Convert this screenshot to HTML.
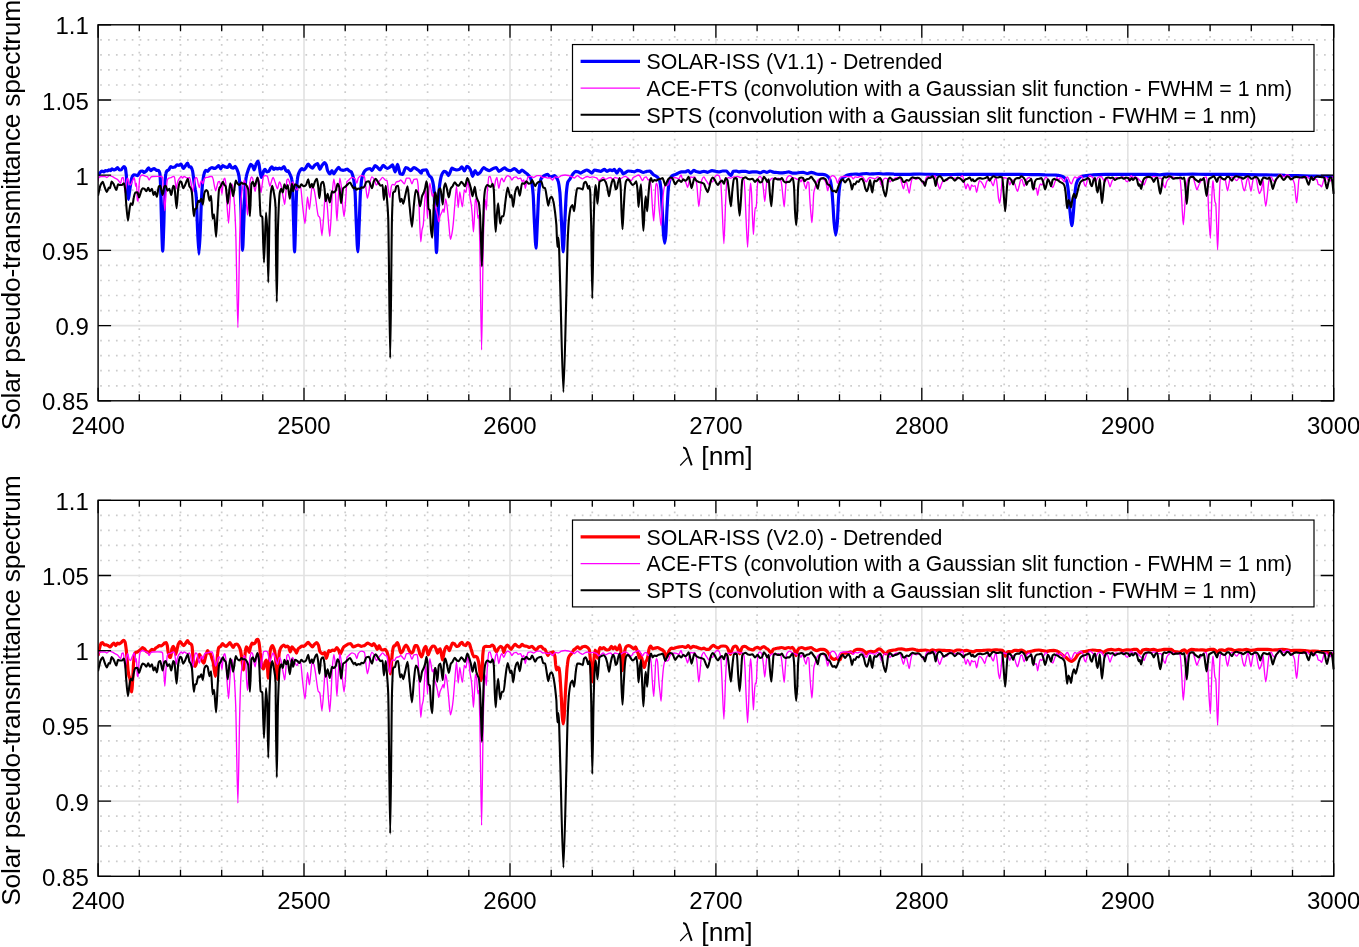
<!DOCTYPE html>
<html><head><meta charset="utf-8"><title>Solar pseudo-transmittance spectrum</title>
<style>
html,body{margin:0;padding:0;background:#fff;}
svg{display:block;will-change:transform}
text{font-family:"Liberation Sans",sans-serif;fill:#000}
.t{font-size:24px}
.a{font-size:26.4px}
.l{font-size:21.3px}
</style></head><body>
<svg width="1359" height="947" viewBox="0 0 1359 947">
<rect width="1359" height="947" fill="#fff"/>
<path d="M139.3 28.15V400.8M180.5 28.15V400.8M221.7 28.15V400.8M262.8 28.15V400.8M345.2 28.15V400.8M386.4 28.15V400.8M427.6 28.15V400.8M468.8 28.15V400.8M551.2 28.15V400.8M592.3 28.15V400.8M633.5 28.15V400.8M674.7 28.15V400.8M757.1 28.15V400.8M798.3 28.15V400.8M839.5 28.15V400.8M880.6 28.15V400.8M963.0 28.15V400.8M1004.2 28.15V400.8M1045.4 28.15V400.8M1086.6 28.15V400.8M1169.0 28.15V400.8M1210.1 28.15V400.8M1251.3 28.15V400.8M1292.5 28.15V400.8" stroke="#cccccc" stroke-width="1.7" stroke-dasharray="1.7 6.196" fill="none"/>
<path d="M100.15 39.8H1333.7M100.15 54.9H1333.7M100.15 69.9H1333.7M100.15 85.0H1333.7M100.15 115.0H1333.7M100.15 130.1H1333.7M100.15 145.1H1333.7M100.15 160.2H1333.7M100.15 190.2H1333.7M100.15 205.3H1333.7M100.15 220.3H1333.7M100.15 235.4H1333.7M100.15 265.4H1333.7M100.15 280.5H1333.7M100.15 295.5H1333.7M100.15 310.6H1333.7M100.15 340.6H1333.7M100.15 355.7H1333.7M100.15 370.7H1333.7M100.15 385.8H1333.7" stroke="#cccccc" stroke-width="1.7" stroke-dasharray="1.7 6.196" fill="none"/>
<path d="M304.0 24.8V400.8M510.0 24.8V400.8M715.9 24.8V400.8M921.8 24.8V400.8M1127.8 24.8V400.8M98.1 100.0H1333.7M98.1 175.2H1333.7M98.1 250.4H1333.7M98.1 325.6H1333.7" stroke="#e2e2e2" stroke-width="1.6" fill="none"/>
<clipPath id="c24"><rect x="98.1" y="24.8" width="1236.8000000000002" height="376.0"/></clipPath><g clip-path="url(#c24)">
<path d="M98.0 175.6C99.0 174.4 100.8 171.0 101.9 171.0C102.4 171.0 103.3 171.9 103.8 171.9C104.3 171.9 105.1 170.6 105.6 170.6C106.1 170.6 107.0 171.0 107.5 171.0C107.9 171.0 108.6 169.8 109.0 169.8C109.4 169.8 110.2 170.6 110.6 170.6C111.0 170.6 111.6 168.8 111.9 168.8C112.4 168.8 113.3 170.0 113.8 170.0C114.3 170.0 115.1 169.6 115.6 169.4C116.1 169.1 117.0 167.5 117.5 167.5C118.0 167.5 118.9 170.0 119.4 170.0C119.9 170.0 120.8 169.9 121.3 169.8C121.9 169.6 123.1 166.5 123.8 166.5C124.2 166.5 125.0 167.3 125.4 168.1C125.6 168.6 126.0 172.6 126.3 175.0C126.5 177.8 127.0 187.0 127.3 190.0C127.5 193.1 128.0 199.4 128.3 199.4C128.6 199.4 129.1 194.5 129.4 192.5C129.7 190.4 130.3 185.7 130.7 183.8C131.0 181.8 131.6 178.3 131.9 177.5C132.4 176.3 133.3 174.8 133.8 174.8C134.3 174.8 135.2 174.9 135.7 175.0C136.2 175.1 137.0 175.6 137.5 175.6C137.9 175.6 138.4 174.2 138.8 173.8C139.3 173.0 140.2 171.4 140.7 171.3C141.1 171.1 141.9 171.0 142.3 171.0C142.9 171.0 143.8 172.5 144.4 172.5C144.9 172.5 145.8 171.5 146.3 171.0C146.9 170.4 147.9 167.9 148.5 167.9C149.1 167.9 150.1 170.6 150.7 170.6C151.1 170.6 151.9 169.7 152.3 169.4C152.8 169.1 153.6 168.5 154.0 168.5C154.6 168.5 155.7 170.1 156.3 170.3C156.9 170.4 158.0 170.4 158.6 170.6C158.9 170.8 159.5 171.9 159.8 173.1C160.0 173.9 160.4 181.5 160.6 186.3C160.8 192.6 161.3 217.3 161.6 225.1C161.9 233.8 162.4 251.1 162.7 251.1C163.0 251.1 163.5 233.8 163.8 225.1C164.1 217.3 164.5 191.3 164.8 186.3C165.1 181.2 165.5 174.9 165.8 173.8C166.1 172.5 166.6 171.3 166.9 171.0C167.4 170.5 168.3 170.2 168.8 169.8C169.3 169.3 170.2 166.5 170.7 166.5C171.2 166.5 172.1 167.5 172.6 167.5C173.2 167.5 174.4 167.2 175.1 166.9C175.6 166.7 176.4 164.8 176.9 164.8C177.4 164.8 178.3 165.3 178.8 165.3C179.4 165.3 180.5 164.0 181.1 164.0C181.6 164.0 182.6 168.5 183.2 168.5C183.7 168.5 184.6 166.9 185.1 166.3C185.7 165.4 186.9 163.1 187.6 163.1C188.0 163.1 188.7 166.9 189.1 166.9C189.5 166.9 190.3 166.9 190.7 166.9C191.1 166.9 191.9 168.7 192.3 170.0C192.6 170.8 193.1 174.4 193.3 176.3C193.6 178.4 194.1 183.2 194.4 185.0C194.7 186.6 195.2 188.3 195.4 190.0C195.7 191.5 196.1 194.6 196.3 197.5C196.7 201.7 197.2 223.1 197.6 230.1C197.9 237.7 198.6 254.1 198.9 254.1C199.3 254.1 200.0 237.9 200.3 230.1C200.7 223.0 201.2 201.8 201.6 196.3C201.9 190.7 202.5 183.9 202.8 181.3C203.2 178.6 203.7 174.8 204.1 173.8C204.5 172.4 205.3 170.3 205.7 170.3C206.2 170.3 207.1 171.3 207.6 171.3C208.1 171.3 209.0 169.4 209.5 169.0C210.1 168.5 211.3 167.5 212.0 167.5C212.6 167.5 213.8 168.5 214.5 168.5C215.0 168.5 215.8 167.8 216.3 167.5C217.0 167.1 218.2 165.6 218.8 165.6C219.3 165.6 220.2 168.8 220.7 168.8C221.2 168.8 222.1 165.6 222.6 165.6C223.3 165.6 224.4 166.7 225.1 166.9C225.8 167.1 226.9 167.5 227.6 167.5C228.2 167.5 229.2 164.4 229.7 164.4C230.2 164.4 230.9 167.3 231.3 167.5C231.9 167.8 232.7 168.1 233.2 168.1C233.7 168.1 234.6 166.3 235.1 166.3C235.6 166.3 236.5 168.3 237.0 169.4C237.5 170.5 238.4 173.1 238.9 175.6C239.2 177.3 239.8 182.9 240.1 187.5C240.4 192.2 241.0 211.7 241.4 220.1C241.7 228.4 242.3 250.3 242.6 250.3C242.9 250.3 243.5 228.4 243.9 220.1C244.2 211.7 244.8 192.0 245.1 187.5C245.4 183.1 246.0 177.9 246.4 176.3C246.9 173.8 247.7 171.4 248.2 170.0C248.9 168.2 250.1 164.4 250.7 164.4C251.2 164.4 251.9 165.1 252.4 165.6C252.8 166.2 253.7 169.8 254.1 169.8C254.6 169.8 255.3 166.2 255.8 165.0C255.9 164.7 256.1 164.0 256.2 163.8C256.6 162.9 257.4 161.2 257.8 161.2C258.1 161.2 258.7 163.2 259.0 164.4C259.3 165.6 259.9 170.9 260.2 172.5C260.6 174.2 261.2 177.5 261.5 177.5C261.8 177.5 262.2 175.8 262.5 175.0C262.8 174.1 263.4 171.2 263.8 170.6C264.1 170.1 264.7 169.4 265.0 169.4C265.5 169.4 266.4 171.9 266.9 171.9C267.4 171.9 268.3 171.5 268.8 171.3C269.3 171.0 270.1 168.7 270.6 168.1C271.0 167.7 271.6 166.9 271.9 166.9C272.4 166.9 273.3 169.4 273.8 169.4C274.3 169.4 275.1 168.1 275.6 168.1C276.1 168.1 277.0 168.8 277.5 168.8C278.0 168.8 278.9 168.1 279.4 168.1C279.9 168.1 280.8 169.0 281.3 169.0C282.0 169.0 283.3 166.5 284.0 166.5C284.5 166.5 285.2 169.4 285.6 170.0C286.0 170.5 286.6 171.3 286.9 171.3C287.2 171.3 287.8 170.6 288.1 170.6C288.5 170.6 289.1 172.5 289.4 173.1C289.7 173.8 290.3 174.8 290.6 175.6C291.0 176.5 291.6 178.0 291.9 180.0C292.2 181.6 292.6 192.2 292.9 198.8C293.1 204.6 293.5 222.6 293.8 230.1C294.0 236.5 294.3 251.9 294.5 251.9C294.8 251.9 295.2 237.0 295.4 230.1C295.6 223.2 296.0 204.5 296.3 198.8C296.5 192.2 297.0 182.2 297.3 180.0C297.6 177.3 298.2 174.8 298.5 173.8C298.9 172.6 299.6 171.2 300.0 170.6C300.5 169.9 301.4 168.5 301.9 168.5C302.4 168.5 303.3 170.0 303.8 170.0C304.3 170.0 305.2 168.7 305.7 168.1C306.3 167.3 307.5 164.0 308.2 164.0C308.7 164.0 309.5 165.8 310.0 166.3C310.7 166.9 311.9 168.1 312.5 168.1C313.0 168.1 313.9 166.1 314.4 165.6C315.3 164.9 316.7 163.5 317.6 163.5C318.2 163.5 319.2 169.4 319.8 169.4C320.4 169.4 321.4 166.5 321.9 165.6C322.6 164.7 323.8 162.5 324.4 162.5C324.9 162.5 325.8 163.9 326.3 165.0C326.6 165.7 327.2 169.9 327.6 170.6C328.2 172.0 329.4 173.8 330.1 173.8C330.6 173.8 331.4 170.6 331.9 170.6C332.4 170.6 333.3 173.8 333.8 173.8C334.5 173.8 335.6 170.9 336.3 170.0C336.9 169.2 338.0 167.3 338.6 167.3C339.1 167.3 340.1 169.6 340.7 169.8C341.4 170.0 342.5 170.3 343.2 170.3C343.7 170.3 344.6 169.9 345.1 169.8C345.7 169.6 346.7 169.0 347.3 169.0C347.9 169.0 348.9 170.7 349.4 171.0C349.9 171.3 350.8 171.5 351.3 171.9C351.7 172.2 352.2 174.0 352.6 175.0C352.9 176.0 353.5 178.1 353.8 180.0C354.2 181.9 354.7 187.8 355.1 192.5C355.4 197.3 356.0 216.6 356.3 223.8C356.7 232.4 357.4 251.9 357.8 251.9C358.2 251.9 358.8 232.1 359.2 223.8C359.5 216.3 360.1 197.6 360.4 192.5C360.8 187.9 361.3 181.8 361.6 180.0C362.0 177.5 362.8 174.8 363.2 173.8C363.7 172.6 364.6 171.1 365.1 170.6C365.7 170.0 366.9 169.2 367.6 169.0C368.2 168.8 369.4 168.5 370.1 168.5C370.6 168.5 371.5 170.6 372.0 170.6C372.8 170.6 374.3 165.6 375.1 165.6C375.8 165.6 376.9 167.0 377.6 167.5C378.3 168.1 379.4 169.8 380.1 169.8C380.9 169.8 382.4 165.3 383.2 165.3C383.9 165.3 385.1 167.1 385.7 167.5C386.2 167.8 387.1 168.5 387.6 168.5C388.3 168.5 389.4 167.4 390.1 166.9C390.8 166.4 391.9 164.8 392.6 164.8C393.3 164.8 394.4 171.9 395.1 171.9C395.8 171.9 396.9 164.4 397.6 164.4C398.3 164.4 399.4 173.4 400.1 173.8C400.8 174.1 401.9 174.4 402.6 174.4C403.4 174.4 404.9 167.5 405.7 167.5C406.2 167.5 407.1 167.9 407.6 168.1C408.4 168.5 409.9 170.6 410.7 170.6C411.6 170.6 413.0 167.5 413.9 167.5C414.5 167.5 415.7 168.4 416.4 168.8C417.0 169.2 418.2 170.1 418.9 170.6C419.5 171.2 420.7 173.1 421.4 173.1C421.5 173.1 421.7 170.7 421.9 170.6C422.5 170.2 423.7 170.1 424.4 170.0C424.9 169.9 425.9 169.8 426.5 169.8C426.9 169.8 427.7 172.9 428.1 173.8C428.6 174.6 429.3 175.8 429.8 176.3C430.2 176.7 430.9 177.0 431.3 177.5C431.7 178.0 432.4 180.3 432.8 181.9C433.1 183.3 433.7 186.5 434.0 190.0C434.3 192.9 434.8 210.7 435.0 217.6C435.4 227.7 436.1 252.6 436.5 252.6C436.9 252.6 437.6 227.1 438.0 217.6C438.3 210.4 438.8 193.7 439.1 190.0C439.5 186.0 440.1 181.7 440.4 180.0C440.8 177.9 441.5 175.3 441.9 174.4C442.5 173.2 443.5 171.3 444.0 171.3C444.6 171.3 445.5 171.6 446.0 171.9C446.7 172.2 447.9 175.6 448.5 175.6C448.9 175.6 449.6 173.4 450.0 172.5C450.5 171.4 451.4 168.1 451.9 168.1C452.6 168.1 453.7 169.2 454.4 169.4C455.1 169.6 456.2 170.0 456.9 170.0C457.6 170.0 458.7 169.7 459.4 169.4C460.1 169.1 461.2 166.9 461.9 166.9C462.6 166.9 463.7 171.0 464.4 171.0C465.1 171.0 466.2 166.3 466.9 166.3C467.6 166.3 468.8 167.4 469.4 168.1C469.9 168.6 470.6 170.2 471.0 171.3C471.4 172.2 472.1 176.3 472.5 176.3C473.2 176.3 474.4 170.6 475.1 170.6C475.7 170.6 476.9 174.4 477.6 174.4C478.2 174.4 479.4 173.1 480.1 172.5C481.1 171.6 482.8 167.5 483.8 167.5C484.5 167.5 485.6 169.0 486.3 169.4C487.1 169.8 488.6 170.6 489.4 170.6C490.4 170.6 492.2 168.9 493.2 168.5C494.0 168.2 495.5 167.5 496.3 167.5C497.0 167.5 498.1 171.3 498.8 171.3C499.5 171.3 500.6 170.4 501.3 170.0C502.1 169.5 503.6 167.9 504.4 167.9C505.3 167.9 506.7 169.8 507.6 170.0C508.4 170.3 509.9 170.6 510.7 170.6C511.7 170.6 513.5 168.5 514.5 168.5C515.1 168.5 516.3 170.1 517.0 170.6C517.6 171.2 518.8 172.5 519.5 172.5C520.1 172.5 521.3 170.0 522.0 170.0C522.6 170.0 523.8 171.4 524.5 171.9C525.1 172.4 526.3 173.2 527.0 173.8C527.5 174.2 528.3 175.1 528.8 175.6C529.3 176.2 530.2 177.1 530.7 178.1C531.0 178.9 531.6 181.8 532.0 183.8C532.3 185.8 532.9 190.7 533.2 195.0C533.5 199.3 534.1 217.4 534.5 223.8C534.9 231.5 535.6 248.2 536.0 248.2C536.3 248.2 537.0 231.1 537.3 223.8C537.7 217.1 538.3 199.3 538.6 195.0C538.9 190.7 539.5 185.6 539.8 183.8C540.2 181.9 540.8 179.4 541.1 178.8C541.5 178.0 542.2 177.2 542.6 176.9C543.3 176.3 544.4 175.6 545.1 175.3C545.8 175.0 546.9 174.4 547.6 174.4C548.3 174.4 549.4 176.9 550.1 176.9C550.8 176.9 551.9 176.5 552.6 176.3C553.1 176.1 554.0 175.6 554.5 175.6C555.0 175.6 555.9 176.9 556.4 177.5C556.9 178.2 557.7 179.7 558.2 181.3C558.7 182.6 559.4 188.1 559.9 192.5C560.3 196.6 561.0 213.0 561.4 220.1C561.9 228.9 562.7 251.9 563.2 251.9C563.7 251.9 564.4 228.3 564.9 220.1C565.3 212.5 566.0 196.6 566.4 192.5C566.8 188.4 567.5 182.9 567.9 181.9C568.5 180.4 569.5 179.7 570.1 178.8C570.8 177.7 572.0 175.2 572.6 174.4C573.5 173.3 574.9 171.3 575.8 171.3C576.4 171.3 577.5 171.7 578.1 171.9C578.8 172.1 580.0 173.1 580.6 173.1C581.5 173.1 582.9 171.7 583.8 171.3C584.6 170.9 586.0 170.0 586.9 170.0C587.5 170.0 588.7 170.9 589.4 171.3C590.1 171.7 591.2 173.1 591.9 173.1C592.6 173.1 593.7 170.0 594.4 170.0C595.2 170.0 596.7 170.5 597.5 170.6C598.4 170.8 599.8 171.3 600.6 171.3C601.6 171.3 603.4 169.4 604.4 169.4C605.1 169.4 606.2 171.3 606.9 171.3C607.7 171.3 609.2 169.8 610.0 169.8C610.7 169.8 611.9 170.6 612.5 170.6C613.0 170.6 613.9 169.4 614.4 169.4C615.1 169.4 616.2 173.1 616.9 173.1C617.6 173.1 618.7 169.0 619.4 169.0C619.9 169.0 620.8 170.1 621.3 170.6C621.8 171.2 622.7 173.8 623.2 173.8C623.8 173.8 625.0 172.9 625.7 172.5C626.3 172.1 627.5 171.0 628.2 171.0C629.0 171.0 630.5 171.2 631.3 171.3C632.1 171.4 633.6 171.9 634.4 171.9C635.3 171.9 636.7 170.3 637.5 170.3C638.2 170.3 639.4 170.8 640.0 171.0C640.9 171.3 642.3 172.5 643.2 172.5C644.2 172.5 645.9 171.4 646.9 171.3C647.8 171.2 649.2 171.0 650.1 171.0C650.6 171.0 651.4 172.6 651.9 173.1C652.4 173.7 653.3 174.7 653.8 175.0C654.5 175.5 655.6 175.8 656.3 176.3C656.8 176.6 657.7 177.5 658.2 178.1C658.6 178.7 659.4 179.9 659.8 181.3C660.1 182.3 660.7 186.7 661.1 190.0C661.4 193.4 662.0 205.3 662.3 211.3C662.7 217.3 663.2 231.6 663.6 235.1C663.9 238.2 664.4 243.2 664.7 243.2C665.0 243.2 665.5 238.3 665.8 235.1C666.1 231.8 666.6 216.9 666.9 211.3C667.3 205.0 667.9 193.3 668.2 190.0C668.5 186.7 669.1 182.6 669.5 181.3C669.9 179.6 670.6 177.4 671.1 176.9C671.6 176.2 672.6 175.5 673.2 175.3C673.9 174.9 675.0 174.7 675.7 174.4C676.4 174.1 677.5 173.4 678.2 173.1C679.0 172.8 680.5 171.9 681.3 171.9C682.3 171.9 684.1 171.9 685.1 171.9C685.9 171.9 687.4 170.6 688.2 170.6C688.9 170.6 690.0 173.1 690.7 173.1C691.5 173.1 693.0 170.3 693.8 170.3C694.5 170.3 695.7 171.3 696.3 171.5C697.3 171.8 699.1 172.3 700.1 172.3C701.1 172.3 702.8 171.3 703.9 171.3C704.9 171.3 706.6 172.3 707.6 172.3C708.8 172.3 710.8 170.6 712.0 170.6C713.0 170.6 714.7 171.1 715.7 171.3C716.6 171.4 718.0 171.9 718.9 171.9C719.9 171.9 721.6 171.0 722.6 171.0C723.6 171.0 725.4 171.0 726.4 171.0C727.0 171.0 728.2 173.1 728.9 173.8C729.5 174.3 730.5 175.6 731.1 175.6C731.7 175.6 732.7 171.4 733.2 171.3C734.1 171.1 735.5 171.0 736.4 171.0C737.0 171.0 738.1 171.9 738.8 171.9C739.6 171.9 741.0 171.3 741.9 171.3C742.9 171.3 744.6 171.3 745.6 171.3C746.5 171.3 747.9 172.3 748.8 172.3C749.8 172.3 751.5 171.9 752.5 171.9C753.5 171.9 755.3 171.9 756.3 171.9C757.3 171.9 759.0 172.8 760.0 172.8C761.0 172.8 762.8 171.3 763.8 171.3C764.6 171.3 766.1 172.5 766.9 172.5C767.7 172.5 769.2 171.0 770.0 171.0C771.0 171.0 772.8 172.1 773.8 172.3C774.8 172.4 776.5 172.4 777.5 172.5C778.5 172.6 780.3 172.8 781.3 172.8C782.3 172.8 784.0 172.6 785.0 172.5C786.0 172.4 787.8 171.9 788.8 171.9C789.8 171.9 791.5 173.1 792.5 173.1C793.5 173.1 795.3 173.1 796.3 173.1C797.3 173.1 799.0 172.6 800.0 172.5C800.9 172.4 802.3 172.3 803.2 172.3C804.2 172.3 805.9 173.5 806.9 173.5C808.1 173.5 810.1 172.3 811.3 172.3C812.3 172.3 814.1 173.2 815.1 173.5C816.1 173.8 817.8 174.4 818.8 174.4C819.8 174.4 821.6 174.4 822.6 174.4C823.4 174.4 824.9 174.7 825.7 175.0C826.4 175.2 827.5 176.2 828.2 176.9C828.7 177.4 829.6 178.7 830.1 180.0C830.5 181.0 831.2 184.7 831.6 187.5C831.9 189.9 832.5 198.0 832.8 202.5C833.2 207.1 833.7 219.0 834.1 222.6C834.5 227.1 835.3 235.1 835.7 235.1C836.1 235.1 836.9 227.6 837.3 222.6C837.6 219.5 838.1 206.8 838.3 202.5C838.6 197.7 839.2 189.7 839.5 187.5C839.8 185.1 840.4 182.1 840.7 181.3C841.2 180.0 842.1 178.7 842.6 178.1C843.2 177.4 844.4 176.7 845.1 176.3C845.7 175.9 846.9 175.2 847.6 175.0C848.6 174.8 850.3 174.5 851.3 174.4C852.3 174.3 854.1 174.0 855.1 174.0C856.1 174.0 857.8 174.4 858.8 174.4C859.8 174.4 861.6 173.9 862.6 173.8C863.6 173.7 865.4 173.5 866.4 173.5C867.4 173.5 869.1 174.0 870.1 174.0C871.1 174.0 872.9 173.8 873.9 173.8C875.2 173.7 877.5 173.5 878.9 173.5C880.2 173.5 882.5 174.0 883.9 174.0C885.2 174.0 887.5 173.8 888.9 173.8C890.2 173.8 892.5 173.9 893.9 174.0C894.2 174.0 894.7 174.4 895.0 174.4C898.3 174.4 904.2 174.4 907.5 174.4C910.8 174.4 916.7 174.0 920.0 174.0C923.4 174.0 929.2 174.3 932.5 174.4C935.9 174.5 941.7 174.6 945.0 174.6C948.4 174.6 954.2 174.4 957.5 174.4C960.9 174.4 966.7 174.4 970.1 174.4C973.4 174.4 979.2 174.4 982.6 174.4C985.9 174.4 991.7 174.4 995.1 174.4C998.4 174.4 1004.2 174.4 1007.6 174.4C1010.9 174.4 1016.8 174.4 1020.1 174.4C1023.4 174.4 1029.3 174.6 1032.6 174.6C1035.9 174.7 1041.8 174.7 1045.1 174.8C1047.8 174.8 1052.5 174.9 1055.1 175.0C1056.1 175.1 1057.8 175.2 1058.8 175.4C1059.8 175.5 1061.5 176.1 1062.5 176.5C1063.2 176.8 1064.3 177.5 1065.0 178.1C1065.5 178.6 1066.4 180.3 1066.9 181.9C1067.3 183.3 1068.1 188.8 1068.5 192.5C1068.9 196.0 1069.6 207.5 1070.0 211.3C1070.5 216.1 1071.4 225.7 1071.9 225.7C1072.3 225.7 1073.1 215.8 1073.5 211.3C1073.9 207.1 1074.6 195.9 1075.0 192.5C1075.4 189.2 1076.1 184.4 1076.5 183.2C1077.1 181.3 1078.2 179.5 1078.8 178.8C1079.6 177.8 1081.1 176.5 1081.9 176.3C1083.1 176.0 1085.1 175.8 1086.3 175.6C1087.9 175.4 1090.9 174.8 1092.5 174.8C1095.9 174.6 1101.7 174.4 1105.0 174.4C1108.4 174.4 1114.2 174.4 1117.5 174.4C1120.9 174.4 1126.7 174.4 1130.1 174.4C1133.4 174.4 1139.2 174.4 1142.6 174.4C1145.9 174.4 1151.7 174.4 1155.1 174.4C1156.4 174.4 1158.7 174.8 1160.1 174.8C1162.1 174.8 1165.6 174.1 1167.6 174.1C1170.9 174.1 1176.8 174.4 1180.1 174.4C1183.4 174.4 1189.3 174.1 1192.6 174.1C1195.9 174.1 1201.8 174.4 1205.1 174.4C1208.4 174.4 1214.3 174.4 1217.6 174.4C1222.3 174.4 1230.4 174.4 1235.0 174.4C1241.7 174.4 1253.4 174.6 1260.1 174.8C1263.4 174.8 1269.2 175.0 1272.6 175.0C1275.9 175.1 1281.7 175.2 1285.1 175.3C1288.4 175.3 1294.2 175.5 1297.6 175.6C1300.9 175.7 1306.8 175.9 1310.1 176.0C1313.4 176.1 1319.3 176.2 1322.6 176.3C1325.5 176.3 1330.7 176.5 1333.6 176.5" stroke="#0000ff" stroke-width="3.2" fill="none" stroke-linejoin="round"/>
<path d="M98.0 181.3C98.2 180.3 98.5 177.7 98.8 177.5C99.4 176.9 100.6 176.5 101.2 176.5C102.3 176.5 104.0 176.5 105.0 176.5C105.5 176.5 106.4 177.5 106.9 177.5C107.5 177.5 108.7 175.6 109.4 175.6C110.1 175.6 111.2 176.0 111.9 176.3C112.7 176.6 114.2 177.7 115.0 178.1C115.7 178.5 116.9 178.9 117.5 179.4C118.0 179.8 118.9 181.3 119.4 181.9C119.7 182.3 120.3 183.2 120.6 183.2C121.0 183.2 121.6 178.4 121.9 178.1C122.2 177.8 122.8 177.5 123.2 177.5C123.4 177.5 123.8 180.3 124.0 181.9C124.3 183.7 124.8 192.5 125.0 192.5C125.3 192.5 125.8 189.2 126.0 187.5C126.3 186.0 126.7 180.8 126.9 180.0C127.1 179.2 127.5 178.1 127.8 178.1C128.1 178.1 128.7 183.3 129.0 183.8C129.5 184.4 130.2 185.0 130.7 185.0C131.0 185.0 131.6 182.6 131.9 181.9C132.2 181.2 132.8 180.1 133.2 179.4C133.4 178.9 133.8 177.5 134.0 177.5C134.2 177.5 134.6 179.1 134.8 180.0C135.0 181.1 135.4 186.3 135.7 186.3C135.9 186.3 136.3 183.2 136.5 183.2C136.7 183.2 137.1 199.5 137.3 200.0C137.5 200.7 137.9 201.3 138.2 201.3C138.4 201.3 138.8 189.3 139.0 186.3C139.2 183.6 139.6 178.9 139.8 178.1C140.0 177.2 140.4 176.2 140.7 176.0C141.2 175.5 142.0 175.0 142.5 175.0C143.2 175.0 144.4 175.8 145.0 176.0C145.7 176.3 146.9 176.5 147.5 176.9C148.0 177.2 148.7 180.0 149.2 180.0C149.6 180.0 150.3 177.5 150.7 177.3C151.2 176.9 152.0 176.6 152.5 176.5C153.9 176.4 156.2 176.3 157.6 176.3C158.6 176.3 160.3 176.4 161.3 176.5C161.6 176.6 162.2 177.0 162.6 177.5C162.8 177.9 163.3 188.6 163.6 192.5C163.9 197.5 164.5 210.7 164.8 210.7C165.1 210.7 165.7 196.5 166.1 192.5C166.4 188.6 167.0 180.8 167.3 180.0C167.7 179.1 168.4 178.3 168.8 178.1C169.5 177.8 170.6 177.8 171.3 177.5C171.8 177.3 172.7 176.3 173.2 176.3C173.5 176.3 174.1 176.6 174.4 176.9C174.7 177.1 175.1 181.0 175.3 182.5C175.6 184.2 176.0 188.8 176.3 188.8C176.6 188.8 177.2 182.9 177.6 181.9C177.9 180.9 178.5 180.0 178.8 179.4C179.1 178.8 179.7 177.9 180.1 177.5C180.4 177.2 181.0 176.5 181.3 176.5C181.6 176.5 182.2 178.1 182.6 178.1C183.0 178.1 183.7 176.3 184.1 176.3C184.5 176.3 185.3 177.0 185.7 177.3C186.2 177.5 187.1 178.1 187.6 178.1C188.1 178.1 188.9 177.5 189.4 177.5C189.8 177.5 190.4 179.9 190.7 181.3C190.9 182.2 191.3 184.9 191.6 186.3C191.8 187.9 192.3 192.5 192.6 192.5C192.9 192.5 193.5 188.2 193.8 186.3C194.1 184.7 194.6 180.2 194.8 179.4C195.1 178.6 195.5 177.5 195.7 177.5C196.0 177.5 196.6 177.8 196.9 178.1C197.3 178.4 197.9 182.6 198.2 183.8C198.5 185.0 199.1 187.5 199.4 187.5C199.8 187.5 200.4 182.6 200.7 181.9C200.9 181.4 201.3 180.6 201.6 180.6C201.9 180.6 202.5 183.8 202.8 183.8C203.2 183.8 203.7 180.0 204.1 179.4C204.5 178.6 205.3 177.6 205.7 177.5C206.2 177.4 207.1 177.4 207.6 177.3C208.2 177.1 209.4 176.5 210.1 176.5C210.6 176.5 211.5 176.5 212.0 176.5C212.3 176.5 212.9 178.3 213.2 179.4C213.5 180.5 214.1 184.8 214.5 186.3C214.8 187.7 215.4 190.7 215.7 190.7C216.1 190.7 216.6 187.4 217.0 186.3C217.3 185.1 217.9 182.2 218.2 181.9C218.6 181.6 219.1 181.3 219.5 181.3C219.8 181.3 220.4 184.7 220.7 186.3C221.1 187.9 221.6 193.8 222.0 193.8C222.2 193.8 222.6 188.1 222.8 186.3C223.1 184.2 223.6 180.0 223.8 179.4C224.1 178.8 224.5 178.1 224.7 178.1C225.0 178.1 225.5 180.7 225.7 182.5C226.1 184.8 226.6 200.4 227.0 205.0C227.4 211.1 228.2 223.2 228.6 223.2C228.9 223.2 229.5 210.0 229.8 205.0C230.2 200.1 230.8 187.8 231.1 186.3C231.3 185.2 231.7 183.8 232.0 183.8C232.3 183.8 232.9 187.7 233.2 190.0C233.6 192.4 234.1 200.0 234.5 205.0C234.8 210.0 235.4 221.1 235.7 230.1C236.3 245.4 237.3 327.6 237.9 327.6C238.4 327.6 239.3 247.3 239.9 230.1C240.2 219.3 240.8 202.6 241.1 198.8C241.7 192.2 242.7 186.1 243.2 183.8C243.6 182.4 244.2 180.0 244.5 180.0C244.8 180.0 245.4 183.5 245.7 186.3C246.0 188.2 246.4 201.8 246.6 205.0C246.9 208.7 247.3 215.1 247.6 215.1C247.9 215.1 248.4 202.7 248.6 198.8C249.0 194.0 249.5 184.5 249.9 182.5C250.3 180.2 251.0 176.9 251.4 176.9C251.7 176.9 252.3 177.6 252.6 178.1C253.0 178.7 253.5 184.6 253.9 186.3C254.2 187.9 254.8 191.3 255.1 191.3C255.4 191.3 255.9 186.6 256.2 185.0C256.6 182.9 257.4 177.5 257.8 177.5C258.2 177.5 258.9 180.7 259.4 182.5C259.8 184.3 260.6 192.5 261.0 192.5C261.3 192.5 261.9 185.9 262.3 183.8C262.6 181.6 263.2 176.5 263.5 176.3C264.1 175.9 265.1 175.6 265.6 175.6C266.1 175.6 267.0 175.9 267.5 176.3C267.8 176.5 268.4 180.6 268.8 181.9C269.1 183.2 269.7 186.3 270.0 186.3C270.3 186.3 270.9 182.8 271.3 181.9C271.8 180.5 272.6 177.5 273.1 177.5C273.6 177.5 274.5 180.6 275.0 181.9C275.7 183.6 276.9 188.8 277.5 188.8C278.0 188.8 278.9 181.9 279.4 181.9C279.7 181.9 280.3 183.0 280.6 183.8C281.0 184.5 281.6 188.3 281.9 190.0C282.3 192.3 283.1 196.7 283.5 198.8C283.9 200.4 284.4 204.4 284.8 204.4C285.1 204.4 285.7 195.1 286.0 191.3C286.3 188.6 286.7 180.5 286.9 180.0C287.2 179.4 287.8 178.8 288.1 178.8C288.5 178.8 289.1 180.9 289.4 181.9C289.7 182.9 290.3 186.3 290.6 186.3C291.2 186.3 292.0 181.9 292.5 181.9C293.2 181.9 294.4 186.4 295.0 187.5C295.5 188.3 296.4 190.0 296.9 190.0C297.4 190.0 298.3 186.3 298.8 186.3C299.3 186.3 300.2 186.9 300.7 187.5C301.2 188.1 302.0 200.9 302.5 205.0C303.2 210.6 304.4 223.6 305.0 223.6C305.4 223.6 306.1 211.8 306.5 207.5C306.8 204.7 307.3 196.9 307.5 196.9C308.0 196.9 308.9 209.4 309.4 209.4C309.8 209.4 310.3 201.7 310.7 198.8C311.0 195.9 311.6 187.5 311.9 187.5C312.4 187.5 313.3 188.2 313.8 188.8C314.3 189.4 315.2 195.8 315.7 198.8C316.3 202.7 317.5 214.4 318.2 215.7C318.6 216.5 319.4 216.7 319.8 217.6C320.4 218.7 321.4 235.1 321.9 235.1C322.4 235.1 323.1 222.9 323.6 217.6C323.9 213.5 324.5 201.5 324.8 200.0C325.2 198.3 325.9 196.3 326.3 196.3C326.6 196.3 327.2 206.2 327.6 210.0C328.1 216.6 329.1 236.3 329.7 236.3C330.0 236.3 330.7 223.5 331.1 217.6C331.4 212.1 332.0 196.8 332.3 192.5C332.7 187.4 333.4 178.8 333.8 178.8C334.1 178.8 334.7 183.4 335.1 186.3C335.6 190.7 336.4 220.7 336.9 220.7C337.4 220.7 338.1 198.5 338.6 192.5C338.9 188.0 339.5 178.1 339.8 178.1C340.2 178.1 340.9 183.0 341.3 186.3C341.6 189.0 342.2 201.6 342.6 205.0C343.0 209.1 343.7 216.6 344.1 216.6C344.4 216.6 345.0 208.7 345.3 205.0C345.8 200.2 346.5 182.7 346.9 181.9C347.4 180.9 348.3 180.5 348.8 180.0C349.7 179.2 351.1 177.3 351.9 177.3C352.8 177.3 354.2 178.1 355.1 178.8C355.6 179.2 356.5 183.2 356.9 183.2C357.3 183.2 357.9 178.6 358.2 178.1C359.0 176.9 360.5 175.6 361.3 175.6C362.2 175.6 363.6 176.2 364.5 176.9C364.8 177.2 365.4 183.8 365.7 186.3C366.1 189.5 366.9 198.2 367.3 198.2C367.7 198.2 368.4 194.6 368.8 192.5C369.2 190.8 369.8 183.3 370.1 181.9C370.6 179.8 371.5 176.9 372.0 176.9C372.6 176.9 373.8 178.9 374.5 180.0C375.0 180.9 375.8 185.0 376.3 185.0C377.0 185.0 378.2 182.8 378.8 181.9C379.3 181.3 380.2 180.0 380.7 179.4C381.2 178.8 382.1 177.3 382.6 177.3C383.3 177.3 384.4 179.7 385.1 180.0C385.6 180.3 386.5 180.3 387.0 180.6C387.3 180.9 387.9 186.8 388.2 188.8C388.7 191.3 389.4 197.5 389.9 197.5C390.2 197.5 391.0 187.2 391.4 186.3C391.7 185.5 392.3 184.4 392.6 184.4C393.1 184.4 394.0 185.0 394.5 185.0C395.0 185.0 395.9 182.1 396.4 181.9C397.0 181.6 398.2 181.5 398.9 181.3C399.4 181.1 400.2 180.0 400.7 180.0C401.2 180.0 402.1 181.4 402.6 181.9C403.1 182.4 404.0 183.8 404.5 183.8C405.0 183.8 405.9 178.1 406.4 178.1C407.2 178.1 408.7 178.1 409.5 178.1C410.2 178.1 411.3 183.8 412.0 183.8C412.5 183.8 413.4 179.6 413.9 179.4C414.7 179.1 416.2 178.8 417.0 178.8C417.3 178.8 417.9 183.0 418.2 186.3C418.6 189.5 419.2 210.2 419.5 217.6C419.8 224.9 420.4 241.9 420.8 241.9C421.1 241.9 421.7 231.9 422.0 230.1C422.3 228.2 422.9 227.2 423.2 225.1C423.6 222.9 424.2 209.9 424.5 205.0C424.8 200.7 425.3 190.0 425.6 190.0C425.9 190.0 426.3 195.7 426.5 198.8C426.8 202.3 427.2 218.2 427.5 218.2C427.8 218.2 428.2 202.9 428.5 198.8C428.8 193.7 429.4 183.2 429.8 183.2C430.1 183.2 430.7 187.1 431.0 188.8C431.3 190.5 431.9 196.3 432.3 196.3C432.6 196.3 433.2 193.8 433.5 193.8C433.8 193.8 434.4 203.5 434.8 205.0C435.1 206.5 435.7 207.6 436.0 208.8C436.4 210.2 437.1 213.1 437.5 215.1C437.9 216.6 438.4 221.9 438.8 221.9C439.1 221.9 439.7 217.3 440.0 216.3C440.5 214.7 441.4 213.1 441.9 211.9C442.2 211.1 442.8 208.8 443.1 208.8C443.4 208.8 443.8 212.5 444.0 212.5C444.5 212.5 445.2 198.8 445.6 198.8C446.0 198.8 446.6 202.9 446.9 205.0C447.3 207.8 448.1 215.8 448.5 220.1C449.0 224.9 449.9 239.4 450.4 239.4C450.8 239.4 451.5 235.8 451.9 233.8C452.2 232.2 452.8 228.0 453.1 225.1C453.6 221.2 454.3 210.0 454.8 205.0C455.2 199.7 456.1 186.3 456.5 186.3C457.0 186.3 457.7 207.5 458.2 207.5C458.6 207.5 459.3 191.9 459.8 191.9C460.4 191.9 461.6 206.9 462.3 206.9C462.9 206.9 463.8 190.0 464.4 190.0C464.8 190.0 465.6 192.5 466.0 192.5C466.4 192.5 467.1 181.9 467.5 181.9C467.9 181.9 468.6 185.3 469.0 187.5C469.3 189.0 469.8 195.5 470.0 197.5C470.4 200.1 471.0 202.5 471.3 205.0C471.6 207.1 472.0 211.9 472.3 215.1C472.6 218.6 473.1 231.9 473.4 231.9C473.7 231.9 474.2 222.1 474.4 217.6C474.7 213.5 475.1 198.8 475.3 198.8C475.6 198.8 476.2 201.0 476.6 202.5C476.9 204.3 477.6 218.2 477.9 218.2C478.2 218.2 478.6 215.1 478.8 215.1C479.1 215.1 479.5 232.8 479.8 242.6C480.3 259.7 481.1 349.8 481.6 349.8C482.0 349.8 482.8 262.0 483.3 242.6C483.5 234.3 483.9 223.3 484.1 217.6C484.2 211.8 484.6 198.8 484.8 198.8C485.0 198.8 485.4 201.0 485.7 202.5C485.8 203.6 486.1 210.0 486.3 210.0C486.6 210.0 487.0 196.1 487.3 192.5C487.7 187.2 488.4 177.3 488.8 176.9C489.1 176.6 489.7 176.3 490.1 176.3C490.5 176.3 491.2 180.7 491.6 181.9C491.9 182.9 492.5 184.3 492.8 185.0C493.1 185.8 493.7 187.5 494.1 187.5C494.5 187.5 495.3 181.2 495.7 180.0C496.0 179.1 496.6 177.5 496.9 177.5C497.4 177.5 498.3 188.2 498.8 188.2C499.3 188.2 500.2 181.1 500.7 180.0C501.0 179.3 501.6 178.1 501.9 178.1C502.4 178.1 503.3 181.9 503.8 181.9C504.3 181.9 505.2 178.2 505.7 177.5C506.2 176.8 507.1 175.6 507.6 175.6C508.2 175.6 509.4 176.4 510.1 176.9C510.6 177.3 511.4 180.0 511.9 180.0C512.4 180.0 513.3 177.7 513.8 177.5C514.5 177.2 515.7 176.9 516.3 176.9C516.8 176.9 517.7 178.8 518.2 178.8C518.9 178.8 520.0 178.1 520.7 178.1C521.0 178.1 521.6 181.3 522.0 181.3C522.5 181.3 523.3 180.0 523.8 180.0C524.2 180.0 524.9 188.2 525.3 188.2C525.8 188.2 526.5 181.4 527.0 180.0C527.3 178.9 527.9 177.1 528.2 176.9C528.9 176.6 530.0 176.3 530.7 176.3C531.5 176.3 533.0 177.5 533.8 177.5C534.7 177.5 536.1 175.6 537.0 175.6C537.8 175.6 539.3 175.6 540.1 175.6C540.8 175.6 541.9 177.5 542.6 177.5C543.3 177.5 544.4 177.3 545.1 177.3C545.8 177.3 546.9 178.1 547.6 178.1C548.3 178.1 549.4 177.5 550.1 177.5C550.8 177.5 551.9 180.0 552.6 180.0C553.3 180.0 554.4 176.9 555.1 176.9C555.9 176.9 557.4 177.5 558.2 177.5C559.1 177.5 560.5 175.9 561.4 175.6C562.4 175.4 564.1 175.0 565.1 175.0C566.1 175.0 567.9 175.4 568.9 175.6C569.7 175.8 571.2 176.5 572.0 176.9C572.7 177.2 573.8 178.1 574.5 178.1C574.6 178.1 574.9 177.7 575.0 177.5C575.7 176.9 576.8 175.6 577.5 175.6C578.2 175.6 579.3 177.1 580.0 177.5C580.7 177.9 581.8 178.8 582.5 178.8C583.2 178.8 584.3 177.5 585.0 177.3C585.7 177.0 586.8 176.5 587.5 176.5C588.2 176.5 589.3 177.5 590.0 177.5C590.7 177.5 591.8 176.9 592.5 176.9C593.2 176.9 594.4 177.1 595.0 177.3C595.5 177.4 596.4 177.8 596.9 178.1C597.4 178.5 598.3 180.6 598.8 180.6C599.3 180.6 600.1 179.7 600.6 179.4C601.3 178.9 602.5 177.5 603.1 177.5C603.8 177.5 605.0 179.4 605.6 179.4C606.3 179.4 607.5 178.4 608.1 178.1C608.8 177.9 610.0 177.5 610.6 177.5C611.2 177.5 612.0 179.4 612.5 179.4C613.2 179.4 614.4 177.5 615.0 177.5C615.7 177.5 616.9 178.0 617.5 178.1C618.2 178.3 619.4 178.8 620.0 178.8C620.7 178.8 621.9 177.9 622.5 177.5C623.2 177.2 624.4 176.3 625.0 176.3C625.7 176.3 626.9 177.1 627.5 177.5C628.0 177.9 628.9 179.0 629.4 179.4C629.9 179.8 630.8 180.6 631.3 180.6C631.8 180.6 632.7 177.9 633.2 177.5C633.8 177.0 635.0 176.6 635.7 176.3C636.5 175.9 638.0 175.0 638.8 175.0C639.3 175.0 640.2 176.8 640.7 177.5C641.2 178.3 642.0 180.6 642.5 180.6C643.1 180.6 643.9 177.8 644.4 177.5C644.9 177.2 645.8 176.9 646.3 176.9C646.8 176.9 647.7 180.0 648.2 180.0C648.6 180.0 649.4 179.4 649.8 179.4C650.1 179.4 650.7 183.6 651.1 186.3C651.4 189.0 652.0 200.7 652.3 205.0C652.7 209.8 653.3 220.7 653.7 220.7C654.0 220.7 654.5 210.1 654.8 205.0C655.0 201.1 655.5 187.7 655.7 186.3C655.9 184.8 656.3 183.2 656.6 183.2C656.8 183.2 657.3 184.9 657.6 186.3C657.9 188.0 658.5 201.0 658.8 205.0C659.1 209.0 659.7 214.6 660.1 217.6C660.3 219.9 660.8 225.7 661.1 225.7C661.4 225.7 662.0 209.2 662.3 205.0C662.7 200.0 663.4 192.2 663.8 190.0C664.2 187.8 664.9 184.4 665.3 184.4C665.8 184.4 666.5 185.7 666.9 185.7C667.4 185.7 668.1 184.9 668.6 184.4C669.0 183.9 669.7 180.6 670.1 180.0C670.6 179.3 671.4 178.3 672.0 178.1C672.6 177.9 673.8 177.5 674.5 177.5C675.1 177.5 676.3 177.9 677.0 178.1C677.5 178.3 678.3 178.8 678.8 178.8C679.4 178.8 680.5 175.0 681.1 175.0C681.5 175.0 682.4 180.0 682.8 180.0C683.3 180.0 684.0 179.4 684.5 179.4C684.9 179.4 685.6 182.0 686.1 183.2C686.5 184.2 687.2 187.5 687.6 187.5C688.0 187.5 688.7 183.3 689.1 181.9C689.5 180.4 690.3 176.9 690.7 176.9C691.2 176.9 692.1 177.5 692.6 177.5C693.1 177.5 694.0 176.9 694.5 176.9C694.8 176.9 695.4 178.0 695.7 178.8C696.1 179.6 696.6 183.5 697.0 186.3C697.2 188.5 697.7 196.0 698.0 198.8C698.2 201.2 698.6 206.5 698.8 206.5C699.1 206.5 699.6 201.3 699.8 198.8C700.1 196.2 700.6 188.5 700.8 186.3C701.1 183.8 701.7 180.1 702.0 179.4C702.5 178.2 703.3 176.9 703.9 176.9C704.3 176.9 705.2 179.2 705.7 180.0C706.1 180.5 706.6 181.4 707.0 181.9C707.5 182.6 708.3 184.4 708.9 184.4C709.4 184.4 710.2 181.3 710.7 181.3C711.2 181.3 712.1 181.9 712.6 181.9C713.1 181.9 714.0 178.2 714.5 177.5C715.1 176.6 716.3 175.0 717.0 175.0C717.5 175.0 718.4 175.3 718.9 175.6C719.4 175.9 720.2 178.9 720.7 181.9C721.1 183.9 721.7 198.5 722.0 205.0C722.5 214.7 723.4 243.6 723.9 243.6C724.3 243.6 725.1 213.9 725.5 205.0C725.8 198.3 726.4 184.4 726.7 182.5C727.1 180.2 727.8 177.5 728.2 177.5C728.9 177.5 730.1 178.1 730.7 178.1C731.6 178.1 733.0 176.9 733.9 176.9C734.2 176.9 734.7 176.9 735.0 176.9C735.7 176.9 736.8 176.3 737.5 176.3C738.2 176.3 739.3 177.5 740.0 177.5C740.7 177.5 741.8 177.5 742.5 177.5C742.9 177.5 743.6 178.8 744.0 180.0C744.3 180.8 744.7 188.1 745.0 192.5C745.3 198.0 745.9 217.0 746.3 223.8C746.6 231.3 747.3 247.3 747.6 247.3C747.9 247.3 748.5 231.4 748.8 223.8C749.0 217.1 749.5 196.7 749.8 192.5C750.0 188.8 750.4 183.2 750.6 183.2C750.9 183.2 751.3 189.1 751.5 192.5C751.8 196.5 752.2 211.8 752.5 217.6C752.7 222.6 753.2 234.4 753.4 234.4C753.7 234.4 754.1 221.2 754.4 217.6C754.6 214.4 755.0 207.5 755.3 207.5C755.5 207.5 756.0 208.2 756.3 208.2C756.5 208.2 757.0 189.2 757.3 186.3C757.6 182.7 758.2 178.0 758.5 177.5C758.9 176.9 759.6 176.3 760.0 176.3C760.5 176.3 761.4 177.6 761.9 178.8C762.2 179.5 762.8 183.8 763.1 186.3C763.6 189.4 764.3 201.5 764.8 201.5C765.2 201.5 765.9 189.3 766.3 186.3C766.5 184.2 767.0 180.0 767.3 180.0C767.7 180.0 768.4 181.9 768.8 181.9C769.3 181.9 770.2 179.8 770.6 179.4C771.2 178.9 772.0 178.1 772.5 178.1C773.2 178.1 774.4 179.4 775.0 179.4C775.9 179.4 777.3 178.1 778.2 178.1C778.8 178.1 780.0 179.1 780.7 180.0C781.0 180.5 781.6 184.0 781.9 186.3C782.2 188.5 782.8 195.8 783.2 198.8C783.4 201.2 783.9 206.9 784.2 206.9C784.5 206.9 785.0 196.3 785.3 192.5C785.6 189.2 786.0 181.2 786.3 180.0C786.6 178.6 787.2 177.2 787.5 176.9C788.2 176.3 789.4 175.6 790.0 175.6C790.7 175.6 791.9 177.3 792.5 177.5C793.2 177.8 794.4 177.9 795.0 178.1C795.7 178.4 796.9 179.4 797.5 179.4C798.0 179.4 798.9 178.8 799.4 178.8C799.9 178.8 800.6 181.9 801.0 181.9C801.4 181.9 802.1 178.8 802.5 178.8C803.1 178.8 803.9 183.0 804.4 184.4C804.9 185.6 805.6 188.8 806.0 188.8C806.4 188.8 807.1 181.9 807.5 181.9C807.9 181.9 808.5 182.2 808.8 182.5C809.1 182.8 809.5 194.9 809.8 198.8C810.1 203.6 810.7 211.6 811.1 215.1C811.3 217.4 811.7 222.6 811.9 222.6C812.2 222.6 812.6 214.8 812.8 211.3C813.1 207.2 813.5 194.3 813.8 192.5C814.1 190.3 814.7 188.7 815.1 187.5C815.6 185.8 816.4 182.8 816.9 181.9C817.4 181.0 818.3 179.8 818.8 179.4C819.5 178.9 820.6 178.1 821.3 178.1C822.0 178.1 823.2 178.9 823.8 179.4C824.3 179.8 825.2 180.8 825.7 181.9C826.0 182.6 826.6 186.2 826.9 187.5C827.2 188.4 827.6 190.7 827.8 190.7C828.2 190.7 828.7 184.0 829.1 182.5C829.5 180.5 830.3 177.4 830.7 176.9C831.2 176.3 832.1 175.6 832.6 175.6C833.1 175.6 833.9 176.0 834.5 176.3C834.9 176.5 835.6 177.9 836.1 178.8C836.5 179.6 837.2 183.2 837.6 183.2C838.0 183.2 838.7 180.2 839.1 179.4C839.5 178.6 840.3 177.0 840.7 176.9C841.4 176.7 842.5 176.6 843.2 176.5C844.0 176.4 845.5 176.3 846.3 176.3C847.0 176.3 848.2 176.9 848.8 176.9C849.5 176.9 850.7 176.3 851.3 176.3C851.8 176.3 852.7 178.8 853.2 178.8C853.7 178.8 854.6 176.9 855.1 176.9C855.8 176.9 856.9 177.3 857.6 177.3C858.3 177.3 859.4 176.3 860.1 176.3C860.8 176.3 861.9 176.6 862.6 176.9C863.3 177.2 864.4 179.9 865.1 180.6C865.4 181.0 866.0 181.9 866.4 181.9C866.8 181.9 867.7 179.2 868.2 178.8C868.7 178.3 869.6 177.5 870.1 177.5C870.8 177.5 871.9 178.0 872.6 178.1C873.3 178.3 874.4 178.8 875.1 178.8C875.8 178.8 876.9 176.9 877.6 176.9C878.1 176.9 879.0 177.5 879.5 178.1C879.8 178.5 880.4 183.0 880.7 183.8C881.1 184.5 881.7 185.7 882.0 185.7C882.3 185.7 882.9 180.6 883.2 180.0C883.7 179.2 884.6 178.1 885.1 178.1C885.8 178.1 886.9 178.5 887.6 178.8C888.3 179.1 889.5 181.9 890.1 181.9C890.6 181.9 891.5 179.6 892.0 179.4C892.7 179.1 893.8 179.1 894.5 178.8C894.6 178.7 894.9 178.2 895.0 178.1C895.7 177.8 896.8 177.5 897.5 177.5C898.2 177.5 899.3 177.8 900.0 178.1C900.5 178.4 901.4 182.2 901.9 183.8C902.3 185.1 903.1 188.8 903.5 188.8C903.9 188.8 904.6 183.7 905.0 183.2C905.4 182.6 906.1 181.9 906.5 181.9C906.8 181.9 907.4 186.2 907.8 187.5C908.2 189.2 908.9 193.2 909.3 193.2C909.6 193.2 910.3 186.9 910.6 185.0C911.0 183.3 911.6 179.8 911.9 179.4C912.4 178.8 913.3 178.1 913.8 178.1C914.4 178.1 915.6 179.4 916.3 179.4C916.9 179.4 918.1 178.1 918.8 178.1C919.4 178.1 920.6 179.3 921.3 180.0C921.8 180.6 922.6 183.8 923.1 183.8C923.6 183.8 924.5 182.7 925.0 181.9C925.4 181.4 925.9 177.9 926.3 177.5C926.8 176.9 927.6 176.3 928.1 176.3C928.8 176.3 930.0 178.1 930.6 178.1C931.3 178.1 932.5 177.3 933.1 176.9C933.7 176.6 934.5 175.6 935.0 175.6C935.5 175.6 936.4 179.1 936.9 180.6C937.2 181.7 937.8 184.0 938.2 185.0C938.6 186.3 939.3 189.0 939.8 189.0C940.2 189.0 940.9 185.4 941.3 184.4C941.8 183.2 942.7 180.9 943.2 180.6C943.7 180.4 944.5 180.0 945.0 180.0C945.5 180.0 946.4 180.6 946.9 180.6C947.4 180.6 948.3 178.6 948.8 178.1C949.5 177.5 950.6 176.3 951.3 176.3C951.8 176.3 952.7 178.8 953.2 178.8C953.7 178.8 954.5 178.1 955.0 178.1C955.7 178.1 956.9 178.8 957.5 178.8C958.2 178.8 959.4 177.9 960.0 177.5C960.7 177.1 961.9 175.6 962.5 175.6C962.9 175.6 963.5 178.6 963.8 180.0C964.1 181.1 964.5 184.0 964.8 185.0C965.1 186.3 965.7 188.8 966.0 188.8C966.4 188.8 967.1 183.8 967.5 183.8C967.9 183.8 968.5 185.5 968.8 186.3C969.1 187.1 969.7 190.0 970.1 190.0C970.5 190.0 971.2 185.0 971.6 185.0C972.0 185.0 972.7 186.3 973.2 186.3C973.7 186.3 974.6 185.7 975.1 185.7C975.5 185.7 976.2 192.3 976.6 192.3C977.0 192.3 977.8 186.7 978.2 185.0C978.5 183.7 979.1 180.6 979.4 180.6C979.9 180.6 980.8 181.4 981.3 181.9C981.8 182.4 982.7 184.1 983.2 185.0C983.6 185.8 984.3 188.2 984.7 188.2C985.1 188.2 985.9 183.5 986.3 182.5C986.7 181.6 987.4 180.6 987.8 180.0C988.3 179.4 989.0 178.1 989.5 178.1C989.9 178.1 990.8 180.9 991.3 181.9C991.8 182.9 992.7 185.7 993.2 185.7C993.6 185.7 994.4 181.1 994.8 180.0C995.2 179.2 995.7 177.5 996.1 177.5C996.4 177.5 997.0 183.5 997.3 186.3C997.7 189.0 998.2 196.9 998.6 198.8C998.9 200.4 999.4 203.2 999.7 203.2C1000.1 203.2 1000.7 195.7 1001.1 192.5C1001.4 189.6 1002.0 181.0 1002.3 180.0C1002.7 178.9 1003.4 177.5 1003.8 177.5C1004.5 177.5 1005.7 177.9 1006.3 178.1C1006.8 178.3 1007.7 179.3 1008.2 180.0C1008.6 180.7 1009.4 185.0 1009.8 185.0C1010.2 185.0 1010.9 181.7 1011.3 181.3C1011.8 180.7 1012.7 180.0 1013.2 180.0C1013.6 180.0 1014.4 182.6 1014.8 183.8C1015.2 184.9 1015.9 187.8 1016.3 188.8C1016.7 189.6 1017.3 191.3 1017.6 191.3C1018.0 191.3 1018.7 187.7 1019.1 186.3C1019.5 184.7 1020.3 180.4 1020.7 180.0C1021.1 179.7 1021.6 179.4 1022.0 179.4C1022.3 179.4 1022.9 182.8 1023.2 183.8C1023.5 184.5 1024.0 186.3 1024.2 186.3C1024.6 186.3 1025.3 182.9 1025.7 181.9C1026.2 180.7 1027.1 178.4 1027.6 178.1C1028.1 177.9 1029.0 177.5 1029.5 177.5C1030.0 177.5 1030.9 179.2 1031.3 180.0C1031.9 180.8 1032.7 182.6 1033.2 183.8C1033.7 184.9 1034.6 188.8 1035.1 188.8C1035.4 188.8 1036.0 188.2 1036.4 188.2C1036.7 188.2 1037.3 195.3 1037.6 195.3C1038.0 195.3 1038.7 189.0 1039.1 187.5C1039.4 186.3 1040.0 183.8 1040.4 183.8C1040.8 183.8 1041.6 185.0 1042.0 185.0C1042.5 185.0 1043.4 181.0 1043.9 180.0C1044.4 179.0 1045.2 176.9 1045.7 176.9C1046.2 176.9 1047.1 178.1 1047.6 178.8C1048.1 179.4 1049.0 180.9 1049.5 181.9C1050.0 182.9 1050.9 185.7 1051.4 186.3C1051.8 186.8 1052.5 187.5 1052.9 187.5C1053.3 187.5 1054.1 184.3 1054.5 183.2C1054.6 182.8 1054.9 182.2 1055.0 181.9C1055.5 180.7 1056.4 177.5 1056.9 177.5C1057.4 177.5 1058.3 180.0 1058.8 180.0C1059.3 180.0 1060.1 177.3 1060.6 177.3C1061.1 177.3 1062.0 178.8 1062.5 179.4C1063.0 180.0 1063.9 181.9 1064.4 181.9C1064.7 181.9 1065.3 179.3 1065.6 178.8C1066.1 178.0 1067.0 176.9 1067.5 176.9C1068.1 176.9 1069.2 181.0 1069.8 181.9C1070.2 182.6 1071.0 183.8 1071.5 183.8C1072.0 183.8 1073.0 179.6 1073.5 178.8C1073.9 178.1 1074.6 176.9 1075.0 176.9C1075.5 176.9 1076.4 178.1 1076.9 178.1C1077.4 178.1 1078.3 177.1 1078.8 176.9C1079.4 176.6 1080.6 176.0 1081.3 176.0C1081.8 176.0 1082.6 178.1 1083.2 179.4C1083.5 180.2 1084.1 183.7 1084.4 184.4C1084.7 185.1 1085.3 186.3 1085.7 186.3C1086.0 186.3 1086.6 183.1 1086.9 181.9C1087.2 180.7 1087.8 178.1 1088.2 177.5C1088.7 176.7 1089.5 175.6 1090.0 175.6C1090.5 175.6 1091.4 176.5 1091.9 176.9C1092.4 177.3 1093.3 178.1 1093.8 178.8C1094.3 179.4 1095.2 181.9 1095.7 181.9C1096.2 181.9 1097.0 178.6 1097.5 178.1C1098.0 177.6 1098.9 177.0 1099.4 176.9C1099.9 176.7 1100.8 176.5 1101.3 176.5C1101.8 176.5 1102.7 178.7 1103.2 179.4C1103.7 180.1 1104.5 181.9 1105.0 181.9C1105.5 181.9 1106.4 178.1 1106.9 178.1C1107.3 178.1 1108.1 180.7 1108.5 181.9C1108.9 183.0 1109.6 186.9 1110.0 186.9C1110.4 186.9 1111.1 183.6 1111.5 182.5C1111.9 181.6 1112.5 179.7 1112.8 179.4C1113.3 178.8 1114.3 178.4 1114.8 178.1C1115.4 177.9 1116.4 177.5 1116.9 177.5C1117.6 177.5 1118.8 178.1 1119.4 178.1C1120.1 178.1 1121.3 176.9 1121.9 176.9C1122.6 176.9 1123.8 177.2 1124.4 177.5C1124.9 177.8 1125.8 180.9 1126.3 181.3C1126.6 181.5 1127.2 181.9 1127.5 181.9C1128.1 181.9 1128.9 178.9 1129.4 178.1C1129.9 177.3 1130.8 175.6 1131.3 175.6C1131.8 175.6 1132.7 177.5 1133.2 177.5C1133.7 177.5 1134.6 176.9 1135.1 176.9C1135.7 176.9 1136.9 177.7 1137.6 178.1C1138.1 178.5 1138.9 179.5 1139.4 180.0C1139.9 180.5 1140.8 181.6 1141.3 181.9C1141.6 182.1 1142.2 182.3 1142.6 182.5C1143.0 182.8 1143.7 185.0 1144.1 185.0C1144.4 185.0 1145.0 182.7 1145.3 181.9C1145.8 180.9 1146.5 178.6 1146.9 178.1C1147.4 177.6 1148.3 176.9 1148.8 176.9C1149.5 176.9 1150.7 177.5 1151.3 177.5C1152.0 177.5 1153.2 176.3 1153.8 176.3C1154.5 176.3 1155.7 176.7 1156.3 176.9C1157.0 177.1 1158.2 178.1 1158.8 178.1C1159.4 178.1 1160.5 178.1 1161.1 178.1C1161.5 178.1 1162.2 180.8 1162.6 181.9C1162.9 182.8 1163.5 184.9 1163.8 185.7C1164.2 186.4 1164.7 187.8 1165.1 187.8C1165.5 187.8 1166.2 182.8 1166.6 181.9C1167.0 180.9 1167.8 179.9 1168.2 179.4C1168.7 178.8 1169.6 177.7 1170.1 177.5C1170.8 177.2 1171.9 176.9 1172.6 176.9C1173.3 176.9 1174.4 178.1 1175.1 178.1C1175.8 178.1 1176.9 177.5 1177.6 177.5C1178.3 177.5 1179.4 178.4 1180.1 179.4C1180.4 179.9 1181.0 188.0 1181.3 192.5C1181.6 196.2 1182.1 207.1 1182.3 211.3C1182.6 215.4 1183.1 224.7 1183.3 224.7C1183.6 224.7 1184.2 215.3 1184.5 211.3C1184.8 206.9 1185.4 196.1 1185.7 192.5C1186.1 188.9 1186.6 183.2 1187.0 181.9C1187.5 180.0 1188.3 177.8 1188.8 177.5C1189.5 177.2 1190.7 176.9 1191.3 176.9C1191.9 176.9 1192.7 177.6 1193.2 178.1C1193.6 178.5 1194.1 180.8 1194.5 181.9C1194.8 183.0 1195.4 185.2 1195.7 186.3C1196.1 187.3 1196.6 189.8 1197.0 189.8C1197.4 189.8 1198.2 186.6 1198.6 185.7C1199.0 184.7 1199.7 183.3 1200.1 182.5C1200.6 181.6 1201.5 179.9 1202.0 179.4C1202.7 178.7 1203.8 177.8 1204.5 177.5C1205.0 177.3 1205.9 176.9 1206.4 176.9C1206.7 176.9 1207.3 182.4 1207.6 186.3C1207.9 190.1 1208.5 211.6 1208.9 217.6C1209.3 224.7 1210.0 238.2 1210.4 238.2C1210.6 238.2 1211.1 218.2 1211.4 211.3C1211.6 204.4 1212.1 189.7 1212.4 186.3C1212.5 184.1 1212.8 180.6 1213.0 180.6C1213.2 180.6 1213.6 187.5 1213.9 190.0C1214.1 192.9 1214.6 200.1 1214.9 201.3C1215.1 202.3 1215.5 202.6 1215.8 203.8C1216.0 205.0 1216.4 218.2 1216.6 223.8C1216.9 230.3 1217.4 249.7 1217.6 249.7C1217.9 249.7 1218.4 231.8 1218.6 223.8C1218.9 216.7 1219.3 197.5 1219.5 192.5C1219.7 187.6 1220.1 179.8 1220.4 179.4C1220.8 178.7 1221.6 178.1 1222.0 178.1C1222.5 178.1 1223.4 180.0 1223.9 180.0C1224.2 180.0 1224.7 178.8 1225.0 178.8C1225.4 178.8 1225.9 183.4 1226.3 185.0C1226.6 186.6 1227.2 190.7 1227.5 190.7C1227.9 190.7 1228.4 186.6 1228.8 185.0C1229.1 183.4 1229.7 179.4 1230.0 178.8C1230.5 177.9 1231.4 176.9 1231.9 176.9C1232.4 176.9 1233.3 177.3 1233.8 177.5C1234.3 177.8 1235.2 179.7 1235.7 180.0C1236.0 180.3 1236.6 180.6 1236.9 180.6C1237.4 180.6 1238.3 178.4 1238.8 178.1C1239.3 177.9 1240.2 177.5 1240.7 177.5C1241.0 177.5 1241.6 180.5 1241.9 181.9C1242.3 183.3 1242.8 187.1 1243.2 188.2C1243.5 189.2 1244.1 190.9 1244.4 190.9C1244.8 190.9 1245.3 187.7 1245.7 186.3C1246.0 184.9 1246.6 181.0 1246.9 180.0C1247.3 179.1 1247.8 177.5 1248.2 177.5C1248.5 177.5 1249.1 182.2 1249.4 183.8C1249.9 185.9 1250.6 191.3 1251.0 191.3C1251.4 191.3 1252.0 185.5 1252.3 183.8C1252.6 182.1 1253.2 178.8 1253.5 178.1C1254.0 177.3 1254.6 176.3 1255.0 176.3C1255.5 176.3 1256.1 178.6 1256.5 180.0C1256.9 181.2 1257.5 186.0 1257.8 187.5C1258.2 189.5 1259.0 193.5 1259.4 193.5C1259.8 193.5 1260.3 192.0 1260.7 191.3C1261.0 190.5 1261.6 188.9 1261.9 187.5C1262.3 186.2 1262.8 180.0 1263.2 180.0C1263.4 180.0 1263.8 190.0 1264.1 192.5C1264.5 197.3 1265.3 206.3 1265.7 206.3C1266.0 206.3 1266.6 201.3 1266.9 198.8C1267.3 196.3 1267.9 188.9 1268.2 186.3C1268.5 183.6 1269.1 178.6 1269.4 178.1C1269.9 177.5 1270.8 176.9 1271.3 176.9C1271.8 176.9 1272.7 180.1 1273.2 180.6C1273.7 181.1 1274.6 181.9 1275.1 181.9C1275.6 181.9 1276.4 179.7 1276.9 178.8C1277.4 177.9 1278.3 175.3 1278.8 175.0C1279.3 174.7 1280.2 174.4 1280.7 174.4C1281.2 174.4 1282.1 176.0 1282.6 176.3C1283.1 176.5 1283.9 176.9 1284.5 176.9C1285.0 176.9 1285.8 175.0 1286.3 175.0C1286.8 175.0 1287.7 175.0 1288.2 175.0C1288.9 175.0 1290.0 177.6 1290.7 178.1C1291.2 178.6 1292.1 178.9 1292.6 179.4C1293.1 179.9 1294.0 181.8 1294.5 183.8C1294.8 185.1 1295.4 193.7 1295.7 196.3C1296.0 198.4 1296.4 202.8 1296.7 202.8C1297.0 202.8 1297.5 195.7 1297.8 192.5C1298.1 189.7 1298.6 181.2 1298.8 180.0C1299.2 178.6 1299.8 176.9 1300.1 176.9C1300.8 176.9 1301.9 178.1 1302.6 178.1C1303.3 178.1 1304.4 177.8 1305.1 177.5C1305.6 177.3 1306.5 176.3 1307.0 176.3C1307.5 176.3 1308.3 177.7 1308.8 178.1C1309.3 178.5 1310.2 179.4 1310.7 179.4C1311.2 179.4 1312.1 177.5 1312.6 177.5C1313.3 177.5 1314.4 178.4 1315.1 178.8C1315.6 179.1 1316.5 179.4 1317.0 180.0C1317.3 180.4 1317.9 184.2 1318.2 184.4C1318.7 184.7 1319.6 184.8 1320.1 185.0C1320.5 185.2 1321.2 186.9 1321.6 186.9C1322.0 186.9 1322.8 183.3 1323.2 181.9C1323.6 180.8 1324.1 177.5 1324.5 177.5C1325.0 177.5 1325.9 177.5 1326.4 177.5C1326.9 177.5 1327.7 179.6 1328.2 180.0C1328.7 180.5 1329.6 181.3 1330.1 181.3C1330.6 181.3 1331.5 176.9 1332.0 176.9C1332.4 176.9 1333.2 177.4 1333.6 177.5" stroke="#ff00ff" stroke-width="1.35" fill="none" stroke-linejoin="round"/>
<path d="M98.0 195.7C98.7 192.8 99.9 186.5 100.6 185.0C101.2 183.8 102.2 181.9 102.8 181.9C103.2 181.9 103.9 185.2 104.4 186.3C105.0 187.9 106.2 191.9 106.9 191.9C107.4 191.9 108.3 187.5 108.8 187.5C109.1 187.5 109.7 188.2 110.0 188.2C110.4 188.2 111.2 181.5 111.6 181.5C112.2 181.5 113.2 183.4 113.8 184.4C114.4 185.5 115.6 190.0 116.3 190.0C116.8 190.0 117.6 184.4 118.1 184.4C118.6 184.4 119.5 185.0 120.0 185.0C120.5 185.0 121.4 185.0 121.9 185.0C122.5 185.0 123.5 183.2 124.0 183.2C124.4 183.2 124.9 187.3 125.3 190.0C125.5 192.2 126.0 201.9 126.3 205.0C126.7 210.2 127.5 220.7 127.9 220.7C128.3 220.7 129.0 212.5 129.4 210.0C129.7 208.0 130.3 203.2 130.7 203.2C131.2 203.2 132.0 205.0 132.5 205.0C132.9 205.0 133.4 199.0 133.8 197.5C134.2 195.8 134.9 192.6 135.3 192.5C135.9 192.4 136.9 192.3 137.5 192.3C137.9 192.3 138.6 197.5 139.0 197.5C139.5 197.5 140.2 193.7 140.7 192.5C141.2 191.2 142.0 188.2 142.5 188.2C143.0 188.2 143.9 188.5 144.4 188.8C144.9 189.0 145.8 191.3 146.3 191.3C146.8 191.3 147.7 187.8 148.2 187.8C148.7 187.8 149.5 191.3 150.0 191.3C150.5 191.3 151.4 188.8 151.9 188.8C152.4 188.8 153.1 195.0 153.5 195.0C153.9 195.0 154.6 191.9 155.1 191.9C155.5 191.9 156.4 196.9 156.9 196.9C157.4 196.9 158.3 186.6 158.8 186.3C159.2 186.0 159.9 185.7 160.3 185.7C160.9 185.7 162.0 195.0 162.6 195.0C163.1 195.0 163.9 186.7 164.4 186.3C164.8 186.0 165.3 185.7 165.7 185.7C166.2 185.7 167.1 190.7 167.6 190.7C168.1 190.7 168.9 188.8 169.4 188.8C169.9 188.8 170.8 195.0 171.3 195.0C171.8 195.0 172.7 185.7 173.2 185.7C173.5 185.7 174.1 186.3 174.4 186.9C175.0 187.9 176.0 208.2 176.6 208.2C177.0 208.2 177.8 191.4 178.2 188.8C178.7 185.8 179.6 181.3 180.1 181.3C180.4 181.3 181.0 181.6 181.3 181.9C181.8 182.3 182.7 188.2 183.2 188.2C183.7 188.2 184.6 186.0 185.1 185.0C185.8 183.6 187.1 178.8 187.8 178.8C188.3 178.8 189.0 185.3 189.4 186.3C189.8 187.0 190.4 187.4 190.7 188.2C191.0 188.9 191.6 190.8 191.9 192.5C192.4 195.2 193.3 216.3 193.8 216.3C194.2 216.3 194.7 208.8 195.1 208.8C195.4 208.8 196.0 208.8 196.3 208.8C196.8 208.8 197.7 200.7 198.2 200.7C198.5 200.7 199.1 201.9 199.4 201.9C200.0 201.9 200.8 198.8 201.3 198.8C201.7 198.8 202.4 204.4 202.8 204.4C203.3 204.4 204.0 193.5 204.5 192.5C205.0 191.4 205.8 190.0 206.3 190.0C206.7 190.0 207.2 190.7 207.6 191.3C208.1 192.1 209.0 200.7 209.5 200.7C209.9 200.7 210.7 195.7 211.1 195.7C211.5 195.7 212.2 218.8 212.6 218.8C213.0 218.8 213.7 214.4 214.1 214.4C214.6 214.4 215.6 236.9 216.1 236.9C216.5 236.9 217.2 217.7 217.6 211.3C218.0 204.9 218.7 189.9 219.1 188.8C219.5 187.6 220.3 187.0 220.7 186.3C221.3 185.3 222.3 181.9 222.8 181.9C223.3 181.9 224.0 184.5 224.5 185.0C224.8 185.5 225.4 185.7 225.7 186.3C226.3 187.2 227.3 203.8 227.8 203.8C228.4 203.8 229.5 183.2 230.1 183.2C230.4 183.2 231.0 185.2 231.3 186.3C231.9 187.9 232.7 196.3 233.2 196.3C233.9 196.3 235.1 180.6 235.7 180.6C236.2 180.6 237.1 183.3 237.6 183.8C238.1 184.2 239.0 185.0 239.5 185.0C240.0 185.0 240.9 182.5 241.4 182.5C241.9 182.5 242.7 183.8 243.2 183.8C243.7 183.8 244.6 183.8 245.1 183.8C245.6 183.8 246.5 185.4 247.0 186.3C247.3 186.9 247.9 188.0 248.2 189.4C248.7 191.2 249.4 216.3 249.9 216.3C250.3 216.3 251.0 184.7 251.4 183.8C251.8 182.8 252.5 181.9 252.9 181.9C253.3 181.9 254.1 186.3 254.5 186.3C255.3 186.3 256.7 177.5 257.5 177.5C257.9 177.5 258.6 181.9 259.0 185.0C259.4 188.4 260.2 215.0 260.6 215.7C261.1 216.3 261.8 216.3 262.3 216.9C262.7 217.6 263.5 262.6 264.0 262.6C264.5 262.6 265.5 212.5 266.0 212.5C266.3 212.5 266.9 222.5 267.3 230.1C267.5 236.1 268.0 282.4 268.3 282.4C268.6 282.4 269.2 226.4 269.5 217.6C269.9 206.9 270.6 194.1 271.0 191.3C271.3 188.9 271.9 185.7 272.3 185.7C272.7 185.7 273.4 190.2 273.8 192.5C274.3 195.4 275.1 197.1 275.6 207.5C275.7 208.3 275.7 226.1 275.8 230.1C276.0 260.4 276.5 301.9 276.8 301.9C277.1 301.9 277.6 239.6 277.9 230.1C278.4 214.1 279.3 194.7 279.8 192.5C280.2 190.8 280.9 188.8 281.3 188.8C281.7 188.8 282.4 192.5 282.8 192.5C283.2 192.5 284.0 184.4 284.4 184.4C284.9 184.4 285.8 188.8 286.3 188.8C286.7 188.8 287.4 185.0 287.8 185.0C288.3 185.0 289.2 198.8 289.8 198.8C290.3 198.8 291.3 183.8 291.9 183.8C292.2 183.8 292.8 191.3 293.1 191.3C293.7 191.3 294.5 184.4 295.0 184.4C295.7 184.4 296.9 185.2 297.5 185.7C298.0 186.0 298.9 187.5 299.4 187.5C299.9 187.5 300.8 184.4 301.3 184.4C301.9 184.4 303.1 186.3 303.8 186.3C304.4 186.3 305.4 185.6 306.0 185.0C306.6 184.5 307.6 179.4 308.2 179.4C308.7 179.4 309.5 187.5 310.0 187.5C310.5 187.5 311.4 183.8 311.9 183.8C312.2 183.8 312.6 187.5 312.8 187.5C313.4 187.5 314.4 182.3 315.1 181.3C315.5 180.4 316.4 178.8 316.9 178.8C317.3 178.8 317.8 183.8 318.2 186.3C318.5 188.7 319.1 198.2 319.4 198.2C319.9 198.2 320.6 184.5 321.1 183.8C321.6 182.8 322.6 181.9 323.2 181.9C323.5 181.9 324.1 185.4 324.4 187.5C324.8 189.6 325.3 201.3 325.7 201.3C326.2 201.3 327.1 193.8 327.6 193.8C328.2 193.8 329.2 202.5 329.8 202.5C330.4 202.5 331.4 191.3 331.9 191.3C332.4 191.3 333.3 192.5 333.8 192.5C334.3 192.5 335.2 191.4 335.7 190.7C336.2 189.9 337.1 183.8 337.6 183.8C338.1 183.8 338.9 185.8 339.4 187.5C339.9 189.0 340.6 203.2 341.1 203.2C341.6 203.2 342.6 188.8 343.2 188.2C343.7 187.6 344.6 187.3 345.1 186.9C345.7 186.4 346.9 185.0 347.6 184.4C348.2 183.8 349.4 182.5 350.1 182.5C350.6 182.5 351.4 184.8 351.9 185.7C352.4 186.4 353.3 188.5 353.8 188.5C354.2 188.5 354.7 187.3 355.1 187.3C355.5 187.3 356.2 189.8 356.6 189.8C357.0 189.8 357.8 188.5 358.2 188.5C358.7 188.5 359.6 189.0 360.1 189.0C360.5 189.0 361.2 187.3 361.6 187.3C362.0 187.3 362.8 187.8 363.2 187.8C363.6 187.8 364.4 186.4 364.8 185.7C365.2 185.0 365.9 182.1 366.3 181.9C367.0 181.6 368.2 181.3 368.8 181.3C369.7 181.3 371.1 188.2 372.0 188.2C372.5 188.2 373.3 182.2 373.8 181.3C374.3 180.3 375.2 178.8 375.7 178.8C376.4 178.8 377.6 181.6 378.2 182.5C378.9 183.4 380.1 185.7 380.7 185.7C381.2 185.7 382.1 185.0 382.6 185.0C382.9 185.0 383.5 200.0 383.9 200.0C384.3 200.0 385.2 185.7 385.7 185.7C386.1 185.7 386.6 194.7 387.0 198.8C387.3 202.9 387.9 209.7 388.2 217.6C388.8 230.2 389.7 358.1 390.2 358.1C390.7 358.1 391.5 232.0 392.0 217.6C392.3 207.2 392.9 193.0 393.2 192.5C393.7 191.8 394.6 191.9 395.1 191.3C395.4 190.9 396.0 186.5 396.4 186.3C396.9 185.9 397.7 185.7 398.2 185.7C398.7 185.7 399.6 201.9 400.1 201.9C400.5 201.9 401.2 198.8 401.6 198.8C402.0 198.8 402.8 203.8 403.2 203.8C403.7 203.8 404.6 198.3 405.1 196.3C405.8 193.6 406.9 186.3 407.6 186.3C408.1 186.3 409.0 200.3 409.5 205.0C410.2 211.3 411.3 226.9 412.0 226.9C412.5 226.9 413.4 209.8 413.9 205.0C414.4 200.3 415.2 190.0 415.8 190.0C416.2 190.0 417.1 191.5 417.6 192.5C418.3 193.9 419.5 206.3 420.1 206.3C420.6 206.3 421.5 197.8 422.0 196.3C422.5 194.9 423.3 193.7 423.8 192.5C424.1 191.7 424.7 190.0 425.0 188.8C425.4 187.3 426.1 181.3 426.5 181.3C426.8 181.3 427.2 184.9 427.5 187.5C427.8 190.1 428.2 208.3 428.5 208.8C428.8 209.4 429.4 209.4 429.8 210.0C430.1 210.7 430.7 227.2 431.0 230.1C431.3 233.0 431.9 237.6 432.3 237.6C432.6 237.6 433.2 217.1 433.5 211.3C433.8 205.5 434.4 192.5 434.8 192.5C435.0 192.5 435.4 192.5 435.6 192.5C436.1 192.5 436.8 206.3 437.3 206.3C437.7 206.3 438.4 190.9 438.8 190.0C439.2 189.1 440.0 188.2 440.4 188.2C440.7 188.2 441.3 194.0 441.6 196.3C441.9 198.3 442.5 204.4 442.8 204.4C443.1 204.4 443.7 189.4 444.0 187.5C444.4 185.7 444.9 183.2 445.3 183.2C445.7 183.2 446.5 187.1 446.9 188.8C447.4 190.8 448.3 197.5 448.8 197.5C449.3 197.5 450.2 189.8 450.6 188.8C451.2 187.7 452.0 187.0 452.5 186.3C453.1 185.4 454.2 182.3 454.8 182.3C455.3 182.3 456.3 184.7 456.9 185.0C457.4 185.3 458.3 185.7 458.8 185.7C459.4 185.7 460.6 181.9 461.3 181.9C461.8 181.9 462.7 183.2 463.2 183.8C463.7 184.3 464.5 186.3 465.0 186.3C465.6 186.3 466.7 178.1 467.3 178.1C467.8 178.1 468.6 180.7 469.0 181.9C469.5 183.1 470.2 185.8 470.7 187.5C471.2 189.5 472.0 196.3 472.5 196.3C473.1 196.3 474.2 186.9 474.8 186.9C475.2 186.9 475.9 194.7 476.3 196.3C476.6 197.6 477.2 199.2 477.6 200.0C477.9 200.8 478.5 201.4 478.8 202.5C479.1 203.7 479.7 210.1 480.1 215.1C480.3 219.0 480.8 235.3 481.1 242.6C481.3 249.0 481.7 266.3 481.9 266.3C482.2 266.3 482.7 238.5 482.9 230.1C483.2 220.6 483.8 202.5 484.1 198.8C484.4 194.6 485.0 189.8 485.3 188.8C485.8 187.1 486.8 185.0 487.3 185.0C487.9 185.0 488.9 186.0 489.4 186.3C489.8 186.4 490.3 186.9 490.7 186.9C491.2 186.9 492.1 183.8 492.6 183.8C492.9 183.8 493.5 187.1 493.8 190.0C494.1 192.3 494.5 212.1 494.8 217.6C495.0 222.3 495.5 231.9 495.7 231.9C496.0 231.9 496.6 217.4 496.9 213.8C497.3 210.2 497.9 203.2 498.2 203.2C498.7 203.2 499.6 223.8 500.1 223.8C500.6 223.8 501.4 216.3 501.9 216.3C502.4 216.3 503.1 216.3 503.6 216.3C504.0 216.3 504.9 205.9 505.3 202.5C505.9 198.2 507.0 187.5 507.6 187.5C508.0 187.5 508.7 191.1 509.1 192.5C509.4 193.7 510.0 197.5 510.3 197.5C510.7 197.5 511.2 195.0 511.6 195.0C512.0 195.0 512.8 206.9 513.2 206.9C513.7 206.9 514.6 194.3 515.1 192.5C515.7 190.1 516.9 186.9 517.6 186.9C518.2 186.9 519.2 195.7 519.8 195.7C520.4 195.7 521.4 183.2 522.0 183.2C522.6 183.2 523.8 183.8 524.5 183.8C525.0 183.8 525.8 181.3 526.3 181.3C527.0 181.3 528.2 183.8 528.8 183.8C529.3 183.8 530.2 183.5 530.7 183.2C531.0 182.9 531.6 180.0 532.0 180.0C532.3 180.0 532.9 181.3 533.2 181.9C533.7 182.8 534.6 186.3 535.1 186.3C535.6 186.3 536.5 183.6 537.0 183.2C537.5 182.7 538.3 182.1 538.8 181.9C539.5 181.7 540.7 181.3 541.3 181.3C541.8 181.3 542.7 187.2 543.2 187.5C543.7 187.8 544.6 187.8 545.1 188.2C545.6 188.5 546.5 196.0 547.0 198.8C547.3 200.6 547.9 205.7 548.2 205.7C548.7 205.7 549.6 198.8 550.1 198.2C550.5 197.6 551.2 196.9 551.6 196.9C552.0 196.9 552.8 199.2 553.2 200.7C553.7 202.3 554.6 208.6 555.1 212.5C555.4 215.2 556.0 220.4 556.4 225.1C556.6 228.8 557.1 246.9 557.4 246.9C557.6 246.9 558.1 237.6 558.4 237.6C558.6 237.6 558.9 243.8 559.1 247.6C559.4 253.8 560.0 281.0 560.4 292.6C561.2 320.4 562.6 392.1 563.4 392.1C564.2 392.1 565.6 322.0 566.4 292.6C566.7 280.4 567.3 250.5 567.6 242.6C568.0 233.0 568.7 221.2 569.1 217.6C569.6 213.6 570.3 208.6 570.7 207.5C571.2 206.5 571.9 205.0 572.4 205.0C572.8 205.0 573.7 211.3 574.1 211.3C574.6 211.3 575.3 199.2 575.8 196.3C576.1 193.6 576.9 188.2 577.2 188.2C577.8 188.2 578.8 188.2 579.4 188.2C579.9 188.2 580.8 188.6 581.2 188.8C581.7 188.9 582.4 189.4 582.8 189.4C583.1 189.4 583.7 183.6 584.0 183.2C584.4 182.6 585.2 181.9 585.6 181.9C586.0 181.9 586.5 183.6 586.9 184.4C587.2 185.2 587.8 188.8 588.1 188.8C588.5 188.8 589.1 185.7 589.4 185.7C589.6 185.7 590.0 189.5 590.3 192.5C590.5 196.0 591.0 217.1 591.3 230.1C591.5 243.0 592.0 298.5 592.3 298.5C592.6 298.5 593.2 243.0 593.5 230.1C593.8 217.1 594.4 196.8 594.8 192.5C595.0 189.5 595.4 185.0 595.6 185.0C595.9 185.0 596.3 190.3 596.5 192.5C596.8 195.1 597.3 203.8 597.5 203.8C597.8 203.8 598.3 195.7 598.5 192.5C598.8 189.8 599.2 182.2 599.4 181.9C599.9 181.2 600.8 180.9 601.3 180.6C601.9 180.3 603.1 179.8 603.8 179.8C604.3 179.8 605.1 181.0 605.6 181.9C606.1 182.6 606.8 185.8 607.3 187.5C607.7 189.4 608.6 196.3 609.0 196.3C609.5 196.3 610.2 189.6 610.6 187.5C611.0 185.9 611.6 182.8 611.9 181.9C612.2 181.0 612.8 179.4 613.1 179.4C613.5 179.4 614.1 180.9 614.4 181.9C614.7 182.9 615.3 189.4 615.7 189.4C616.0 189.4 616.6 188.7 616.9 188.2C617.2 187.6 617.8 183.0 618.2 181.9C618.6 180.5 619.3 178.1 619.8 178.1C620.0 178.1 620.4 183.9 620.7 187.5C620.9 191.1 621.3 206.3 621.5 211.3C621.8 217.1 622.3 229.2 622.5 229.2C622.8 229.2 623.3 215.9 623.5 211.3C623.9 205.5 624.5 193.3 624.8 190.0C625.1 186.7 625.7 182.0 626.0 181.3C626.4 180.4 627.1 179.4 627.5 179.4C628.0 179.4 628.9 180.2 629.4 180.6C629.9 181.0 630.6 182.6 631.0 183.2C631.4 183.7 632.1 185.0 632.5 185.0C633.0 185.0 633.9 184.2 634.4 183.8C634.9 183.3 635.8 181.3 636.3 181.3C636.6 181.3 637.2 186.7 637.5 190.0C637.8 192.7 638.3 206.9 638.5 206.9C638.9 206.9 639.5 195.3 639.8 192.5C640.1 189.8 640.7 184.4 641.0 184.4C641.4 184.4 642.0 204.9 642.3 211.3C642.6 217.1 643.1 230.9 643.4 230.9C643.8 230.9 644.3 212.2 644.7 207.5C644.9 203.8 645.4 196.3 645.7 196.3C646.1 196.3 646.8 211.3 647.2 211.3C647.5 211.3 648.2 196.5 648.6 192.5C648.9 188.9 649.5 182.6 649.8 181.3C650.1 180.0 650.7 178.1 651.1 178.1C651.5 178.1 652.2 181.9 652.6 181.9C653.1 181.9 653.9 180.0 654.4 180.0C654.9 180.0 655.8 180.6 656.3 180.6C656.8 180.6 657.7 179.6 658.2 179.4C658.9 179.1 660.0 179.0 660.7 178.8C661.2 178.6 662.1 178.1 662.6 178.1C663.0 178.1 663.7 180.8 664.1 181.9C664.4 182.8 665.0 185.4 665.3 185.4C665.8 185.4 666.5 182.8 666.9 181.9C667.4 181.0 668.1 179.2 668.6 178.8C669.0 178.3 669.9 177.5 670.3 177.5C670.9 177.5 671.8 177.8 672.3 178.1C672.7 178.4 673.4 180.4 673.8 181.3C674.2 182.0 674.7 184.4 675.1 184.4C675.6 184.4 676.5 182.5 677.0 181.9C677.5 181.3 678.3 180.0 678.8 180.0C679.5 180.0 680.7 181.9 681.3 181.9C681.8 181.9 682.7 179.4 683.2 179.4C683.7 179.4 684.6 180.6 685.1 180.6C685.6 180.6 686.5 179.9 687.0 179.4C687.4 179.0 688.2 176.9 688.6 176.9C689.0 176.9 689.7 180.4 690.1 181.9C690.5 183.4 691.2 188.2 691.6 188.2C692.0 188.2 692.8 183.4 693.2 181.9C693.5 180.8 694.1 178.1 694.5 178.1C695.0 178.1 695.8 180.3 696.3 180.6C697.0 181.1 698.2 181.7 698.8 181.9C699.5 182.1 700.7 182.3 701.3 182.5C702.0 182.7 703.2 183.2 703.9 183.8C704.3 184.2 705.2 187.0 705.7 188.2C706.2 189.3 707.1 192.2 707.6 192.2C708.1 192.2 709.0 188.0 709.5 186.3C709.9 184.8 710.7 181.0 711.1 180.0C711.5 179.1 712.2 177.5 712.6 177.5C713.1 177.5 714.0 178.7 714.5 179.4C715.0 180.1 715.9 182.4 716.4 183.2C716.8 183.8 717.5 185.0 717.9 185.0C718.5 185.0 719.5 182.4 720.1 181.9C720.6 181.5 721.5 180.6 722.0 180.6C722.5 180.6 723.4 183.8 723.9 183.8C724.4 183.8 725.2 178.1 725.7 178.1C726.2 178.1 726.9 179.2 727.4 180.0C727.8 180.8 728.5 187.1 728.9 190.0C729.4 193.9 730.3 206.3 730.9 206.3C731.3 206.3 732.0 193.6 732.4 190.0C732.8 186.5 733.5 179.0 733.9 178.8C734.4 178.4 735.2 178.1 735.8 178.1C736.1 178.1 736.6 178.5 736.9 178.8C737.2 179.1 737.8 194.3 738.1 198.8C738.5 204.1 739.2 215.7 739.6 215.7C740.0 215.7 740.6 203.7 741.0 198.8C741.3 194.2 741.9 180.9 742.3 180.0C742.6 179.1 743.2 178.4 743.5 178.1C744.1 177.8 745.1 177.3 745.6 177.3C746.1 177.3 747.0 178.6 747.5 178.8C748.2 179.0 749.3 179.4 750.0 179.4C750.7 179.4 751.8 178.8 752.5 178.8C753.2 178.8 754.4 181.9 755.0 181.9C755.7 181.9 756.9 179.4 757.5 179.4C758.2 179.4 759.4 182.5 760.0 182.5C760.5 182.5 761.4 182.2 761.9 181.9C762.4 181.6 763.3 176.9 763.8 176.9C764.3 176.9 765.1 178.1 765.6 178.8C766.1 179.3 766.8 181.9 767.3 181.9C767.7 181.9 768.4 179.4 768.8 179.4C769.0 179.4 769.5 189.6 769.8 192.5C770.2 196.9 770.9 206.3 771.3 206.3C771.6 206.3 772.2 196.4 772.5 192.5C772.8 189.4 773.3 180.7 773.5 180.0C773.9 179.1 774.6 178.1 775.0 178.1C775.7 178.1 776.9 179.4 777.5 179.4C778.2 179.4 779.4 179.4 780.0 179.4C780.5 179.4 781.4 178.1 781.9 178.1C782.4 178.1 783.3 180.8 783.8 181.3C784.3 181.7 785.2 182.5 785.7 182.5C786.2 182.5 787.0 181.9 787.5 181.9C788.0 181.9 788.9 181.9 789.4 181.9C789.9 181.9 790.8 179.9 791.3 179.4C791.7 179.0 792.4 178.1 792.8 178.1C793.1 178.1 793.7 182.8 794.0 186.3C794.3 189.1 794.8 206.8 795.0 211.3C795.3 216.3 795.9 225.4 796.2 225.4C796.5 225.4 797.0 216.6 797.3 211.3C797.5 207.2 797.9 188.8 798.2 186.3C798.5 182.6 799.1 178.4 799.4 178.1C799.9 177.8 800.8 177.5 801.3 177.5C801.8 177.5 802.7 177.8 803.2 178.1C803.5 178.3 804.1 181.3 804.4 181.3C804.9 181.3 805.8 179.6 806.3 179.4C807.0 179.1 808.1 179.0 808.8 178.8C809.5 178.5 810.6 176.9 811.3 176.9C811.8 176.9 812.7 178.7 813.2 179.4C813.7 180.1 814.6 181.0 815.1 181.9C815.5 182.6 816.2 184.6 816.6 185.7C816.9 186.5 817.5 188.8 817.8 188.8C818.1 188.8 818.7 182.9 819.1 181.9C819.5 180.6 820.3 179.0 820.7 178.8C821.4 178.5 822.5 178.1 823.2 178.1C823.9 178.1 825.0 178.8 825.7 179.4C826.2 179.8 827.1 184.1 827.6 184.4C828.1 184.7 828.9 184.7 829.5 185.0C829.9 185.3 830.8 187.8 831.3 188.8C831.7 189.4 832.2 191.3 832.6 191.3C833.1 191.3 833.9 190.7 834.5 190.7C834.9 190.7 835.6 192.2 836.1 192.2C836.5 192.2 837.2 189.8 837.6 188.8C838.0 187.8 838.7 185.3 839.1 184.4C839.6 183.2 840.5 181.2 841.1 180.6C841.5 180.2 842.4 179.4 842.8 179.4C843.4 179.4 844.5 182.5 845.1 182.5C845.6 182.5 846.5 180.5 847.0 180.0C847.5 179.6 848.3 178.8 848.8 178.8C849.2 178.8 849.9 180.8 850.3 181.9C850.8 183.1 851.5 189.4 852.0 189.4C852.4 189.4 853.2 183.8 853.6 183.8C854.0 183.8 854.7 184.4 855.1 184.4C855.6 184.4 856.5 181.3 857.0 181.3C857.4 181.3 858.2 181.9 858.6 181.9C859.0 181.9 859.7 179.6 860.1 179.4C860.6 179.1 861.5 178.8 862.0 178.8C862.5 178.8 863.3 181.1 863.9 182.5C864.2 183.6 865.0 187.9 865.4 188.8C865.8 189.8 866.5 191.3 867.0 191.3C867.4 191.3 868.2 187.8 868.6 186.3C869.0 184.9 869.7 180.0 870.1 180.0C870.5 180.0 871.2 188.3 871.6 190.0C871.8 190.9 872.1 192.5 872.4 192.5C872.6 192.5 873.0 187.6 873.2 186.3C873.6 184.4 874.1 180.6 874.5 180.6C875.0 180.6 875.9 181.3 876.4 181.3C876.9 181.3 877.7 179.8 878.2 179.4C878.7 179.0 879.6 178.1 880.1 178.1C880.6 178.1 881.5 180.4 882.0 181.9C882.3 182.9 882.9 187.3 883.2 188.8C883.8 191.4 884.9 196.5 885.5 196.5C885.9 196.5 886.6 191.2 887.0 188.8C887.3 186.8 887.9 180.9 888.2 180.0C888.7 178.9 889.4 177.5 889.9 177.5C890.3 177.5 891.0 178.3 891.4 178.8C891.7 179.1 892.3 180.6 892.6 180.6C893.3 180.6 894.5 179.6 895.1 179.4C895.8 179.2 896.9 179.0 897.5 178.8C898.2 178.5 899.3 177.3 900.0 177.3C900.5 177.3 901.4 178.1 901.9 178.8C902.2 179.2 902.8 181.9 903.1 181.9C903.6 181.9 904.3 181.9 904.8 181.9C905.2 181.9 906.0 180.0 906.5 180.0C907.1 180.0 908.2 180.6 908.8 180.6C909.3 180.6 910.1 179.2 910.6 178.8C911.1 178.3 912.0 177.3 912.5 177.3C913.2 177.3 914.4 178.1 915.0 178.1C915.7 178.1 916.9 177.8 917.5 177.8C918.2 177.8 919.4 178.3 920.0 178.8C920.5 179.1 921.4 181.0 921.9 181.3C922.3 181.5 923.1 181.6 923.5 181.9C923.9 182.2 924.6 186.0 925.0 186.0C925.4 186.0 926.1 180.7 926.5 180.0C927.0 179.2 927.7 178.3 928.1 178.1C928.8 177.9 930.0 177.8 930.6 177.5C931.2 177.3 932.0 176.3 932.5 176.3C933.0 176.3 933.9 178.1 934.4 179.4C934.7 180.3 935.3 186.0 935.7 186.0C936.0 186.0 936.6 181.1 936.9 180.0C937.2 178.9 937.8 177.1 938.2 176.9C938.7 176.6 939.5 176.3 940.0 176.3C940.5 176.3 941.4 177.5 941.9 178.1C942.4 178.8 943.3 181.3 943.8 181.3C944.3 181.3 945.2 180.4 945.7 180.0C946.2 179.7 947.0 179.1 947.5 178.8C948.2 178.4 949.4 177.5 950.0 177.5C950.7 177.5 951.9 177.9 952.5 178.1C953.1 178.4 954.2 180.6 954.8 180.6C955.2 180.6 955.9 179.8 956.3 179.4C956.6 179.0 957.2 177.5 957.5 177.5C958.0 177.5 958.9 177.9 959.4 178.1C959.9 178.4 960.8 179.0 961.3 179.4C961.9 179.9 962.9 181.9 963.5 181.9C964.0 181.9 964.8 179.6 965.3 179.4C965.9 179.1 966.9 179.0 967.5 178.8C968.2 178.5 969.2 177.5 969.8 177.5C970.3 177.5 971.1 180.6 971.6 180.6C971.9 180.6 972.5 179.4 972.8 179.4C973.1 179.4 973.7 181.3 974.1 181.3C974.5 181.3 975.3 180.9 975.7 180.6C976.2 180.4 977.1 179.0 977.6 178.8C978.2 178.5 979.4 178.1 980.1 178.1C980.7 178.1 981.9 178.8 982.6 178.8C983.2 178.8 984.4 178.4 985.1 178.1C985.7 177.9 986.9 176.9 987.6 176.9C988.1 176.9 988.9 180.6 989.5 180.6C989.9 180.6 990.8 178.7 991.3 178.1C991.8 177.6 992.7 176.3 993.2 176.3C993.7 176.3 994.6 176.7 995.1 176.9C995.7 177.1 996.9 177.5 997.6 177.5C998.2 177.5 999.4 176.9 1000.1 176.9C1000.7 176.9 1001.7 177.2 1002.3 177.5C1002.7 177.7 1003.2 188.6 1003.6 192.5C1004.0 197.6 1004.8 211.3 1005.2 211.3C1005.6 211.3 1006.2 197.0 1006.6 192.5C1006.9 188.5 1007.5 179.0 1007.8 178.8C1008.3 178.4 1009.0 178.1 1009.5 178.1C1010.0 178.1 1010.8 179.3 1011.3 180.0C1011.8 180.7 1012.7 184.4 1013.2 184.4C1013.6 184.4 1014.4 179.8 1014.8 179.4C1015.4 178.8 1016.4 178.1 1017.0 178.1C1017.6 178.1 1018.8 178.1 1019.5 178.1C1020.0 178.1 1020.8 176.3 1021.3 176.3C1022.0 176.3 1023.2 177.4 1023.9 178.1C1024.2 178.6 1025.0 179.7 1025.3 180.6C1025.7 181.4 1026.3 185.0 1026.6 185.0C1026.9 185.0 1027.5 182.3 1027.8 181.9C1028.4 181.3 1029.3 181.1 1029.8 180.6C1030.2 180.3 1030.9 178.8 1031.3 178.8C1031.7 178.8 1032.3 186.6 1032.6 187.5C1032.9 188.3 1033.3 189.4 1033.6 189.4C1033.9 189.4 1034.5 182.8 1034.8 181.9C1035.3 180.8 1036.0 179.6 1036.4 179.4C1037.0 179.1 1038.2 178.9 1038.9 178.8C1039.5 178.6 1040.7 178.1 1041.4 178.1C1041.9 178.1 1042.7 180.6 1043.2 181.9C1043.7 183.2 1044.6 189.4 1045.1 189.4C1045.5 189.4 1046.2 185.9 1046.6 184.4C1046.9 183.2 1047.5 179.4 1047.9 179.4C1048.3 179.4 1049.1 181.0 1049.5 181.9C1049.9 182.8 1050.7 186.3 1051.1 186.3C1051.5 186.3 1052.2 180.5 1052.6 180.0C1053.1 179.4 1054.0 178.8 1054.5 178.8C1054.6 178.8 1054.9 179.3 1055.0 179.4C1055.7 179.7 1056.8 179.8 1057.5 180.0C1058.2 180.3 1059.3 181.5 1060.0 181.9C1060.7 182.3 1061.8 182.7 1062.5 183.2C1063.0 183.5 1063.9 184.5 1064.4 185.7C1064.7 186.4 1065.3 190.2 1065.6 192.5C1066.0 195.4 1066.7 208.2 1067.1 208.2C1067.5 208.2 1068.1 200.0 1068.5 200.0C1068.8 200.0 1069.4 201.6 1069.8 202.5C1070.1 203.4 1070.7 207.5 1071.0 207.5C1071.4 207.5 1072.1 199.8 1072.5 198.2C1072.9 196.6 1073.6 193.8 1074.0 193.8C1074.4 193.8 1075.2 198.2 1075.6 198.2C1076.1 198.2 1076.8 194.2 1077.3 192.5C1077.7 191.0 1078.4 187.5 1078.8 186.3C1079.3 184.8 1080.1 182.5 1080.6 181.9C1081.3 181.1 1082.5 180.3 1083.2 180.0C1083.8 179.8 1085.0 179.6 1085.7 179.4C1086.2 179.2 1087.2 178.1 1087.8 178.1C1088.2 178.1 1089.0 178.8 1089.4 179.4C1089.7 179.8 1090.3 183.7 1090.7 184.4C1091.0 185.1 1091.6 186.3 1091.9 186.3C1092.3 186.3 1093.1 180.8 1093.5 180.0C1093.9 179.3 1094.6 178.1 1095.0 178.1C1095.4 178.1 1095.9 184.4 1096.3 186.3C1096.6 188.2 1097.2 192.5 1097.5 192.5C1097.9 192.5 1098.4 188.3 1098.8 186.3C1099.0 184.7 1099.5 178.8 1099.8 178.8C1100.1 178.8 1100.6 189.3 1100.9 192.5C1101.2 195.7 1101.7 203.2 1102.0 203.2C1102.3 203.2 1102.9 195.2 1103.2 192.5C1103.5 189.5 1104.1 183.1 1104.4 181.9C1104.8 180.3 1105.6 178.4 1106.0 178.1C1106.6 177.8 1107.6 177.5 1108.2 177.5C1108.8 177.5 1110.0 178.1 1110.7 178.1C1111.2 178.1 1112.2 177.5 1112.8 177.5C1113.3 177.5 1114.3 180.0 1114.8 180.0C1115.4 180.0 1116.4 179.0 1116.9 178.8C1117.6 178.5 1118.8 178.3 1119.4 178.1C1120.1 178.0 1121.3 177.5 1121.9 177.5C1122.4 177.5 1123.3 178.8 1123.8 178.8C1124.4 178.8 1125.5 177.5 1126.0 177.5C1126.6 177.5 1127.6 177.9 1128.2 178.1C1128.6 178.4 1129.4 180.6 1129.8 180.6C1130.3 180.6 1131.1 178.1 1131.6 178.1C1132.0 178.1 1132.7 180.0 1133.2 180.0C1133.7 180.0 1134.6 177.5 1135.1 177.5C1135.6 177.5 1136.4 178.6 1136.9 179.4C1137.4 180.1 1138.1 185.7 1138.6 185.7C1138.9 185.7 1139.5 184.4 1139.8 184.4C1140.1 184.4 1140.7 189.0 1141.1 189.0C1141.4 189.0 1142.0 185.1 1142.3 183.8C1142.7 182.5 1143.2 179.9 1143.6 179.4C1144.1 178.6 1145.1 177.7 1145.7 177.5C1146.4 177.3 1147.5 176.9 1148.2 176.9C1148.9 176.9 1150.0 177.1 1150.7 177.3C1151.2 177.4 1152.1 178.7 1152.6 179.4C1152.9 179.9 1153.5 181.9 1153.8 181.9C1154.3 181.9 1155.2 178.5 1155.7 178.1C1156.1 177.9 1156.9 177.5 1157.3 177.5C1157.7 177.5 1158.4 184.1 1158.8 186.3C1159.2 188.4 1159.9 193.8 1160.3 193.8C1160.7 193.8 1161.3 188.5 1161.7 186.3C1162.0 184.5 1162.5 179.4 1162.8 178.8C1163.3 177.9 1164.0 176.9 1164.5 176.9C1165.0 176.9 1165.8 177.5 1166.3 177.5C1167.0 177.5 1168.2 176.3 1168.8 176.3C1169.5 176.3 1170.7 176.6 1171.3 176.9C1171.8 177.1 1172.7 178.8 1173.2 178.8C1173.9 178.8 1175.1 178.1 1175.7 178.1C1176.4 178.1 1177.6 178.1 1178.2 178.1C1178.9 178.1 1180.1 177.5 1180.7 177.5C1181.2 177.5 1182.1 178.8 1182.6 178.8C1183.0 178.8 1183.8 177.5 1184.2 177.5C1184.5 177.5 1185.0 183.5 1185.3 186.3C1185.8 190.0 1186.4 204.0 1186.8 204.0C1187.2 204.0 1187.9 189.4 1188.2 186.3C1188.6 183.4 1189.1 178.6 1189.5 178.1C1190.0 177.5 1190.9 176.9 1191.3 176.9C1191.9 176.9 1192.7 176.9 1193.2 176.9C1193.7 176.9 1194.6 178.9 1195.1 179.4C1195.6 179.8 1196.5 180.3 1197.0 180.6C1197.5 181.0 1198.4 181.9 1198.9 181.9C1199.3 181.9 1200.0 179.4 1200.4 179.4C1200.8 179.4 1201.6 180.0 1202.0 180.0C1202.5 180.0 1203.4 178.1 1203.9 178.1C1204.2 178.1 1204.8 184.1 1205.1 186.3C1205.5 188.9 1206.2 196.0 1206.6 196.0C1206.9 196.0 1207.5 188.5 1207.9 186.3C1208.2 184.0 1208.8 179.1 1209.1 178.8C1209.7 178.1 1210.8 177.8 1211.4 177.5C1212.0 177.2 1213.2 176.3 1213.9 176.3C1214.4 176.3 1215.2 178.5 1215.8 179.4C1216.1 180.0 1216.7 181.9 1217.0 181.9C1217.3 181.9 1217.9 178.5 1218.2 178.1C1218.7 177.6 1219.6 176.9 1220.1 176.9C1220.8 176.9 1222.0 178.5 1222.6 178.8C1223.3 179.0 1224.4 179.4 1225.0 179.4C1225.5 179.4 1226.4 176.9 1226.9 176.9C1227.4 176.9 1228.3 176.9 1228.8 176.9C1229.3 176.9 1230.2 178.8 1230.7 179.4C1231.0 179.8 1231.6 180.6 1231.9 180.6C1232.4 180.6 1233.3 177.9 1233.8 177.5C1234.5 177.0 1235.6 176.3 1236.3 176.3C1237.0 176.3 1238.1 176.7 1238.8 176.9C1239.5 177.1 1240.6 177.3 1241.3 177.5C1241.8 177.7 1242.7 178.8 1243.2 178.8C1243.7 178.8 1244.5 177.8 1245.0 177.5C1245.7 177.1 1246.9 176.3 1247.5 176.3C1248.0 176.3 1248.9 176.6 1249.4 176.9C1249.9 177.1 1250.8 178.8 1251.3 178.8C1251.8 178.8 1252.7 178.4 1253.2 178.1C1253.7 177.9 1254.6 176.9 1255.0 176.9C1255.6 176.9 1256.4 177.1 1256.9 177.3C1257.4 177.4 1258.3 179.0 1258.8 180.0C1259.2 180.8 1259.9 185.0 1260.3 185.0C1260.7 185.0 1261.5 180.9 1261.9 180.0C1262.4 179.1 1263.1 177.5 1263.6 177.5C1264.1 177.5 1265.1 178.0 1265.7 178.1C1266.2 178.3 1267.1 178.8 1267.6 178.8C1268.1 178.8 1268.9 177.5 1269.4 177.5C1269.9 177.5 1270.6 180.5 1271.1 181.9C1271.5 183.4 1272.4 189.0 1272.8 189.0C1273.3 189.0 1274.0 185.0 1274.4 183.8C1274.9 182.5 1275.6 180.1 1276.1 179.4C1276.6 178.4 1277.6 177.5 1278.2 176.9C1278.7 176.3 1279.6 175.0 1280.1 175.0C1280.6 175.0 1281.4 177.5 1282.0 178.1C1282.4 178.7 1283.1 180.0 1283.6 180.0C1284.0 180.0 1284.7 179.2 1285.1 178.8C1285.6 178.3 1286.5 176.3 1287.0 176.3C1287.5 176.3 1288.3 176.6 1288.8 176.9C1289.3 177.2 1290.2 179.4 1290.7 179.4C1291.1 179.4 1291.9 179.0 1292.3 178.8C1292.7 178.6 1293.4 177.7 1293.8 177.5C1294.5 177.2 1295.7 176.9 1296.3 176.9C1297.0 176.9 1298.2 177.2 1298.8 177.3C1299.5 177.4 1300.7 177.5 1301.3 177.5C1302.0 177.5 1303.2 176.9 1303.8 176.9C1304.3 176.9 1305.2 177.2 1305.7 177.5C1306.2 177.8 1306.9 180.8 1307.3 181.9C1307.7 182.7 1308.3 184.8 1308.6 184.8C1309.0 184.8 1309.7 181.1 1310.1 180.0C1310.4 179.1 1311.0 176.9 1311.3 176.9C1311.8 176.9 1312.7 180.0 1313.2 180.0C1313.7 180.0 1314.6 177.9 1315.1 177.5C1315.8 177.0 1316.9 176.3 1317.6 176.3C1318.3 176.3 1319.4 176.8 1320.1 176.9C1320.8 177.0 1321.9 177.1 1322.6 177.3C1323.1 177.4 1324.0 177.7 1324.5 178.1C1324.8 178.4 1325.4 182.4 1325.7 183.8C1326.1 185.1 1326.6 188.5 1327.0 188.5C1327.4 188.5 1328.1 183.4 1328.5 181.9C1328.8 180.5 1329.5 177.5 1329.9 177.5C1330.3 177.5 1331.0 177.5 1331.4 177.5C1331.7 177.5 1332.3 181.5 1332.6 183.8C1332.9 185.6 1333.3 191.1 1333.6 193.8" stroke="#000" stroke-width="2.1" fill="none" stroke-linejoin="round"/>
</g>
<path d="M98.1 24.8v13M98.1 400.8v-13M139.3 24.8v6.5M139.3 400.8v-6.5M180.5 24.8v6.5M180.5 400.8v-6.5M221.7 24.8v6.5M221.7 400.8v-6.5M262.8 24.8v6.5M262.8 400.8v-6.5M304.0 24.8v13M304.0 400.8v-13M345.2 24.8v6.5M345.2 400.8v-6.5M386.4 24.8v6.5M386.4 400.8v-6.5M427.6 24.8v6.5M427.6 400.8v-6.5M468.8 24.8v6.5M468.8 400.8v-6.5M510.0 24.8v13M510.0 400.8v-13M551.2 24.8v6.5M551.2 400.8v-6.5M592.3 24.8v6.5M592.3 400.8v-6.5M633.5 24.8v6.5M633.5 400.8v-6.5M674.7 24.8v6.5M674.7 400.8v-6.5M715.9 24.8v13M715.9 400.8v-13M757.1 24.8v6.5M757.1 400.8v-6.5M798.3 24.8v6.5M798.3 400.8v-6.5M839.5 24.8v6.5M839.5 400.8v-6.5M880.6 24.8v6.5M880.6 400.8v-6.5M921.8 24.8v13M921.8 400.8v-13M963.0 24.8v6.5M963.0 400.8v-6.5M1004.2 24.8v6.5M1004.2 400.8v-6.5M1045.4 24.8v6.5M1045.4 400.8v-6.5M1086.6 24.8v6.5M1086.6 400.8v-6.5M1127.8 24.8v13M1127.8 400.8v-13M1169.0 24.8v6.5M1169.0 400.8v-6.5M1210.1 24.8v6.5M1210.1 400.8v-6.5M1251.3 24.8v6.5M1251.3 400.8v-6.5M1292.5 24.8v6.5M1292.5 400.8v-6.5M1333.7 24.8v13M1333.7 400.8v-13M98.1 24.8h13M1333.7 24.8h-13M98.1 100.0h13M1333.7 100.0h-13M98.1 175.2h13M1333.7 175.2h-13M98.1 250.4h13M1333.7 250.4h-13M98.1 325.6h13M1333.7 325.6h-13M98.1 400.8h13M1333.7 400.8h-13" stroke="#000" stroke-width="1.3" fill="none"/>
<rect x="98.1" y="24.8" width="1235.6000000000001" height="376.0" fill="none" stroke="#000" stroke-width="1.4"/>
<text x="88.8" y="34.3" text-anchor="end" class="t">1.1</text>
<text x="88.8" y="109.5" text-anchor="end" class="t">1.05</text>
<text x="88.8" y="184.7" text-anchor="end" class="t">1</text>
<text x="88.8" y="259.9" text-anchor="end" class="t">0.95</text>
<text x="88.8" y="335.1" text-anchor="end" class="t">0.9</text>
<text x="88.8" y="410.3" text-anchor="end" class="t">0.85</text>
<text x="98.1" y="433.8" text-anchor="middle" class="t">2400</text>
<text x="304.0" y="433.8" text-anchor="middle" class="t">2500</text>
<text x="510.0" y="433.8" text-anchor="middle" class="t">2600</text>
<text x="715.9" y="433.8" text-anchor="middle" class="t">2700</text>
<text x="921.8" y="433.8" text-anchor="middle" class="t">2800</text>
<text x="1127.8" y="433.8" text-anchor="middle" class="t">2900</text>
<text x="1333.7" y="433.8" text-anchor="middle" class="t">3000</text>
<text x="701.3" y="465.3" class="a">[nm]</text>
<path d="M683.1 447.75Q685.6 447.40 686.5 450.10L691.7 465.40" stroke="#000" stroke-width="1.9" fill="none"/><path d="M687.7 457.70L680.2 465.50" stroke="#000" stroke-width="1.15" fill="none"/>
<text transform="translate(20.3,215.0) rotate(-90)" text-anchor="middle" textLength="430.5" lengthAdjust="spacing" class="a">Solar pseudo-transmittance spectrum</text>
<rect x="572.5" y="44.55" width="741.5" height="86.85" fill="#fff" stroke="#000" stroke-width="1.2"/>
<path d="M580.6 61.40h59.4" stroke="#0000ff" stroke-width="3.1"/>
<text x="646.5" y="69.2" class="l">SOLAR-ISS (V1.1) - Detrended</text>
<path d="M580.6 88.10h59.4" stroke="#ff00ff" stroke-width="1.4"/>
<text x="646.5" y="95.8" class="l">ACE-FTS (convolution with a Gaussian slit function - FWHM = 1 nm)</text>
<path d="M580.6 114.80h59.4" stroke="#000" stroke-width="2"/>
<text x="646.5" y="122.5" class="l">SPTS (convolution with a Gaussian slit function - FWHM = 1 nm)</text>
<path d="M139.3 503.65V876.3M180.5 503.65V876.3M221.7 503.65V876.3M262.8 503.65V876.3M345.2 503.65V876.3M386.4 503.65V876.3M427.6 503.65V876.3M468.8 503.65V876.3M551.2 503.65V876.3M592.3 503.65V876.3M633.5 503.65V876.3M674.7 503.65V876.3M757.1 503.65V876.3M798.3 503.65V876.3M839.5 503.65V876.3M880.6 503.65V876.3M963.0 503.65V876.3M1004.2 503.65V876.3M1045.4 503.65V876.3M1086.6 503.65V876.3M1169.0 503.65V876.3M1210.1 503.65V876.3M1251.3 503.65V876.3M1292.5 503.65V876.3" stroke="#cccccc" stroke-width="1.7" stroke-dasharray="1.7 6.196" fill="none"/>
<path d="M100.15 515.3H1333.7M100.15 530.4H1333.7M100.15 545.4H1333.7M100.15 560.5H1333.7M100.15 590.5H1333.7M100.15 605.6H1333.7M100.15 620.6H1333.7M100.15 635.7H1333.7M100.15 665.7H1333.7M100.15 680.8H1333.7M100.15 695.8H1333.7M100.15 710.9H1333.7M100.15 740.9H1333.7M100.15 756.0H1333.7M100.15 771.0H1333.7M100.15 786.1H1333.7M100.15 816.1H1333.7M100.15 831.2H1333.7M100.15 846.2H1333.7M100.15 861.3H1333.7" stroke="#cccccc" stroke-width="1.7" stroke-dasharray="1.7 6.196" fill="none"/>
<path d="M304.0 500.3V876.3M510.0 500.3V876.3M715.9 500.3V876.3M921.8 500.3V876.3M1127.8 500.3V876.3M98.1 575.5H1333.7M98.1 650.7H1333.7M98.1 725.9H1333.7M98.1 801.1H1333.7" stroke="#e2e2e2" stroke-width="1.6" fill="none"/>
<clipPath id="c500"><rect x="98.1" y="500.3" width="1236.8000000000002" height="375.99999999999994"/></clipPath><g clip-path="url(#c500)">
<path d="M98.0 655.6C98.4 653.8 99.0 650.2 99.4 648.8C99.9 646.9 100.8 643.5 101.2 643.1C101.6 642.9 102.2 642.5 102.5 642.5C103.0 642.5 103.9 645.0 104.4 645.0C104.9 645.0 105.8 644.8 106.3 644.8C106.8 644.8 107.6 645.4 108.1 645.6C108.6 645.9 109.5 646.9 110.0 646.9C110.5 646.9 111.4 645.5 111.9 645.0C112.4 644.5 113.3 643.1 113.8 643.1C114.3 643.1 115.1 645.6 115.6 645.6C116.1 645.6 117.0 643.1 117.5 643.1C118.0 643.1 118.9 643.8 119.4 643.8C119.9 643.8 120.8 642.9 121.3 642.5C121.9 642.0 122.9 640.3 123.5 640.3C123.9 640.3 124.6 641.1 125.0 641.9C125.4 642.5 125.9 647.2 126.3 650.0C126.5 652.2 127.0 658.3 127.3 661.3C127.5 663.9 127.9 669.5 128.2 671.3C128.4 673.1 128.8 675.5 129.0 676.3C129.3 677.2 129.8 677.7 130.0 678.8C130.3 679.9 130.8 689.0 131.0 690.0C131.2 690.8 131.6 691.9 131.8 691.9C132.0 691.9 132.3 685.5 132.5 682.5C132.8 678.6 133.3 667.4 133.5 663.8C133.8 660.6 134.2 655.0 134.4 654.4C134.7 653.5 135.3 652.7 135.7 652.5C136.2 652.2 137.0 652.1 137.5 651.9C138.0 651.7 138.9 651.0 139.4 650.6C139.9 650.2 140.8 649.3 141.3 648.8C141.6 648.4 142.2 647.5 142.5 647.5C143.0 647.5 143.9 648.3 144.4 648.8C144.9 649.2 145.8 650.8 146.3 651.3C146.8 651.7 147.7 652.5 148.2 652.5C148.7 652.5 149.5 651.7 150.0 651.3C150.5 650.9 151.4 649.4 151.9 649.4C152.4 649.4 153.3 650.0 153.8 650.0C154.3 650.0 155.2 648.5 155.7 648.1C156.2 647.7 157.0 647.2 157.6 646.9C158.0 646.6 158.9 645.6 159.4 645.6C159.9 645.6 160.8 646.0 161.3 646.0C161.8 646.0 162.7 644.9 163.2 644.4C163.5 644.1 164.1 643.3 164.4 643.1C164.9 642.9 165.6 642.5 166.1 642.5C166.4 642.5 167.0 644.3 167.3 645.6C167.5 646.6 167.9 651.4 168.2 652.5C168.5 654.2 169.1 656.6 169.4 656.9C169.8 657.2 170.3 657.5 170.7 657.5C171.0 657.5 171.6 649.8 171.9 648.8C172.3 647.7 172.8 646.3 173.2 646.3C173.5 646.3 174.1 647.8 174.4 648.8C174.8 649.7 175.4 654.4 175.7 654.4C176.0 654.4 176.6 651.3 176.9 650.0C177.3 648.7 177.9 645.2 178.2 644.4C178.7 643.2 179.6 641.5 180.1 641.5C180.6 641.5 181.4 643.2 181.9 643.8C182.4 644.3 183.3 645.6 183.8 645.6C184.3 645.6 185.2 643.8 185.7 643.1C186.2 642.5 187.1 640.6 187.6 640.6C188.0 640.6 188.7 642.9 189.1 643.1C189.5 643.4 190.3 643.5 190.7 643.8C191.0 644.0 191.6 644.7 191.9 645.6C192.2 646.3 192.6 652.6 192.8 655.0C193.1 657.8 193.6 664.5 193.8 665.0C194.2 665.7 194.7 666.3 195.1 666.3C195.5 666.3 196.2 663.6 196.6 662.5C196.9 661.6 197.5 659.7 197.8 658.8C198.3 657.5 199.0 654.4 199.4 654.4C199.8 654.4 200.4 655.6 200.7 656.3C201.1 657.1 201.9 660.5 202.3 661.3C202.7 662.0 203.4 663.1 203.8 663.1C204.2 663.1 204.7 660.0 205.1 658.8C205.4 657.5 206.0 654.8 206.3 653.8C206.7 652.7 207.2 650.6 207.6 650.6C208.0 650.6 208.7 652.7 209.1 653.1C209.5 653.6 210.3 653.8 210.7 654.4C211.0 654.8 211.6 657.7 212.0 658.8C212.3 659.8 212.9 661.1 213.2 662.5C213.5 663.9 214.1 669.4 214.5 671.3C214.7 672.8 215.2 676.3 215.5 676.3C215.8 676.3 216.3 670.5 216.6 667.5C216.9 664.9 217.3 655.8 217.6 653.8C217.9 651.3 218.5 647.9 218.8 647.5C219.3 646.9 220.2 646.7 220.7 646.3C221.2 645.8 222.1 643.5 222.6 643.5C223.1 643.5 224.0 645.4 224.5 645.6C225.0 645.9 225.8 646.3 226.3 646.3C226.8 646.3 227.7 644.9 228.2 644.4C228.7 643.9 229.4 642.5 229.8 642.5C230.2 642.5 230.9 644.2 231.3 644.8C231.9 645.5 232.7 647.5 233.2 647.5C233.7 647.5 234.6 644.6 235.1 644.4C235.6 644.2 236.5 644.0 237.0 644.0C237.5 644.0 238.4 645.4 238.9 646.3C239.3 646.9 240.0 648.6 240.4 650.0C240.7 651.2 241.3 654.7 241.6 656.9C241.9 658.7 242.3 663.3 242.6 665.0C242.8 666.6 243.3 670.0 243.5 670.0C243.8 670.0 244.2 663.9 244.5 661.3C244.7 659.0 245.1 652.8 245.4 651.3C245.6 649.6 246.1 646.9 246.4 646.9C246.8 646.9 247.5 648.0 247.9 648.8C248.2 649.4 248.8 652.5 249.1 652.5C249.5 652.5 250.0 648.6 250.4 647.5C250.8 646.1 251.6 643.1 252.0 643.1C252.5 643.1 253.4 643.8 253.9 643.8C254.3 643.8 255.0 643.0 255.4 642.5C255.7 642.1 256.2 640.3 256.5 640.0C256.8 639.7 257.4 639.4 257.8 639.4C258.1 639.4 258.7 641.2 259.0 642.5C259.3 643.8 259.9 649.5 260.2 652.5C260.5 654.9 261.0 660.8 261.2 662.5C261.6 664.6 262.2 667.8 262.5 668.1C262.8 668.5 263.4 668.8 263.8 668.8C264.1 668.8 264.7 663.5 265.0 662.5C265.3 661.6 265.9 660.0 266.3 660.0C266.6 660.0 267.2 664.4 267.5 667.5C267.7 669.1 268.0 678.2 268.1 678.2C268.4 678.2 268.8 670.7 269.0 667.5C269.3 664.0 269.7 654.4 270.0 652.5C270.3 650.2 270.9 647.4 271.3 646.9C271.6 646.3 272.2 645.6 272.5 645.6C272.9 645.6 273.6 647.6 274.0 648.8C274.3 649.8 274.9 652.6 275.3 655.0C275.5 656.9 276.0 664.3 276.3 667.5C276.5 670.8 277.0 679.4 277.3 679.4C277.5 679.4 278.0 671.2 278.3 667.5C278.5 664.4 278.9 655.4 279.1 653.8C279.4 651.6 280.0 649.5 280.3 648.8C280.7 647.7 281.5 646.7 281.9 646.3C282.4 645.8 283.3 645.0 283.8 645.0C284.3 645.0 285.1 646.9 285.6 646.9C286.1 646.9 286.8 646.0 287.3 646.0C287.7 646.0 288.4 646.9 288.8 647.5C289.2 648.1 289.9 651.9 290.3 651.9C290.7 651.9 291.5 646.9 291.9 646.9C292.4 646.9 293.3 648.2 293.8 648.8C294.2 649.2 294.9 650.0 295.3 650.6C295.6 651.2 296.2 653.1 296.5 653.1C297.0 653.1 297.7 649.2 298.2 648.8C298.7 648.2 299.5 647.9 300.0 647.5C300.5 647.1 301.4 646.0 301.9 646.0C302.4 646.0 303.3 646.3 303.8 646.3C304.3 646.3 305.2 645.2 305.7 644.8C306.3 644.2 307.5 642.3 308.2 642.3C308.7 642.3 309.5 643.9 310.0 644.4C310.7 645.1 311.9 646.9 312.5 646.9C313.0 646.9 313.9 644.9 314.4 644.4C315.1 643.7 316.3 642.5 316.9 642.5C317.4 642.5 318.1 644.4 318.6 645.6C318.9 646.6 319.5 650.6 319.8 651.3C320.2 652.1 320.9 652.9 321.3 653.1C321.8 653.4 322.7 653.8 323.2 653.8C323.6 653.8 324.4 652.5 324.8 652.5C325.2 652.5 325.9 658.5 326.3 658.5C326.6 658.5 327.2 655.4 327.6 654.4C327.9 653.3 328.5 650.6 328.8 650.6C329.3 650.6 330.2 651.3 330.7 651.3C331.2 651.3 332.1 650.0 332.6 650.0C333.1 650.0 333.9 650.6 334.4 650.6C335.1 650.6 336.3 647.5 336.9 647.5C337.4 647.5 338.1 649.1 338.6 650.0C339.0 650.8 339.7 654.4 340.1 654.4C340.6 654.4 341.4 651.6 341.9 650.6C342.4 649.6 343.3 647.4 343.8 646.9C344.3 646.4 345.2 646.0 345.7 645.6C346.4 645.2 347.5 644.2 348.2 644.0C348.9 643.8 350.0 643.5 350.7 643.5C351.4 643.5 352.5 646.9 353.2 646.9C353.9 646.9 355.0 646.3 355.7 646.0C356.4 645.8 357.5 645.0 358.2 645.0C359.0 645.0 360.5 646.3 361.3 646.3C362.2 646.3 363.6 645.9 364.5 645.6C365.3 645.4 366.7 643.1 367.6 643.1C368.2 643.1 369.4 644.0 370.1 644.4C370.6 644.7 371.5 645.6 372.0 645.6C372.5 645.6 373.3 643.5 373.8 643.5C374.3 643.5 375.2 645.4 375.7 646.3C376.2 647.0 376.9 649.4 377.3 649.4C377.8 649.4 378.6 645.6 379.1 645.6C379.5 645.6 380.3 648.3 380.7 648.8C381.2 649.3 382.1 650.0 382.6 650.0C383.3 650.0 384.4 649.4 385.1 649.4C385.6 649.4 386.5 650.9 387.0 651.9C387.4 652.8 388.2 656.1 388.6 658.8C388.8 660.2 389.2 665.6 389.5 667.5C389.7 669.5 390.1 673.8 390.4 673.8C390.6 673.8 391.1 667.8 391.4 665.0C391.6 662.3 392.1 654.5 392.4 652.5C392.7 650.1 393.3 646.5 393.6 646.3C394.0 645.9 394.7 645.9 395.1 645.6C395.7 645.3 396.8 642.5 397.4 642.5C397.8 642.5 398.5 645.1 398.9 646.3C399.4 647.7 400.2 653.1 400.7 653.1C401.2 653.1 402.1 652.0 402.6 651.3C403.1 650.6 404.0 647.7 404.5 646.9C404.9 646.2 405.7 645.0 406.1 645.0C406.6 645.0 407.4 646.7 407.9 647.5C408.3 648.3 409.1 650.7 409.5 651.3C410.0 652.0 410.9 653.1 411.4 653.1C411.8 653.1 412.5 652.4 412.9 651.9C413.3 651.3 414.1 648.0 414.5 646.9C414.6 646.5 414.9 645.6 415.0 645.6C415.5 645.6 416.4 645.6 416.9 645.6C417.3 645.6 418.1 647.7 418.5 648.8C418.9 649.8 419.6 653.5 420.0 654.4C420.4 655.3 421.1 656.9 421.5 656.9C421.8 656.9 422.4 654.8 422.8 653.8C423.1 652.7 423.7 649.5 424.0 648.8C424.4 647.8 425.2 646.3 425.6 646.3C426.0 646.3 426.5 648.9 426.9 650.0C427.2 651.2 427.8 655.0 428.1 655.0C428.5 655.0 429.1 652.7 429.4 651.9C429.8 650.9 430.6 648.8 431.0 648.1C431.5 647.4 432.3 646.0 432.8 646.0C433.2 646.0 434.0 646.1 434.4 646.3C434.8 646.4 435.6 647.9 436.0 648.8C436.4 649.6 437.1 653.1 437.5 653.1C437.9 653.1 438.6 650.6 439.0 650.0C439.4 649.6 439.9 648.8 440.3 648.8C440.6 648.8 441.2 653.4 441.5 655.0C441.8 656.4 442.3 660.0 442.5 660.0C442.9 660.0 443.4 655.3 443.8 653.8C444.1 652.3 444.7 649.6 445.0 648.8C445.4 647.8 446.1 646.3 446.5 646.3C447.0 646.3 447.7 647.5 448.1 648.1C448.5 648.6 449.1 650.6 449.4 650.6C449.8 650.6 450.6 647.3 451.0 646.3C451.4 645.3 452.1 643.1 452.5 643.1C453.0 643.1 453.9 643.5 454.4 643.8C454.9 644.0 455.8 646.3 456.3 646.3C456.9 646.3 457.9 646.1 458.5 646.0C459.0 645.9 459.8 644.0 460.3 643.5C460.7 643.1 461.5 642.3 461.9 642.3C462.4 642.3 463.3 644.7 463.8 645.0C464.3 645.3 465.2 645.6 465.7 645.6C466.2 645.6 467.0 642.5 467.5 642.5C468.0 642.5 468.9 643.2 469.4 643.8C469.9 644.2 470.6 647.4 471.0 648.8C471.4 650.0 472.1 652.7 472.5 653.8C472.9 654.8 473.6 656.9 474.0 656.9C474.5 656.9 475.2 656.3 475.7 656.3C476.1 656.3 476.9 657.0 477.3 657.5C477.6 658.0 478.2 660.3 478.6 661.9C478.9 663.5 479.5 668.8 479.8 671.3C480.1 673.8 480.7 680.7 481.1 680.7C481.3 680.7 481.7 676.5 481.9 673.8C482.2 671.1 482.6 657.6 482.8 655.0C483.1 652.0 483.5 647.9 483.8 647.5C484.3 646.8 485.2 646.3 485.7 646.3C486.2 646.3 487.1 646.5 487.6 646.5C488.2 646.5 489.4 646.4 490.1 646.3C490.7 646.2 491.7 645.0 492.3 645.0C492.7 645.0 493.4 645.7 493.8 646.3C494.1 646.7 494.7 649.4 495.1 650.0C495.5 650.7 496.2 651.9 496.6 651.9C497.0 651.9 497.8 649.3 498.2 648.8C498.9 647.9 500.0 646.3 500.7 646.3C501.2 646.3 502.1 647.3 502.6 648.1C502.9 648.7 503.5 652.5 503.8 652.5C504.2 652.5 504.9 648.3 505.3 647.5C505.9 646.5 506.8 645.0 507.3 645.0C507.8 645.0 508.6 646.4 509.1 646.9C509.6 647.5 510.5 649.4 511.1 649.4C511.6 649.4 512.6 646.9 513.2 646.3C513.7 645.7 514.6 644.4 515.1 644.4C515.7 644.4 516.9 646.0 517.6 646.3C518.2 646.5 519.2 646.9 519.8 646.9C520.4 646.9 521.4 644.4 522.0 644.4C522.6 644.4 523.8 645.9 524.5 646.0C525.1 646.1 526.3 646.1 527.0 646.3C527.6 646.4 528.8 647.5 529.5 647.5C530.1 647.5 531.3 646.3 532.0 646.3C532.6 646.3 533.8 648.3 534.5 648.8C535.0 649.1 535.8 649.8 536.3 649.8C537.0 649.8 538.2 647.2 538.8 646.9C539.4 646.6 540.5 646.3 541.1 646.3C541.7 646.3 542.7 648.5 543.2 648.8C543.7 649.0 544.6 649.1 545.1 649.4C545.5 649.6 546.2 652.3 546.6 653.1C546.9 653.9 547.5 655.6 547.9 655.6C548.3 655.6 549.0 653.4 549.5 653.1C550.0 652.9 550.9 652.7 551.4 652.5C551.9 652.4 552.7 651.9 553.2 651.9C553.7 651.9 554.4 654.3 554.9 656.3C555.1 657.3 555.5 663.3 555.7 665.0C556.0 666.7 556.4 670.0 556.6 670.0C556.9 670.0 557.5 667.5 557.9 667.5C558.2 667.5 558.8 667.8 559.1 668.1C559.4 668.4 559.8 674.3 560.1 677.5C560.4 681.5 561.0 692.8 561.4 698.8C561.6 703.6 562.1 714.8 562.4 717.6C562.6 720.0 563.0 723.8 563.2 723.8C563.5 723.8 563.9 720.0 564.1 717.6C564.4 714.8 564.8 703.6 565.1 698.8C565.4 692.8 566.0 682.3 566.4 677.5C566.6 673.7 567.1 667.2 567.4 665.0C567.7 662.3 568.3 658.4 568.6 657.5C569.0 656.5 569.7 655.5 570.1 655.0C570.6 654.4 571.5 653.8 572.0 653.1C572.4 652.6 573.2 650.5 573.6 650.0C574.1 649.5 574.9 649.1 575.4 648.8C575.9 648.3 576.9 646.9 577.5 646.9C578.2 646.9 579.3 648.8 580.0 648.8C580.7 648.8 581.8 647.1 582.5 646.9C583.2 646.6 584.3 646.3 585.0 646.3C585.7 646.3 586.8 647.0 587.5 647.5C588.0 647.9 588.9 648.7 589.4 650.0C589.6 650.6 590.0 656.1 590.3 658.8C590.5 661.9 591.0 669.6 591.3 672.5C591.5 675.5 592.0 681.9 592.3 681.9C592.5 681.9 593.0 674.8 593.3 671.3C593.5 668.7 593.8 661.1 594.0 658.8C594.3 655.6 594.8 650.0 595.0 650.0C595.4 650.0 595.9 651.1 596.3 651.9C596.6 652.7 597.2 658.1 597.5 658.1C597.9 658.1 598.4 652.6 598.8 651.3C599.1 650.0 599.7 647.5 600.0 647.5C600.5 647.5 601.4 648.8 601.9 648.8C602.4 648.8 603.3 647.5 603.8 647.5C604.3 647.5 605.1 649.1 605.6 649.4C606.1 649.6 607.0 650.0 607.5 650.0C608.0 650.0 608.9 649.7 609.4 649.4C609.9 649.1 610.8 646.3 611.3 646.3C611.8 646.3 612.7 648.8 613.1 648.8C613.7 648.8 614.5 646.9 615.0 646.9C615.5 646.9 616.4 650.0 616.9 650.0C617.4 650.0 618.3 648.4 618.8 647.5C619.0 647.0 619.5 644.8 619.8 644.8C620.0 644.8 620.5 648.0 620.8 650.0C621.0 651.8 621.4 658.5 621.7 661.3C621.9 664.0 622.3 670.7 622.5 670.7C622.8 670.7 623.3 663.7 623.5 661.3C623.8 658.5 624.4 652.7 624.7 651.3C625.0 649.5 625.7 647.3 626.0 646.9C626.6 646.3 627.6 645.6 628.2 645.6C628.7 645.6 629.5 645.9 630.0 646.0C630.5 646.2 631.4 647.1 631.9 647.5C632.4 647.9 633.3 648.8 633.8 648.8C634.3 648.8 635.2 646.9 635.7 646.9C636.0 646.9 636.6 649.1 636.9 650.0C637.3 650.9 637.8 652.7 638.2 653.8C638.5 654.8 639.1 658.1 639.4 658.1C639.8 658.1 640.3 654.4 640.7 654.4C641.0 654.4 641.6 657.4 641.9 658.8C642.3 660.1 642.8 664.1 643.2 665.0C643.5 666.0 644.1 667.5 644.4 667.5C644.8 667.5 645.3 662.7 645.7 661.9C646.0 661.1 646.6 660.7 646.9 660.0C647.3 659.3 647.8 656.8 648.2 655.0C648.4 653.8 648.8 649.4 649.1 648.8C649.5 647.5 650.2 646.0 650.7 646.0C651.2 646.0 652.1 648.8 652.6 648.8C653.2 648.8 654.4 648.3 655.1 648.1C655.7 648.0 656.9 647.5 657.6 647.5C658.2 647.5 659.4 648.4 660.1 648.8C660.7 649.1 661.9 649.6 662.6 650.0C663.1 650.4 663.9 651.1 664.4 651.9C664.8 652.4 665.4 655.1 665.7 655.6C666.0 656.1 666.6 656.9 666.9 656.9C667.3 656.9 667.9 654.0 668.2 653.1C668.5 652.2 669.1 650.5 669.5 650.0C669.9 649.3 670.8 648.1 671.3 648.1C672.0 648.1 673.2 648.5 673.8 648.5C674.5 648.5 675.7 647.7 676.3 647.5C677.2 647.3 678.6 647.0 679.5 646.9C680.3 646.8 681.7 646.5 682.6 646.5C683.4 646.5 684.9 647.5 685.7 647.5C686.4 647.5 687.5 645.6 688.2 645.6C688.9 645.6 690.0 648.1 690.7 648.1C691.4 648.1 692.5 646.3 693.2 646.3C693.9 646.3 695.1 646.7 695.7 646.9C696.6 647.1 698.0 647.9 698.8 648.1C699.5 648.3 700.7 648.8 701.3 648.8C702.0 648.8 703.2 648.1 703.9 648.1C704.5 648.1 705.7 649.4 706.4 649.4C707.0 649.4 708.2 649.4 708.9 649.4C709.4 649.4 710.2 648.0 710.7 647.5C711.4 646.9 712.6 645.3 713.2 645.3C713.9 645.3 715.1 646.5 715.7 646.9C716.4 647.3 717.6 648.1 718.2 648.1C718.9 648.1 720.1 646.4 720.7 646.3C721.4 646.1 722.6 646.0 723.2 646.0C723.9 646.0 725.1 646.1 725.7 646.3C726.2 646.4 727.1 647.4 727.6 648.1C728.0 648.7 728.7 651.0 729.1 651.9C729.5 652.6 730.0 654.4 730.4 654.4C730.8 654.4 731.6 651.0 732.0 650.0C732.4 649.0 733.2 647.2 733.6 646.9C734.2 646.5 735.2 646.0 735.8 646.0C736.1 646.0 736.6 646.5 736.9 646.9C737.3 647.4 738.1 649.6 738.5 650.6C738.8 651.4 739.4 653.8 739.8 653.8C740.1 653.8 740.7 650.8 741.0 650.0C741.4 649.0 742.1 647.1 742.5 646.9C743.0 646.6 743.9 646.3 744.4 646.3C744.9 646.3 745.8 646.6 746.3 646.9C746.8 647.1 747.6 648.3 748.1 648.5C748.8 648.9 750.0 649.2 750.6 649.4C751.3 649.6 752.5 650.0 753.1 650.0C753.6 650.0 754.5 648.4 755.0 648.1C755.7 647.8 756.9 647.3 757.5 647.3C758.2 647.3 759.4 648.8 760.0 648.8C760.5 648.8 761.4 647.8 761.9 647.5C762.5 647.2 763.5 646.5 764.0 646.5C764.6 646.5 765.7 648.1 766.3 648.5C766.8 648.8 767.6 649.0 768.1 649.4C768.7 649.7 769.5 651.4 770.0 651.9C770.4 652.3 771.1 653.1 771.5 653.1C772.0 653.1 772.7 649.6 773.1 649.4C773.7 649.1 774.5 648.9 775.0 648.8C775.9 648.5 777.3 648.3 778.2 648.1C779.2 648.0 780.9 647.5 781.9 647.5C782.7 647.5 784.2 648.5 785.0 648.5C785.9 648.5 787.3 647.5 788.2 647.5C788.8 647.5 790.0 648.1 790.7 648.1C791.2 648.1 792.0 647.3 792.5 647.3C793.0 647.3 793.9 649.0 794.4 650.0C794.9 650.9 795.6 655.6 796.0 655.6C796.4 655.6 797.1 651.4 797.5 650.6C798.0 649.7 798.9 648.4 799.4 648.1C800.1 647.8 801.3 647.5 801.9 647.5C802.8 647.5 804.2 648.8 805.0 648.8C805.9 648.8 807.3 648.3 808.2 648.1C809.0 648.0 810.5 647.5 811.3 647.5C812.0 647.5 813.1 649.0 813.8 649.4C814.6 649.8 816.1 650.6 816.9 650.6C817.8 650.6 819.2 649.4 820.1 649.4C820.9 649.4 822.4 649.4 823.2 649.4C824.0 649.4 825.5 650.1 826.3 650.6C827.0 651.1 828.2 652.8 828.8 653.8C829.3 654.5 830.2 656.3 830.7 656.9C831.2 657.5 832.1 658.5 832.6 658.8C833.1 659.0 833.9 659.4 834.5 659.4C835.1 659.4 836.3 658.1 837.0 658.1C837.5 658.1 838.3 660.0 838.8 660.0C839.2 660.0 839.9 659.7 840.3 659.4C840.7 659.1 841.2 655.6 841.6 655.0C842.0 654.2 842.8 653.1 843.2 653.1C843.9 653.1 845.0 653.1 845.7 653.1C846.4 653.1 847.5 652.7 848.2 652.5C848.9 652.4 850.0 651.9 850.7 651.9C851.2 651.9 852.1 653.1 852.6 653.1C853.1 653.1 854.0 651.0 854.5 650.6C855.1 650.1 856.3 649.4 857.0 649.4C857.8 649.4 859.3 649.4 860.1 649.4C860.8 649.4 861.9 649.8 862.6 650.0C863.3 650.3 864.4 651.3 865.1 651.9C865.5 652.3 866.2 653.8 866.6 653.8C867.0 653.8 867.8 652.1 868.2 651.9C868.9 651.6 870.1 651.3 870.7 651.3C871.6 651.3 873.0 651.9 873.9 651.9C874.5 651.9 875.7 651.0 876.4 650.6C877.0 650.2 878.2 648.8 878.9 648.8C879.4 648.8 880.2 649.1 880.7 649.4C881.2 649.6 882.1 650.8 882.6 651.3C883.1 651.8 884.0 652.9 884.5 653.1C885.0 653.4 885.9 653.8 886.4 653.8C886.9 653.8 887.7 651.5 888.2 651.3C888.9 651.0 890.1 650.8 890.7 650.6C891.6 650.5 893.0 650.0 893.9 650.0C894.2 650.0 894.7 650.0 895.0 650.0C895.8 650.0 897.3 649.1 898.1 649.0C899.1 648.9 900.9 648.8 901.9 648.8C902.9 648.8 904.6 649.8 905.6 649.8C906.6 649.8 908.4 649.5 909.4 649.4C910.2 649.3 911.7 649.0 912.5 649.0C913.3 649.0 914.8 649.5 915.6 649.8C916.5 650.0 917.9 650.6 918.8 650.6C919.6 650.6 921.1 650.3 921.9 650.3C922.9 650.2 924.6 650.0 925.6 650.0C926.6 650.0 928.4 651.0 929.4 651.0C930.2 651.0 931.7 649.8 932.5 649.8C933.4 649.8 934.8 650.6 935.7 650.6C936.5 650.6 937.9 650.0 938.8 650.0C939.8 650.0 941.5 650.2 942.5 650.3C943.5 650.3 945.3 650.6 946.3 650.6C947.3 650.6 949.0 650.6 950.0 650.6C951.0 650.6 952.8 651.3 953.8 651.3C954.6 651.3 956.1 650.0 956.9 650.0C957.8 650.0 959.2 650.0 960.0 650.0C960.9 650.0 962.3 651.0 963.2 651.0C964.2 651.0 965.9 650.3 966.9 650.3C967.8 650.3 969.2 651.1 970.1 651.3C970.9 651.5 972.3 651.9 973.2 651.9C974.0 651.9 975.5 650.6 976.3 650.6C977.3 650.6 979.1 650.6 980.1 650.6C981.1 650.6 982.8 650.5 983.8 650.4C984.8 650.3 986.6 650.0 987.6 650.0C988.6 650.0 990.3 650.3 991.3 650.3C992.3 650.3 994.1 649.8 995.1 649.8C996.1 649.8 997.8 650.0 998.8 650.0C999.8 650.1 1001.6 650.1 1002.6 650.3C1003.0 650.3 1003.7 651.7 1004.1 652.5C1004.4 653.2 1005.0 656.3 1005.3 656.3C1005.7 656.3 1006.2 653.6 1006.6 653.1C1007.0 652.5 1007.8 651.5 1008.2 651.5C1009.0 651.5 1010.5 651.9 1011.3 651.9C1012.2 651.9 1013.6 650.3 1014.5 650.3C1015.5 650.3 1017.2 650.6 1018.2 650.6C1019.1 650.6 1020.5 650.0 1021.3 650.0C1022.2 650.0 1023.6 651.0 1024.5 651.5C1025.0 651.8 1025.8 653.1 1026.3 653.1C1026.8 653.1 1027.7 652.0 1028.2 651.9C1029.1 651.6 1030.5 651.5 1031.3 651.3C1032.4 651.0 1034.1 650.4 1035.1 650.3C1036.1 650.2 1037.9 650.0 1038.9 650.0C1039.9 650.0 1041.6 650.5 1042.6 650.6C1043.6 650.8 1045.4 651.3 1046.4 651.3C1047.4 651.3 1049.1 650.8 1050.1 650.6C1051.1 650.5 1052.9 650.3 1053.9 650.3C1054.2 650.3 1054.7 650.6 1055.0 650.6C1055.7 650.8 1056.8 651.0 1057.5 651.3C1058.2 651.5 1059.3 652.6 1060.0 653.1C1060.7 653.6 1061.8 654.5 1062.5 655.0C1063.2 655.5 1064.3 656.4 1065.0 656.9C1065.7 657.4 1066.8 658.2 1067.5 658.8C1068.1 659.2 1069.2 660.4 1069.8 660.6C1070.3 660.9 1071.3 661.3 1071.9 661.3C1072.4 661.3 1073.3 660.4 1073.8 660.0C1074.3 659.6 1075.1 658.8 1075.6 658.1C1076.1 657.5 1077.0 655.6 1077.5 655.0C1078.0 654.4 1078.9 653.5 1079.4 653.1C1080.1 652.7 1081.2 652.0 1081.9 651.9C1082.7 651.7 1084.2 651.6 1085.0 651.5C1086.0 651.4 1087.8 650.8 1088.8 650.6C1089.8 650.4 1091.5 650.0 1092.5 650.0C1093.5 650.0 1095.3 650.2 1096.3 650.3C1097.3 650.3 1099.0 650.5 1100.0 650.6C1100.9 650.8 1102.3 652.5 1103.2 652.5C1103.7 652.5 1104.5 651.6 1105.0 651.3C1105.7 650.9 1106.9 650.2 1107.5 650.0C1108.5 649.8 1110.3 649.4 1111.3 649.4C1112.3 649.4 1114.0 650.0 1115.0 650.0C1116.0 650.0 1117.8 649.4 1118.8 649.4C1119.8 649.4 1121.5 650.6 1122.5 650.6C1123.5 650.6 1125.3 649.8 1126.3 649.8C1127.3 649.8 1129.1 650.0 1130.1 650.0C1131.1 650.0 1132.8 649.4 1133.8 649.4C1134.6 649.4 1136.1 649.4 1136.9 649.4C1137.4 649.4 1138.3 650.8 1138.8 651.3C1139.3 651.8 1140.2 653.1 1140.7 653.1C1141.2 653.1 1142.1 650.2 1142.6 650.0C1143.6 649.7 1145.3 649.4 1146.3 649.4C1147.3 649.4 1149.1 649.8 1150.1 649.8C1151.1 649.8 1152.8 649.4 1153.8 649.4C1154.8 649.4 1156.6 650.6 1157.6 650.6C1158.4 650.6 1159.9 650.2 1160.7 650.0C1161.5 649.9 1163.0 649.4 1163.8 649.4C1164.8 649.4 1166.6 649.4 1167.6 649.4C1168.6 649.4 1170.3 649.4 1171.3 649.4C1172.0 649.4 1173.2 651.1 1173.8 651.3C1174.7 651.5 1176.1 651.8 1177.0 651.9C1177.8 652.0 1179.3 652.3 1180.1 652.3C1180.6 652.3 1181.5 650.9 1182.0 650.6C1182.6 650.3 1183.8 649.8 1184.5 649.8C1184.9 649.8 1185.7 650.8 1186.1 651.3C1186.4 651.7 1187.0 653.1 1187.3 653.1C1187.8 653.1 1188.4 651.0 1188.8 650.6C1189.5 650.1 1190.7 649.4 1191.3 649.4C1192.4 649.4 1194.1 649.7 1195.1 649.8C1196.1 649.8 1197.9 650.0 1198.9 650.0C1199.9 650.0 1201.6 649.8 1202.6 649.8C1203.6 649.8 1205.4 650.3 1206.4 650.3C1207.4 650.3 1209.1 649.4 1210.1 649.4C1211.1 649.4 1212.9 649.4 1213.9 649.4C1214.5 649.4 1215.7 650.7 1216.4 651.3C1216.7 651.6 1217.3 652.5 1217.6 652.5C1218.1 652.5 1219.0 650.1 1219.5 650.0C1220.2 649.9 1221.3 649.8 1222.0 649.8C1222.8 649.8 1224.2 650.6 1225.0 650.6C1225.9 650.6 1227.3 649.0 1228.2 649.0C1229.0 649.0 1230.4 649.2 1231.3 649.4C1232.3 649.6 1234.0 650.6 1235.0 650.6C1235.9 650.6 1237.3 649.8 1238.2 649.8C1239.2 649.8 1240.9 650.0 1241.9 650.0C1243.1 650.0 1245.1 649.4 1246.3 649.4C1247.3 649.4 1249.0 650.3 1250.0 650.3C1251.0 650.3 1252.8 650.1 1253.8 650.0C1254.8 649.9 1256.5 649.4 1257.5 649.4C1258.9 649.4 1261.2 649.4 1262.6 649.4C1263.9 649.4 1266.2 649.4 1267.6 649.4C1268.9 649.4 1271.2 650.0 1272.6 650.0C1273.9 650.0 1276.2 649.8 1277.6 649.8C1278.9 649.7 1281.2 649.4 1282.6 649.4C1283.9 649.4 1286.2 649.6 1287.6 649.8C1288.6 649.9 1290.3 650.6 1291.3 650.6C1292.3 650.6 1294.1 650.3 1295.1 650.3C1296.4 650.3 1298.8 650.3 1300.1 650.3C1301.4 650.3 1303.8 650.5 1305.1 650.6C1306.4 650.8 1308.8 651.3 1310.1 651.3C1311.4 651.3 1313.8 651.0 1315.1 651.0C1316.4 651.0 1318.8 651.4 1320.1 651.5C1321.4 651.7 1323.8 652.1 1325.1 652.3C1326.1 652.4 1327.9 652.6 1328.9 652.8C1329.7 652.9 1331.2 653.4 1332.0 653.8C1332.4 654.0 1333.2 654.7 1333.6 655.0" stroke="#ff0000" stroke-width="3.2" fill="none" stroke-linejoin="round"/>
<path d="M98.0 656.8C98.2 655.8 98.5 653.2 98.8 653.0C99.4 652.4 100.6 652.0 101.2 652.0C102.3 652.0 104.0 652.0 105.0 652.0C105.5 652.0 106.4 653.0 106.9 653.0C107.5 653.0 108.7 651.1 109.4 651.1C110.1 651.1 111.2 651.5 111.9 651.8C112.7 652.1 114.2 653.2 115.0 653.6C115.7 654.0 116.9 654.4 117.5 654.9C118.0 655.3 118.9 656.8 119.4 657.4C119.7 657.8 120.3 658.6 120.6 658.6C121.0 658.6 121.6 653.9 121.9 653.6C122.2 653.3 122.8 653.0 123.2 653.0C123.4 653.0 123.8 655.8 124.0 657.4C124.3 659.2 124.8 668.0 125.0 668.0C125.3 668.0 125.8 664.7 126.0 663.0C126.3 661.5 126.7 656.3 126.9 655.5C127.1 654.7 127.5 653.6 127.8 653.6C128.1 653.6 128.7 658.8 129.0 659.3C129.5 659.9 130.2 660.5 130.7 660.5C131.0 660.5 131.6 658.1 131.9 657.4C132.2 656.7 132.8 655.6 133.2 654.9C133.4 654.4 133.8 653.0 134.0 653.0C134.2 653.0 134.6 654.6 134.8 655.5C135.0 656.6 135.4 661.8 135.7 661.8C135.9 661.8 136.3 658.6 136.5 658.6C136.7 658.6 137.1 675.0 137.3 675.5C137.5 676.2 137.9 676.8 138.2 676.8C138.4 676.8 138.8 664.8 139.0 661.8C139.2 659.1 139.6 654.4 139.8 653.6C140.0 652.7 140.4 651.7 140.7 651.5C141.2 651.0 142.0 650.5 142.5 650.5C143.2 650.5 144.4 651.3 145.0 651.5C145.7 651.8 146.9 652.0 147.5 652.4C148.0 652.7 148.7 655.5 149.2 655.5C149.6 655.5 150.3 653.0 150.7 652.8C151.2 652.4 152.0 652.1 152.5 652.0C153.9 651.9 156.2 651.8 157.6 651.8C158.6 651.8 160.3 651.9 161.3 652.0C161.6 652.1 162.2 652.5 162.6 653.0C162.8 653.4 163.3 664.1 163.6 668.0C163.9 673.0 164.5 686.2 164.8 686.2C165.1 686.2 165.7 672.0 166.1 668.0C166.4 664.1 167.0 656.3 167.3 655.5C167.7 654.6 168.4 653.8 168.8 653.6C169.5 653.3 170.6 653.3 171.3 653.0C171.8 652.8 172.7 651.8 173.2 651.8C173.5 651.8 174.1 652.1 174.4 652.4C174.7 652.6 175.1 656.5 175.3 658.0C175.6 659.7 176.0 664.3 176.3 664.3C176.6 664.3 177.2 658.4 177.6 657.4C177.9 656.4 178.5 655.5 178.8 654.9C179.1 654.3 179.7 653.4 180.1 653.0C180.4 652.7 181.0 652.0 181.3 652.0C181.6 652.0 182.2 653.6 182.6 653.6C183.0 653.6 183.7 651.8 184.1 651.8C184.5 651.8 185.3 652.5 185.7 652.8C186.2 653.0 187.1 653.6 187.6 653.6C188.1 653.6 188.9 653.0 189.4 653.0C189.8 653.0 190.4 655.4 190.7 656.8C190.9 657.7 191.3 660.4 191.6 661.8C191.8 663.4 192.3 668.0 192.6 668.0C192.9 668.0 193.5 663.7 193.8 661.8C194.1 660.2 194.6 655.7 194.8 654.9C195.1 654.1 195.5 653.0 195.7 653.0C196.0 653.0 196.6 653.3 196.9 653.6C197.3 653.9 197.9 658.1 198.2 659.3C198.5 660.5 199.1 663.0 199.4 663.0C199.8 663.0 200.4 658.1 200.7 657.4C200.9 656.9 201.3 656.1 201.6 656.1C201.9 656.1 202.5 659.3 202.8 659.3C203.2 659.3 203.7 655.5 204.1 654.9C204.5 654.1 205.3 653.1 205.7 653.0C206.2 652.9 207.1 652.9 207.6 652.8C208.2 652.6 209.4 652.0 210.1 652.0C210.6 652.0 211.5 652.0 212.0 652.0C212.3 652.0 212.9 653.8 213.2 654.9C213.5 656.0 214.1 660.3 214.5 661.8C214.8 663.2 215.4 666.1 215.7 666.1C216.1 666.1 216.6 662.9 217.0 661.8C217.3 660.6 217.9 657.7 218.2 657.4C218.6 657.1 219.1 656.8 219.5 656.8C219.8 656.8 220.4 660.2 220.7 661.8C221.1 663.4 221.6 669.3 222.0 669.3C222.2 669.3 222.6 663.6 222.8 661.8C223.1 659.7 223.6 655.5 223.8 654.9C224.1 654.3 224.5 653.6 224.7 653.6C225.0 653.6 225.5 656.2 225.7 658.0C226.1 660.3 226.6 675.9 227.0 680.5C227.4 686.6 228.2 698.7 228.6 698.7C228.9 698.7 229.5 685.5 229.8 680.5C230.2 675.6 230.8 663.3 231.1 661.8C231.3 660.7 231.7 659.3 232.0 659.3C232.3 659.3 232.9 663.2 233.2 665.5C233.6 667.9 234.1 675.5 234.5 680.5C234.8 685.5 235.4 696.6 235.7 705.6C236.3 720.9 237.3 803.1 237.9 803.1C238.4 803.1 239.3 722.8 239.9 705.6C240.2 694.8 240.8 678.1 241.1 674.3C241.7 667.7 242.7 661.6 243.2 659.3C243.6 657.9 244.2 655.5 244.5 655.5C244.8 655.5 245.4 659.0 245.7 661.8C246.0 663.7 246.4 677.3 246.6 680.5C246.9 684.2 247.3 690.5 247.6 690.5C247.9 690.5 248.4 678.2 248.6 674.3C249.0 669.5 249.5 660.0 249.9 658.0C250.3 655.7 251.0 652.4 251.4 652.4C251.7 652.4 252.3 653.1 252.6 653.6C253.0 654.2 253.5 660.1 253.9 661.8C254.2 663.4 254.8 666.8 255.1 666.8C255.4 666.8 255.9 662.1 256.2 660.5C256.6 658.4 257.4 653.0 257.8 653.0C258.2 653.0 258.9 656.2 259.4 658.0C259.8 659.8 260.6 668.0 261.0 668.0C261.3 668.0 261.9 661.4 262.3 659.3C262.6 657.1 263.2 652.0 263.5 651.8C264.1 651.4 265.1 651.1 265.6 651.1C266.1 651.1 267.0 651.4 267.5 651.8C267.8 652.0 268.4 656.1 268.8 657.4C269.1 658.7 269.7 661.8 270.0 661.8C270.3 661.8 270.9 658.3 271.3 657.4C271.8 656.0 272.6 653.0 273.1 653.0C273.6 653.0 274.5 656.1 275.0 657.4C275.7 659.1 276.9 664.3 277.5 664.3C278.0 664.3 278.9 657.4 279.4 657.4C279.7 657.4 280.3 658.5 280.6 659.3C281.0 660.0 281.6 663.8 281.9 665.5C282.3 667.8 283.1 672.2 283.5 674.3C283.9 675.9 284.4 679.9 284.8 679.9C285.1 679.9 285.7 670.6 286.0 666.8C286.3 664.1 286.7 656.0 286.9 655.5C287.2 654.9 287.8 654.3 288.1 654.3C288.5 654.3 289.1 656.4 289.4 657.4C289.7 658.4 290.3 661.8 290.6 661.8C291.2 661.8 292.0 657.4 292.5 657.4C293.2 657.4 294.4 661.9 295.0 663.0C295.5 663.8 296.4 665.5 296.9 665.5C297.4 665.5 298.3 661.8 298.8 661.8C299.3 661.8 300.2 662.4 300.7 663.0C301.2 663.6 302.0 676.4 302.5 680.5C303.2 686.1 304.4 699.0 305.0 699.0C305.4 699.0 306.1 687.3 306.5 683.0C306.8 680.2 307.3 672.4 307.5 672.4C308.0 672.4 308.9 684.9 309.4 684.9C309.8 684.9 310.3 677.2 310.7 674.3C311.0 671.4 311.6 663.0 311.9 663.0C312.4 663.0 313.3 663.7 313.8 664.3C314.3 664.9 315.2 671.3 315.7 674.3C316.3 678.2 317.5 689.9 318.2 691.2C318.6 692.0 319.4 692.2 319.8 693.0C320.4 694.2 321.4 710.6 321.9 710.6C322.4 710.6 323.1 698.4 323.6 693.0C323.9 689.0 324.5 677.0 324.8 675.5C325.2 673.8 325.9 671.8 326.3 671.8C326.6 671.8 327.2 681.7 327.6 685.5C328.1 692.1 329.1 711.8 329.7 711.8C330.0 711.8 330.7 699.0 331.1 693.0C331.4 687.6 332.0 672.3 332.3 668.0C332.7 662.9 333.4 654.3 333.8 654.3C334.1 654.3 334.7 658.9 335.1 661.8C335.6 666.2 336.4 696.2 336.9 696.2C337.4 696.2 338.1 674.0 338.6 668.0C338.9 663.5 339.5 653.6 339.8 653.6C340.2 653.6 340.9 658.5 341.3 661.8C341.6 664.5 342.2 677.1 342.6 680.5C343.0 684.6 343.7 692.0 344.1 692.0C344.4 692.0 345.0 684.2 345.3 680.5C345.8 675.7 346.5 658.2 346.9 657.4C347.4 656.4 348.3 656.0 348.8 655.5C349.7 654.7 351.1 652.8 351.9 652.8C352.8 652.8 354.2 653.6 355.1 654.3C355.6 654.7 356.5 658.6 356.9 658.6C357.3 658.6 357.9 654.1 358.2 653.6C359.0 652.4 360.5 651.1 361.3 651.1C362.2 651.1 363.6 651.7 364.5 652.4C364.8 652.7 365.4 659.3 365.7 661.8C366.1 665.0 366.9 673.7 367.3 673.7C367.7 673.7 368.4 670.1 368.8 668.0C369.2 666.3 369.8 658.8 370.1 657.4C370.6 655.3 371.5 652.4 372.0 652.4C372.6 652.4 373.8 654.4 374.5 655.5C375.0 656.4 375.8 660.5 376.3 660.5C377.0 660.5 378.2 658.3 378.8 657.4C379.3 656.8 380.2 655.5 380.7 654.9C381.2 654.3 382.1 652.8 382.6 652.8C383.3 652.8 384.4 655.2 385.1 655.5C385.6 655.8 386.5 655.8 387.0 656.1C387.3 656.4 387.9 662.3 388.2 664.3C388.7 666.8 389.4 673.0 389.9 673.0C390.2 673.0 391.0 662.7 391.4 661.8C391.7 661.0 392.3 659.9 392.6 659.9C393.1 659.9 394.0 660.5 394.5 660.5C395.0 660.5 395.9 657.6 396.4 657.4C397.0 657.1 398.2 657.0 398.9 656.8C399.4 656.6 400.2 655.5 400.7 655.5C401.2 655.5 402.1 656.9 402.6 657.4C403.1 657.9 404.0 659.3 404.5 659.3C405.0 659.3 405.9 653.6 406.4 653.6C407.2 653.6 408.7 653.6 409.5 653.6C410.2 653.6 411.3 659.3 412.0 659.3C412.5 659.3 413.4 655.1 413.9 654.9C414.7 654.6 416.2 654.3 417.0 654.3C417.3 654.3 417.9 658.5 418.2 661.8C418.6 665.0 419.2 685.7 419.5 693.0C419.8 700.4 420.4 717.4 420.8 717.4C421.1 717.4 421.7 707.4 422.0 705.6C422.3 703.7 422.9 702.7 423.2 700.5C423.6 698.4 424.2 685.4 424.5 680.5C424.8 676.2 425.3 665.5 425.6 665.5C425.9 665.5 426.3 671.2 426.5 674.3C426.8 677.8 427.2 693.7 427.5 693.7C427.8 693.7 428.2 678.4 428.5 674.3C428.8 669.2 429.4 658.6 429.8 658.6C430.1 658.6 430.7 662.6 431.0 664.3C431.3 666.0 431.9 671.8 432.3 671.8C432.6 671.8 433.2 669.3 433.5 669.3C433.8 669.3 434.4 679.0 434.8 680.5C435.1 682.0 435.7 683.1 436.0 684.3C436.4 685.7 437.1 688.6 437.5 690.5C437.9 692.1 438.4 697.4 438.8 697.4C439.1 697.4 439.7 692.8 440.0 691.8C440.5 690.2 441.4 688.6 441.9 687.4C442.2 686.6 442.8 684.3 443.1 684.3C443.4 684.3 443.8 688.0 444.0 688.0C444.5 688.0 445.2 674.3 445.6 674.3C446.0 674.3 446.6 678.4 446.9 680.5C447.3 683.3 448.1 691.3 448.5 695.5C449.0 700.4 449.9 714.9 450.4 714.9C450.8 714.9 451.5 711.3 451.9 709.3C452.2 707.7 452.8 703.5 453.1 700.5C453.6 696.7 454.3 685.5 454.8 680.5C455.2 675.2 456.1 661.8 456.5 661.8C457.0 661.8 457.7 683.0 458.2 683.0C458.6 683.0 459.3 667.4 459.8 667.4C460.4 667.4 461.6 682.4 462.3 682.4C462.9 682.4 463.8 665.5 464.4 665.5C464.8 665.5 465.6 668.0 466.0 668.0C466.4 668.0 467.1 657.4 467.5 657.4C467.9 657.4 468.6 660.8 469.0 663.0C469.3 664.5 469.8 671.0 470.0 673.0C470.4 675.6 471.0 678.0 471.3 680.5C471.6 682.6 472.0 687.4 472.3 690.5C472.6 694.1 473.1 707.4 473.4 707.4C473.7 707.4 474.2 697.6 474.4 693.0C474.7 689.0 475.1 674.3 475.3 674.3C475.6 674.3 476.2 676.5 476.6 678.0C476.9 679.8 477.6 693.7 477.9 693.7C478.2 693.7 478.6 690.5 478.8 690.5C479.1 690.5 479.5 708.3 479.8 718.1C480.3 735.2 481.1 825.3 481.6 825.3C482.0 825.3 482.8 737.5 483.3 718.1C483.5 709.8 483.9 698.8 484.1 693.0C484.2 687.3 484.6 674.3 484.8 674.3C485.0 674.3 485.4 676.5 485.7 678.0C485.8 679.1 486.1 685.5 486.3 685.5C486.6 685.5 487.0 671.6 487.3 668.0C487.7 662.7 488.4 652.8 488.8 652.4C489.1 652.1 489.7 651.8 490.1 651.8C490.5 651.8 491.2 656.2 491.6 657.4C491.9 658.4 492.5 659.8 492.8 660.5C493.1 661.3 493.7 663.0 494.1 663.0C494.5 663.0 495.3 656.7 495.7 655.5C496.0 654.6 496.6 653.0 496.9 653.0C497.4 653.0 498.3 663.6 498.8 663.6C499.3 663.6 500.2 656.6 500.7 655.5C501.0 654.8 501.6 653.6 501.9 653.6C502.4 653.6 503.3 657.4 503.8 657.4C504.3 657.4 505.2 653.7 505.7 653.0C506.2 652.3 507.1 651.1 507.6 651.1C508.2 651.1 509.4 651.9 510.1 652.4C510.6 652.8 511.4 655.5 511.9 655.5C512.4 655.5 513.3 653.2 513.8 653.0C514.5 652.7 515.7 652.4 516.3 652.4C516.8 652.4 517.7 654.3 518.2 654.3C518.9 654.3 520.0 653.6 520.7 653.6C521.0 653.6 521.6 656.8 522.0 656.8C522.5 656.8 523.3 655.5 523.8 655.5C524.2 655.5 524.9 663.6 525.3 663.6C525.8 663.6 526.5 656.9 527.0 655.5C527.3 654.4 527.9 652.6 528.2 652.4C528.9 652.1 530.0 651.8 530.7 651.8C531.5 651.8 533.0 653.0 533.8 653.0C534.7 653.0 536.1 651.1 537.0 651.1C537.8 651.1 539.3 651.1 540.1 651.1C540.8 651.1 541.9 653.0 542.6 653.0C543.3 653.0 544.4 652.8 545.1 652.8C545.8 652.8 546.9 653.6 547.6 653.6C548.3 653.6 549.4 653.0 550.1 653.0C550.8 653.0 551.9 655.5 552.6 655.5C553.3 655.5 554.4 652.4 555.1 652.4C555.9 652.4 557.4 653.0 558.2 653.0C559.1 653.0 560.5 651.4 561.4 651.1C562.4 650.9 564.1 650.5 565.1 650.5C566.1 650.5 567.9 650.9 568.9 651.1C569.7 651.3 571.2 652.0 572.0 652.4C572.7 652.7 573.8 653.6 574.5 653.6C574.6 653.6 574.9 653.2 575.0 653.0C575.7 652.4 576.8 651.1 577.5 651.1C578.2 651.1 579.3 652.6 580.0 653.0C580.7 653.4 581.8 654.3 582.5 654.3C583.2 654.3 584.3 653.0 585.0 652.8C585.7 652.5 586.8 652.0 587.5 652.0C588.2 652.0 589.3 653.0 590.0 653.0C590.7 653.0 591.8 652.4 592.5 652.4C593.2 652.4 594.4 652.6 595.0 652.8C595.5 652.9 596.4 653.3 596.9 653.6C597.4 654.0 598.3 656.1 598.8 656.1C599.3 656.1 600.1 655.2 600.6 654.9C601.3 654.4 602.5 653.0 603.1 653.0C603.8 653.0 605.0 654.9 605.6 654.9C606.3 654.9 607.5 653.9 608.1 653.6C608.8 653.4 610.0 653.0 610.6 653.0C611.2 653.0 612.0 654.9 612.5 654.9C613.2 654.9 614.4 653.0 615.0 653.0C615.7 653.0 616.9 653.5 617.5 653.6C618.2 653.8 619.4 654.3 620.0 654.3C620.7 654.3 621.9 653.4 622.5 653.0C623.2 652.7 624.4 651.8 625.0 651.8C625.7 651.8 626.9 652.6 627.5 653.0C628.0 653.4 628.9 654.5 629.4 654.9C629.9 655.3 630.8 656.1 631.3 656.1C631.8 656.1 632.7 653.4 633.2 653.0C633.8 652.5 635.0 652.1 635.7 651.8C636.5 651.4 638.0 650.5 638.8 650.5C639.3 650.5 640.2 652.3 640.7 653.0C641.2 653.8 642.0 656.1 642.5 656.1C643.1 656.1 643.9 653.3 644.4 653.0C644.9 652.7 645.8 652.4 646.3 652.4C646.8 652.4 647.7 655.5 648.2 655.5C648.6 655.5 649.4 654.9 649.8 654.9C650.1 654.9 650.7 659.1 651.1 661.8C651.4 664.5 652.0 676.2 652.3 680.5C652.7 685.3 653.3 696.2 653.7 696.2C654.0 696.2 654.5 685.6 654.8 680.5C655.0 676.6 655.5 663.2 655.7 661.8C655.9 660.3 656.3 658.6 656.6 658.6C656.8 658.6 657.3 660.4 657.6 661.8C657.9 663.5 658.5 676.5 658.8 680.5C659.1 684.5 659.7 690.1 660.1 693.0C660.3 695.4 660.8 701.2 661.1 701.2C661.4 701.2 662.0 684.7 662.3 680.5C662.7 675.5 663.4 667.7 663.8 665.5C664.2 663.3 664.9 659.9 665.3 659.9C665.8 659.9 666.5 661.1 666.9 661.1C667.4 661.1 668.1 660.4 668.6 659.9C669.0 659.4 669.7 656.1 670.1 655.5C670.6 654.8 671.4 653.8 672.0 653.6C672.6 653.4 673.8 653.0 674.5 653.0C675.1 653.0 676.3 653.4 677.0 653.6C677.5 653.8 678.3 654.3 678.8 654.3C679.4 654.3 680.5 650.5 681.1 650.5C681.5 650.5 682.4 655.5 682.8 655.5C683.3 655.5 684.0 654.9 684.5 654.9C684.9 654.9 685.6 657.5 686.1 658.6C686.5 659.7 687.2 663.0 687.6 663.0C688.0 663.0 688.7 658.8 689.1 657.4C689.5 655.9 690.3 652.4 690.7 652.4C691.2 652.4 692.1 653.0 692.6 653.0C693.1 653.0 694.0 652.4 694.5 652.4C694.8 652.4 695.4 653.5 695.7 654.3C696.1 655.1 696.6 659.0 697.0 661.8C697.2 664.0 697.7 671.5 698.0 674.3C698.2 676.7 698.6 682.0 698.8 682.0C699.1 682.0 699.6 676.8 699.8 674.3C700.1 671.7 700.6 664.0 700.8 661.8C701.1 659.3 701.7 655.6 702.0 654.9C702.5 653.7 703.3 652.4 703.9 652.4C704.3 652.4 705.2 654.7 705.7 655.5C706.1 656.0 706.6 656.9 707.0 657.4C707.5 658.1 708.3 659.9 708.9 659.9C709.4 659.9 710.2 656.8 710.7 656.8C711.2 656.8 712.1 657.4 712.6 657.4C713.1 657.4 714.0 653.7 714.5 653.0C715.1 652.1 716.3 650.5 717.0 650.5C717.5 650.5 718.4 650.8 718.9 651.1C719.4 651.4 720.2 654.4 720.7 657.4C721.1 659.4 721.7 674.0 722.0 680.5C722.5 690.2 723.4 719.1 723.9 719.1C724.3 719.1 725.1 689.4 725.5 680.5C725.8 673.8 726.4 659.9 726.7 658.0C727.1 655.7 727.8 653.0 728.2 653.0C728.9 653.0 730.1 653.6 730.7 653.6C731.6 653.6 733.0 652.4 733.9 652.4C734.2 652.4 734.7 652.4 735.0 652.4C735.7 652.4 736.8 651.8 737.5 651.8C738.2 651.8 739.3 653.0 740.0 653.0C740.7 653.0 741.8 653.0 742.5 653.0C742.9 653.0 743.6 654.3 744.0 655.5C744.3 656.3 744.7 663.6 745.0 668.0C745.3 673.5 745.9 692.5 746.3 699.3C746.6 706.8 747.3 722.8 747.6 722.8C747.9 722.8 748.5 706.9 748.8 699.3C749.0 692.6 749.5 672.2 749.8 668.0C750.0 664.3 750.4 658.6 750.6 658.6C750.9 658.6 751.3 664.6 751.5 668.0C751.8 672.0 752.2 687.3 752.5 693.0C752.7 698.1 753.2 709.9 753.4 709.9C753.7 709.9 754.1 696.7 754.4 693.0C754.6 689.9 755.0 683.0 755.3 683.0C755.5 683.0 756.0 683.7 756.3 683.7C756.5 683.7 757.0 664.7 757.3 661.8C757.6 658.2 758.2 653.5 758.5 653.0C758.9 652.4 759.6 651.8 760.0 651.8C760.5 651.8 761.4 653.1 761.9 654.3C762.2 655.0 762.8 659.3 763.1 661.8C763.6 664.9 764.3 677.0 764.8 677.0C765.2 677.0 765.9 664.8 766.3 661.8C766.5 659.7 767.0 655.5 767.3 655.5C767.7 655.5 768.4 657.4 768.8 657.4C769.3 657.4 770.2 655.3 770.6 654.9C771.2 654.4 772.0 653.6 772.5 653.6C773.2 653.6 774.4 654.9 775.0 654.9C775.9 654.9 777.3 653.6 778.2 653.6C778.8 653.6 780.0 654.6 780.7 655.5C781.0 656.0 781.6 659.5 781.9 661.8C782.2 664.0 782.8 671.3 783.2 674.3C783.4 676.7 783.9 682.4 784.2 682.4C784.5 682.4 785.0 671.8 785.3 668.0C785.6 664.7 786.0 656.7 786.3 655.5C786.6 654.1 787.2 652.7 787.5 652.4C788.2 651.8 789.4 651.1 790.0 651.1C790.7 651.1 791.9 652.8 792.5 653.0C793.2 653.3 794.4 653.4 795.0 653.6C795.7 653.9 796.9 654.9 797.5 654.9C798.0 654.9 798.9 654.3 799.4 654.3C799.9 654.3 800.6 657.4 801.0 657.4C801.4 657.4 802.1 654.3 802.5 654.3C803.1 654.3 803.9 658.5 804.4 659.9C804.9 661.1 805.6 664.3 806.0 664.3C806.4 664.3 807.1 657.4 807.5 657.4C807.9 657.4 808.5 657.7 808.8 658.0C809.1 658.3 809.5 670.4 809.8 674.3C810.1 679.1 810.7 687.1 811.1 690.5C811.3 692.9 811.7 698.0 811.9 698.0C812.2 698.0 812.6 690.3 812.8 686.8C813.1 682.7 813.5 669.8 813.8 668.0C814.1 665.8 814.7 664.2 815.1 663.0C815.6 661.3 816.4 658.3 816.9 657.4C817.4 656.5 818.3 655.3 818.8 654.9C819.5 654.4 820.6 653.6 821.3 653.6C822.0 653.6 823.2 654.4 823.8 654.9C824.3 655.3 825.2 656.3 825.7 657.4C826.0 658.1 826.6 661.7 826.9 663.0C827.2 663.9 827.6 666.1 827.8 666.1C828.2 666.1 828.7 659.5 829.1 658.0C829.5 656.0 830.3 652.9 830.7 652.4C831.2 651.8 832.1 651.1 832.6 651.1C833.1 651.1 833.9 651.5 834.5 651.8C834.9 652.0 835.6 653.4 836.1 654.3C836.5 655.1 837.2 658.6 837.6 658.6C838.0 658.6 838.7 655.7 839.1 654.9C839.5 654.1 840.3 652.5 840.7 652.4C841.4 652.2 842.5 652.1 843.2 652.0C844.0 651.9 845.5 651.8 846.3 651.8C847.0 651.8 848.2 652.4 848.8 652.4C849.5 652.4 850.7 651.8 851.3 651.8C851.8 651.8 852.7 654.3 853.2 654.3C853.7 654.3 854.6 652.4 855.1 652.4C855.8 652.4 856.9 652.8 857.6 652.8C858.3 652.8 859.4 651.8 860.1 651.8C860.8 651.8 861.9 652.1 862.6 652.4C863.3 652.7 864.4 655.4 865.1 656.1C865.4 656.5 866.0 657.4 866.4 657.4C866.8 657.4 867.7 654.7 868.2 654.3C868.7 653.8 869.6 653.0 870.1 653.0C870.8 653.0 871.9 653.5 872.6 653.6C873.3 653.8 874.4 654.3 875.1 654.3C875.8 654.3 876.9 652.4 877.6 652.4C878.1 652.4 879.0 653.0 879.5 653.6C879.8 654.0 880.4 658.5 880.7 659.3C881.1 660.0 881.7 661.1 882.0 661.1C882.3 661.1 882.9 656.1 883.2 655.5C883.7 654.7 884.6 653.6 885.1 653.6C885.8 653.6 886.9 654.0 887.6 654.3C888.3 654.6 889.5 657.4 890.1 657.4C890.6 657.4 891.5 655.1 892.0 654.9C892.7 654.6 893.8 654.6 894.5 654.3C894.6 654.2 894.9 653.7 895.0 653.6C895.7 653.3 896.8 653.0 897.5 653.0C898.2 653.0 899.3 653.3 900.0 653.6C900.5 653.9 901.4 657.7 901.9 659.3C902.3 660.6 903.1 664.3 903.5 664.3C903.9 664.3 904.6 659.2 905.0 658.6C905.4 658.1 906.1 657.4 906.5 657.4C906.8 657.4 907.4 661.7 907.8 663.0C908.2 664.7 908.9 668.6 909.3 668.6C909.6 668.6 910.3 662.4 910.6 660.5C911.0 658.8 911.6 655.3 911.9 654.9C912.4 654.3 913.3 653.6 913.8 653.6C914.4 653.6 915.6 654.9 916.3 654.9C916.9 654.9 918.1 653.6 918.8 653.6C919.4 653.6 920.6 654.8 921.3 655.5C921.8 656.1 922.6 659.3 923.1 659.3C923.6 659.3 924.5 658.2 925.0 657.4C925.4 656.9 925.9 653.4 926.3 653.0C926.8 652.4 927.6 651.8 928.1 651.8C928.8 651.8 930.0 653.6 930.6 653.6C931.3 653.6 932.5 652.8 933.1 652.4C933.7 652.1 934.5 651.1 935.0 651.1C935.5 651.1 936.4 654.6 936.9 656.1C937.2 657.2 937.8 659.5 938.2 660.5C938.6 661.8 939.3 664.5 939.8 664.5C940.2 664.5 940.9 660.9 941.3 659.9C941.8 658.7 942.7 656.4 943.2 656.1C943.7 655.9 944.5 655.5 945.0 655.5C945.5 655.5 946.4 656.1 946.9 656.1C947.4 656.1 948.3 654.1 948.8 653.6C949.5 653.0 950.6 651.8 951.3 651.8C951.8 651.8 952.7 654.3 953.2 654.3C953.7 654.3 954.5 653.6 955.0 653.6C955.7 653.6 956.9 654.3 957.5 654.3C958.2 654.3 959.4 653.4 960.0 653.0C960.7 652.6 961.9 651.1 962.5 651.1C962.9 651.1 963.5 654.1 963.8 655.5C964.1 656.6 964.5 659.5 964.8 660.5C965.1 661.8 965.7 664.3 966.0 664.3C966.4 664.3 967.1 659.3 967.5 659.3C967.9 659.3 968.5 661.0 968.8 661.8C969.1 662.6 969.7 665.5 970.1 665.5C970.5 665.5 971.2 660.5 971.6 660.5C972.0 660.5 972.7 661.8 973.2 661.8C973.7 661.8 974.6 661.1 975.1 661.1C975.5 661.1 976.2 667.8 976.6 667.8C977.0 667.8 977.8 662.2 978.2 660.5C978.5 659.2 979.1 656.1 979.4 656.1C979.9 656.1 980.8 656.9 981.3 657.4C981.8 657.9 982.7 659.6 983.2 660.5C983.6 661.3 984.3 663.6 984.7 663.6C985.1 663.6 985.9 659.0 986.3 658.0C986.7 657.1 987.4 656.1 987.8 655.5C988.3 654.9 989.0 653.6 989.5 653.6C989.9 653.6 990.8 656.4 991.3 657.4C991.8 658.4 992.7 661.1 993.2 661.1C993.6 661.1 994.4 656.6 994.8 655.5C995.2 654.7 995.7 653.0 996.1 653.0C996.4 653.0 997.0 659.0 997.3 661.8C997.7 664.5 998.2 672.4 998.6 674.3C998.9 675.9 999.4 678.7 999.7 678.7C1000.1 678.7 1000.7 671.2 1001.1 668.0C1001.4 665.1 1002.0 656.5 1002.3 655.5C1002.7 654.4 1003.4 653.0 1003.8 653.0C1004.5 653.0 1005.7 653.4 1006.3 653.6C1006.8 653.8 1007.7 654.8 1008.2 655.5C1008.6 656.2 1009.4 660.5 1009.8 660.5C1010.2 660.5 1010.9 657.2 1011.3 656.8C1011.8 656.2 1012.7 655.5 1013.2 655.5C1013.6 655.5 1014.4 658.1 1014.8 659.3C1015.2 660.4 1015.9 663.3 1016.3 664.3C1016.7 665.1 1017.3 666.8 1017.6 666.8C1018.0 666.8 1018.7 663.2 1019.1 661.8C1019.5 660.2 1020.3 655.9 1020.7 655.5C1021.1 655.2 1021.6 654.9 1022.0 654.9C1022.3 654.9 1022.9 658.3 1023.2 659.3C1023.5 660.0 1024.0 661.8 1024.2 661.8C1024.6 661.8 1025.3 658.4 1025.7 657.4C1026.2 656.2 1027.1 653.9 1027.6 653.6C1028.1 653.4 1029.0 653.0 1029.5 653.0C1030.0 653.0 1030.9 654.7 1031.3 655.5C1031.9 656.3 1032.7 658.1 1033.2 659.3C1033.7 660.4 1034.6 664.3 1035.1 664.3C1035.4 664.3 1036.0 663.6 1036.4 663.6C1036.7 663.6 1037.3 670.8 1037.6 670.8C1038.0 670.8 1038.7 664.5 1039.1 663.0C1039.4 661.8 1040.0 659.3 1040.4 659.3C1040.8 659.3 1041.6 660.5 1042.0 660.5C1042.5 660.5 1043.4 656.5 1043.9 655.5C1044.4 654.5 1045.2 652.4 1045.7 652.4C1046.2 652.4 1047.1 653.6 1047.6 654.3C1048.1 654.9 1049.0 656.4 1049.5 657.4C1050.0 658.4 1050.9 661.2 1051.4 661.8C1051.8 662.3 1052.5 663.0 1052.9 663.0C1053.3 663.0 1054.1 659.8 1054.5 658.6C1054.6 658.3 1054.9 657.7 1055.0 657.4C1055.5 656.2 1056.4 653.0 1056.9 653.0C1057.4 653.0 1058.3 655.5 1058.8 655.5C1059.3 655.5 1060.1 652.8 1060.6 652.8C1061.1 652.8 1062.0 654.3 1062.5 654.9C1063.0 655.5 1063.9 657.4 1064.4 657.4C1064.7 657.4 1065.3 654.8 1065.6 654.3C1066.1 653.5 1067.0 652.4 1067.5 652.4C1068.1 652.4 1069.2 656.5 1069.8 657.4C1070.2 658.1 1071.0 659.3 1071.5 659.3C1072.0 659.3 1073.0 655.1 1073.5 654.3C1073.9 653.6 1074.6 652.4 1075.0 652.4C1075.5 652.4 1076.4 653.6 1076.9 653.6C1077.4 653.6 1078.3 652.6 1078.8 652.4C1079.4 652.1 1080.6 651.5 1081.3 651.5C1081.8 651.5 1082.6 653.6 1083.2 654.9C1083.5 655.7 1084.1 659.2 1084.4 659.9C1084.7 660.6 1085.3 661.8 1085.7 661.8C1086.0 661.8 1086.6 658.6 1086.9 657.4C1087.2 656.2 1087.8 653.6 1088.2 653.0C1088.7 652.2 1089.5 651.1 1090.0 651.1C1090.5 651.1 1091.4 652.0 1091.9 652.4C1092.4 652.8 1093.3 653.6 1093.8 654.3C1094.3 654.9 1095.2 657.4 1095.7 657.4C1096.2 657.4 1097.0 654.1 1097.5 653.6C1098.0 653.1 1098.9 652.5 1099.4 652.4C1099.9 652.2 1100.8 652.0 1101.3 652.0C1101.8 652.0 1102.7 654.2 1103.2 654.9C1103.7 655.6 1104.5 657.4 1105.0 657.4C1105.5 657.4 1106.4 653.6 1106.9 653.6C1107.3 653.6 1108.1 656.2 1108.5 657.4C1108.9 658.5 1109.6 662.4 1110.0 662.4C1110.4 662.4 1111.1 659.1 1111.5 658.0C1111.9 657.1 1112.5 655.2 1112.8 654.9C1113.3 654.3 1114.3 653.9 1114.8 653.6C1115.4 653.4 1116.4 653.0 1116.9 653.0C1117.6 653.0 1118.8 653.6 1119.4 653.6C1120.1 653.6 1121.3 652.4 1121.9 652.4C1122.6 652.4 1123.8 652.7 1124.4 653.0C1124.9 653.3 1125.8 656.4 1126.3 656.8C1126.6 657.0 1127.2 657.4 1127.5 657.4C1128.1 657.4 1128.9 654.4 1129.4 653.6C1129.9 652.8 1130.8 651.1 1131.3 651.1C1131.8 651.1 1132.7 653.0 1133.2 653.0C1133.7 653.0 1134.6 652.4 1135.1 652.4C1135.7 652.4 1136.9 653.2 1137.6 653.6C1138.1 654.0 1138.9 655.0 1139.4 655.5C1139.9 656.0 1140.8 657.1 1141.3 657.4C1141.6 657.6 1142.2 657.8 1142.6 658.0C1143.0 658.3 1143.7 660.5 1144.1 660.5C1144.4 660.5 1145.0 658.2 1145.3 657.4C1145.8 656.4 1146.5 654.1 1146.9 653.6C1147.4 653.1 1148.3 652.4 1148.8 652.4C1149.5 652.4 1150.7 653.0 1151.3 653.0C1152.0 653.0 1153.2 651.8 1153.8 651.8C1154.5 651.8 1155.7 652.2 1156.3 652.4C1157.0 652.6 1158.2 653.6 1158.8 653.6C1159.4 653.6 1160.5 653.6 1161.1 653.6C1161.5 653.6 1162.2 656.3 1162.6 657.4C1162.9 658.3 1163.5 660.4 1163.8 661.1C1164.2 661.9 1164.7 663.3 1165.1 663.3C1165.5 663.3 1166.2 658.3 1166.6 657.4C1167.0 656.4 1167.8 655.4 1168.2 654.9C1168.7 654.3 1169.6 653.2 1170.1 653.0C1170.8 652.7 1171.9 652.4 1172.6 652.4C1173.3 652.4 1174.4 653.6 1175.1 653.6C1175.8 653.6 1176.9 653.0 1177.6 653.0C1178.3 653.0 1179.4 653.9 1180.1 654.9C1180.4 655.4 1181.0 663.5 1181.3 668.0C1181.6 671.7 1182.1 682.6 1182.3 686.8C1182.6 690.9 1183.1 700.2 1183.3 700.2C1183.6 700.2 1184.2 690.8 1184.5 686.8C1184.8 682.4 1185.4 671.6 1185.7 668.0C1186.1 664.4 1186.6 658.7 1187.0 657.4C1187.5 655.5 1188.3 653.3 1188.8 653.0C1189.5 652.7 1190.7 652.4 1191.3 652.4C1191.9 652.4 1192.7 653.1 1193.2 653.6C1193.6 654.0 1194.1 656.3 1194.5 657.4C1194.8 658.5 1195.4 660.7 1195.7 661.8C1196.1 662.8 1196.6 665.3 1197.0 665.3C1197.4 665.3 1198.2 662.1 1198.6 661.1C1199.0 660.2 1199.7 658.8 1200.1 658.0C1200.6 657.1 1201.5 655.4 1202.0 654.9C1202.7 654.2 1203.8 653.3 1204.5 653.0C1205.0 652.8 1205.9 652.4 1206.4 652.4C1206.7 652.4 1207.3 657.9 1207.6 661.8C1207.9 665.6 1208.5 687.1 1208.9 693.0C1209.3 700.2 1210.0 713.7 1210.4 713.7C1210.6 713.7 1211.1 693.7 1211.4 686.8C1211.6 679.9 1212.1 665.2 1212.4 661.8C1212.5 659.6 1212.8 656.1 1213.0 656.1C1213.2 656.1 1213.6 663.0 1213.9 665.5C1214.1 668.4 1214.6 675.6 1214.9 676.8C1215.1 677.8 1215.5 678.1 1215.8 679.3C1216.0 680.5 1216.4 693.7 1216.6 699.3C1216.9 705.8 1217.4 725.2 1217.6 725.2C1217.9 725.2 1218.4 707.3 1218.6 699.3C1218.9 692.2 1219.3 673.0 1219.5 668.0C1219.7 663.1 1220.1 655.3 1220.4 654.9C1220.8 654.2 1221.6 653.6 1222.0 653.6C1222.5 653.6 1223.4 655.5 1223.9 655.5C1224.2 655.5 1224.7 654.3 1225.0 654.3C1225.4 654.3 1225.9 658.9 1226.3 660.5C1226.6 662.1 1227.2 666.1 1227.5 666.1C1227.9 666.1 1228.4 662.1 1228.8 660.5C1229.1 658.9 1229.7 654.9 1230.0 654.3C1230.5 653.4 1231.4 652.4 1231.9 652.4C1232.4 652.4 1233.3 652.8 1233.8 653.0C1234.3 653.3 1235.2 655.2 1235.7 655.5C1236.0 655.8 1236.6 656.1 1236.9 656.1C1237.4 656.1 1238.3 653.9 1238.8 653.6C1239.3 653.4 1240.2 653.0 1240.7 653.0C1241.0 653.0 1241.6 656.0 1241.9 657.4C1242.3 658.8 1242.8 662.6 1243.2 663.6C1243.5 664.7 1244.1 666.4 1244.4 666.4C1244.8 666.4 1245.3 663.2 1245.7 661.8C1246.0 660.4 1246.6 656.5 1246.9 655.5C1247.3 654.6 1247.8 653.0 1248.2 653.0C1248.5 653.0 1249.1 657.7 1249.4 659.3C1249.9 661.4 1250.6 666.8 1251.0 666.8C1251.4 666.8 1252.0 661.0 1252.3 659.3C1252.6 657.6 1253.2 654.3 1253.5 653.6C1254.0 652.8 1254.6 651.8 1255.0 651.8C1255.5 651.8 1256.1 654.1 1256.5 655.5C1256.9 656.7 1257.5 661.5 1257.8 663.0C1258.2 665.0 1259.0 669.0 1259.4 669.0C1259.8 669.0 1260.3 667.5 1260.7 666.8C1261.0 666.0 1261.6 664.4 1261.9 663.0C1262.3 661.7 1262.8 655.5 1263.2 655.5C1263.4 655.5 1263.8 665.5 1264.1 668.0C1264.5 672.8 1265.3 681.8 1265.7 681.8C1266.0 681.8 1266.6 676.8 1266.9 674.3C1267.3 671.8 1267.9 664.4 1268.2 661.8C1268.5 659.1 1269.1 654.1 1269.4 653.6C1269.9 653.0 1270.8 652.4 1271.3 652.4C1271.8 652.4 1272.7 655.6 1273.2 656.1C1273.7 656.6 1274.6 657.4 1275.1 657.4C1275.6 657.4 1276.4 655.2 1276.9 654.3C1277.4 653.4 1278.3 650.8 1278.8 650.5C1279.3 650.2 1280.2 649.9 1280.7 649.9C1281.2 649.9 1282.1 651.5 1282.6 651.8C1283.1 652.0 1283.9 652.4 1284.5 652.4C1285.0 652.4 1285.8 650.5 1286.3 650.5C1286.8 650.5 1287.7 650.5 1288.2 650.5C1288.9 650.5 1290.0 653.1 1290.7 653.6C1291.2 654.1 1292.1 654.4 1292.6 654.9C1293.1 655.4 1294.0 657.3 1294.5 659.3C1294.8 660.6 1295.4 669.2 1295.7 671.8C1296.0 673.9 1296.4 678.3 1296.7 678.3C1297.0 678.3 1297.5 671.2 1297.8 668.0C1298.1 665.2 1298.6 656.7 1298.8 655.5C1299.2 654.1 1299.8 652.4 1300.1 652.4C1300.8 652.4 1301.9 653.6 1302.6 653.6C1303.3 653.6 1304.4 653.3 1305.1 653.0C1305.6 652.8 1306.5 651.8 1307.0 651.8C1307.5 651.8 1308.3 653.2 1308.8 653.6C1309.3 654.0 1310.2 654.9 1310.7 654.9C1311.2 654.9 1312.1 653.0 1312.6 653.0C1313.3 653.0 1314.4 653.9 1315.1 654.3C1315.6 654.6 1316.5 654.9 1317.0 655.5C1317.3 655.9 1317.9 659.7 1318.2 659.9C1318.7 660.2 1319.6 660.3 1320.1 660.5C1320.5 660.7 1321.2 662.4 1321.6 662.4C1322.0 662.4 1322.8 658.8 1323.2 657.4C1323.6 656.3 1324.1 653.0 1324.5 653.0C1325.0 653.0 1325.9 653.0 1326.4 653.0C1326.9 653.0 1327.7 655.1 1328.2 655.5C1328.7 656.0 1329.6 656.8 1330.1 656.8C1330.6 656.8 1331.5 652.4 1332.0 652.4C1332.4 652.4 1333.2 652.9 1333.6 653.0" stroke="#ff00ff" stroke-width="1.35" fill="none" stroke-linejoin="round"/>
<path d="M98.0 671.2C98.7 668.3 99.9 662.0 100.6 660.5C101.2 659.3 102.2 657.4 102.8 657.4C103.2 657.4 103.9 660.7 104.4 661.8C105.0 663.4 106.2 667.4 106.9 667.4C107.4 667.4 108.3 663.0 108.8 663.0C109.1 663.0 109.7 663.6 110.0 663.6C110.4 663.6 111.2 657.0 111.6 657.0C112.2 657.0 113.2 658.9 113.8 659.9C114.4 661.0 115.6 665.5 116.3 665.5C116.8 665.5 117.6 659.9 118.1 659.9C118.6 659.9 119.5 660.5 120.0 660.5C120.5 660.5 121.4 660.5 121.9 660.5C122.5 660.5 123.5 658.6 124.0 658.6C124.4 658.6 124.9 662.8 125.3 665.5C125.5 667.7 126.0 677.4 126.3 680.5C126.7 685.7 127.5 696.2 127.9 696.2C128.3 696.2 129.0 688.0 129.4 685.5C129.7 683.5 130.3 678.7 130.7 678.7C131.2 678.7 132.0 680.5 132.5 680.5C132.9 680.5 133.4 674.5 133.8 673.0C134.2 671.3 134.9 668.1 135.3 668.0C135.9 667.9 136.9 667.8 137.5 667.8C137.9 667.8 138.6 673.0 139.0 673.0C139.5 673.0 140.2 669.2 140.7 668.0C141.2 666.7 142.0 663.6 142.5 663.6C143.0 663.6 143.9 664.0 144.4 664.3C144.9 664.5 145.8 666.8 146.3 666.8C146.8 666.8 147.7 663.3 148.2 663.3C148.7 663.3 149.5 666.8 150.0 666.8C150.5 666.8 151.4 664.3 151.9 664.3C152.4 664.3 153.1 670.5 153.5 670.5C153.9 670.5 154.6 667.4 155.1 667.4C155.5 667.4 156.4 672.4 156.9 672.4C157.4 672.4 158.3 662.1 158.8 661.8C159.2 661.5 159.9 661.1 160.3 661.1C160.9 661.1 162.0 670.5 162.6 670.5C163.1 670.5 163.9 662.2 164.4 661.8C164.8 661.5 165.3 661.1 165.7 661.1C166.2 661.1 167.1 666.1 167.6 666.1C168.1 666.1 168.9 664.3 169.4 664.3C169.9 664.3 170.8 670.5 171.3 670.5C171.8 670.5 172.7 661.1 173.2 661.1C173.5 661.1 174.1 661.8 174.4 662.4C175.0 663.4 176.0 683.7 176.6 683.7C177.0 683.7 177.8 666.9 178.2 664.3C178.7 661.3 179.6 656.8 180.1 656.8C180.4 656.8 181.0 657.1 181.3 657.4C181.8 657.8 182.7 663.6 183.2 663.6C183.7 663.6 184.6 661.5 185.1 660.5C185.8 659.1 187.1 654.3 187.8 654.3C188.3 654.3 189.0 660.8 189.4 661.8C189.8 662.5 190.4 662.9 190.7 663.6C191.0 664.4 191.6 666.3 191.9 668.0C192.4 670.7 193.3 691.8 193.8 691.8C194.2 691.8 194.7 684.3 195.1 684.3C195.4 684.3 196.0 684.3 196.3 684.3C196.8 684.3 197.7 676.2 198.2 676.2C198.5 676.2 199.1 677.4 199.4 677.4C200.0 677.4 200.8 674.3 201.3 674.3C201.7 674.3 202.4 679.9 202.8 679.9C203.3 679.9 204.0 669.0 204.5 668.0C205.0 666.9 205.8 665.5 206.3 665.5C206.7 665.5 207.2 666.2 207.6 666.8C208.1 667.6 209.0 676.2 209.5 676.2C209.9 676.2 210.7 671.2 211.1 671.2C211.5 671.2 212.2 694.3 212.6 694.3C213.0 694.3 213.7 689.9 214.1 689.9C214.6 689.9 215.6 712.4 216.1 712.4C216.5 712.4 217.2 693.2 217.6 686.8C218.0 680.4 218.7 665.4 219.1 664.3C219.5 663.1 220.3 662.5 220.7 661.8C221.3 660.8 222.3 657.4 222.8 657.4C223.3 657.4 224.0 660.0 224.5 660.5C224.8 661.0 225.4 661.2 225.7 661.8C226.3 662.7 227.3 679.3 227.8 679.3C228.4 679.3 229.5 658.6 230.1 658.6C230.4 658.6 231.0 660.7 231.3 661.8C231.9 663.4 232.7 671.8 233.2 671.8C233.9 671.8 235.1 656.1 235.7 656.1C236.2 656.1 237.1 658.8 237.6 659.3C238.1 659.7 239.0 660.5 239.5 660.5C240.0 660.5 240.9 658.0 241.4 658.0C241.9 658.0 242.7 659.3 243.2 659.3C243.7 659.3 244.6 659.3 245.1 659.3C245.6 659.3 246.5 660.9 247.0 661.8C247.3 662.4 247.9 663.5 248.2 664.9C248.7 666.7 249.4 691.8 249.9 691.8C250.3 691.8 251.0 660.2 251.4 659.3C251.8 658.3 252.5 657.4 252.9 657.4C253.3 657.4 254.1 661.8 254.5 661.8C255.3 661.8 256.7 653.0 257.5 653.0C257.9 653.0 258.6 657.4 259.0 660.5C259.4 663.9 260.2 690.5 260.6 691.2C261.1 691.8 261.8 691.8 262.3 692.4C262.7 693.1 263.5 738.1 264.0 738.1C264.5 738.1 265.5 688.0 266.0 688.0C266.3 688.0 266.9 698.0 267.3 705.6C267.5 711.6 268.0 757.9 268.3 757.9C268.6 757.9 269.2 701.9 269.5 693.0C269.9 682.4 270.6 669.6 271.0 666.8C271.3 664.4 271.9 661.1 272.3 661.1C272.7 661.1 273.4 665.7 273.8 668.0C274.3 670.9 275.1 672.6 275.6 683.0C275.7 683.8 275.7 701.6 275.8 705.6C276.0 735.9 276.5 777.4 276.8 777.4C277.1 777.4 277.6 715.1 277.9 705.6C278.4 689.6 279.3 670.2 279.8 668.0C280.2 666.3 280.9 664.3 281.3 664.3C281.7 664.3 282.4 668.0 282.8 668.0C283.2 668.0 284.0 659.9 284.4 659.9C284.9 659.9 285.8 664.3 286.3 664.3C286.7 664.3 287.4 660.5 287.8 660.5C288.3 660.5 289.2 674.3 289.8 674.3C290.3 674.3 291.3 659.3 291.9 659.3C292.2 659.3 292.8 666.8 293.1 666.8C293.7 666.8 294.5 659.9 295.0 659.9C295.7 659.9 296.9 660.7 297.5 661.1C298.0 661.5 298.9 663.0 299.4 663.0C299.9 663.0 300.8 659.9 301.3 659.9C301.9 659.9 303.1 661.8 303.8 661.8C304.4 661.8 305.4 661.1 306.0 660.5C306.6 660.0 307.6 654.9 308.2 654.9C308.7 654.9 309.5 663.0 310.0 663.0C310.5 663.0 311.4 659.3 311.9 659.3C312.2 659.3 312.6 663.0 312.8 663.0C313.4 663.0 314.4 657.8 315.1 656.8C315.5 655.9 316.4 654.3 316.9 654.3C317.3 654.3 317.8 659.3 318.2 661.8C318.5 664.2 319.1 673.7 319.4 673.7C319.9 673.7 320.6 660.0 321.1 659.3C321.6 658.3 322.6 657.4 323.2 657.4C323.5 657.4 324.1 660.9 324.4 663.0C324.8 665.1 325.3 676.8 325.7 676.8C326.2 676.8 327.1 669.3 327.6 669.3C328.2 669.3 329.2 678.0 329.8 678.0C330.4 678.0 331.4 666.8 331.9 666.8C332.4 666.8 333.3 668.0 333.8 668.0C334.3 668.0 335.2 666.9 335.7 666.1C336.2 665.4 337.1 659.3 337.6 659.3C338.1 659.3 338.9 661.3 339.4 663.0C339.9 664.5 340.6 678.7 341.1 678.7C341.6 678.7 342.6 664.3 343.2 663.6C343.7 663.1 344.6 662.8 345.1 662.4C345.7 661.9 346.9 660.5 347.6 659.9C348.2 659.3 349.4 658.0 350.1 658.0C350.6 658.0 351.4 660.3 351.9 661.1C352.4 661.9 353.3 664.0 353.8 664.0C354.2 664.0 354.7 662.8 355.1 662.8C355.5 662.8 356.2 665.3 356.6 665.3C357.0 665.3 357.8 664.0 358.2 664.0C358.7 664.0 359.6 664.5 360.1 664.5C360.5 664.5 361.2 662.8 361.6 662.8C362.0 662.8 362.8 663.3 363.2 663.3C363.6 663.3 364.4 661.9 364.8 661.1C365.2 660.5 365.9 657.6 366.3 657.4C367.0 657.1 368.2 656.8 368.8 656.8C369.7 656.8 371.1 663.6 372.0 663.6C372.5 663.6 373.3 657.7 373.8 656.8C374.3 655.8 375.2 654.3 375.7 654.3C376.4 654.3 377.6 657.1 378.2 658.0C378.9 658.9 380.1 661.1 380.7 661.1C381.2 661.1 382.1 660.5 382.6 660.5C382.9 660.5 383.5 675.5 383.9 675.5C384.3 675.5 385.2 661.1 385.7 661.1C386.1 661.1 386.6 670.2 387.0 674.3C387.3 678.4 387.9 685.2 388.2 693.0C388.8 705.7 389.7 833.6 390.2 833.6C390.7 833.6 391.5 707.5 392.0 693.0C392.3 682.7 392.9 668.5 393.2 668.0C393.7 667.3 394.6 667.4 395.1 666.8C395.4 666.4 396.0 662.0 396.4 661.8C396.9 661.4 397.7 661.1 398.2 661.1C398.7 661.1 399.6 677.4 400.1 677.4C400.5 677.4 401.2 674.3 401.6 674.3C402.0 674.3 402.8 679.3 403.2 679.3C403.7 679.3 404.6 673.8 405.1 671.8C405.8 669.1 406.9 661.8 407.6 661.8C408.1 661.8 409.0 675.8 409.5 680.5C410.2 686.8 411.3 702.4 412.0 702.4C412.5 702.4 413.4 685.3 413.9 680.5C414.4 675.8 415.2 665.5 415.8 665.5C416.2 665.5 417.1 667.0 417.6 668.0C418.3 669.4 419.5 681.8 420.1 681.8C420.6 681.8 421.5 673.3 422.0 671.8C422.5 670.4 423.3 669.2 423.8 668.0C424.1 667.2 424.7 665.5 425.0 664.3C425.4 662.8 426.1 656.8 426.5 656.8C426.8 656.8 427.2 660.4 427.5 663.0C427.8 665.6 428.2 683.8 428.5 684.3C428.8 684.9 429.4 684.9 429.8 685.5C430.1 686.2 430.7 702.7 431.0 705.6C431.3 708.5 431.9 713.1 432.3 713.1C432.6 713.1 433.2 692.6 433.5 686.8C433.8 681.0 434.4 668.0 434.8 668.0C435.0 668.0 435.4 668.0 435.6 668.0C436.1 668.0 436.8 681.8 437.3 681.8C437.7 681.8 438.4 666.4 438.8 665.5C439.2 664.6 440.0 663.6 440.4 663.6C440.7 663.6 441.3 669.5 441.6 671.8C441.9 673.8 442.5 679.9 442.8 679.9C443.1 679.9 443.7 664.9 444.0 663.0C444.4 661.2 444.9 658.6 445.3 658.6C445.7 658.6 446.5 662.6 446.9 664.3C447.4 666.3 448.3 673.0 448.8 673.0C449.3 673.0 450.2 665.3 450.6 664.3C451.2 663.2 452.0 662.5 452.5 661.8C453.1 660.9 454.2 657.8 454.8 657.8C455.3 657.8 456.3 660.2 456.9 660.5C457.4 660.8 458.3 661.1 458.8 661.1C459.4 661.1 460.6 657.4 461.3 657.4C461.8 657.4 462.7 658.7 463.2 659.3C463.7 659.8 464.5 661.8 465.0 661.8C465.6 661.8 466.7 653.6 467.3 653.6C467.8 653.6 468.6 656.2 469.0 657.4C469.5 658.6 470.2 661.3 470.7 663.0C471.2 665.0 472.0 671.8 472.5 671.8C473.1 671.8 474.2 662.4 474.8 662.4C475.2 662.4 475.9 670.2 476.3 671.8C476.6 673.1 477.2 674.7 477.6 675.5C477.9 676.3 478.5 676.9 478.8 678.0C479.1 679.2 479.7 685.6 480.1 690.5C480.3 694.5 480.8 710.8 481.1 718.1C481.3 724.5 481.7 741.8 481.9 741.8C482.2 741.8 482.7 714.0 482.9 705.6C483.2 696.1 483.8 678.0 484.1 674.3C484.4 670.1 485.0 665.3 485.3 664.3C485.8 662.6 486.8 660.5 487.3 660.5C487.9 660.5 488.9 661.5 489.4 661.8C489.8 661.9 490.3 662.4 490.7 662.4C491.2 662.4 492.1 659.3 492.6 659.3C492.9 659.3 493.5 662.6 493.8 665.5C494.1 667.8 494.5 687.6 494.8 693.0C495.0 697.8 495.5 707.4 495.7 707.4C496.0 707.4 496.6 692.9 496.9 689.3C497.3 685.7 497.9 678.7 498.2 678.7C498.7 678.7 499.6 699.3 500.1 699.3C500.6 699.3 501.4 691.8 501.9 691.8C502.4 691.8 503.1 691.8 503.6 691.8C504.0 691.8 504.9 681.4 505.3 678.0C505.9 673.7 507.0 663.0 507.6 663.0C508.0 663.0 508.7 666.6 509.1 668.0C509.4 669.2 510.0 673.0 510.3 673.0C510.7 673.0 511.2 670.5 511.6 670.5C512.0 670.5 512.8 682.4 513.2 682.4C513.7 682.4 514.6 669.8 515.1 668.0C515.7 665.6 516.9 662.4 517.6 662.4C518.2 662.4 519.2 671.2 519.8 671.2C520.4 671.2 521.4 658.6 522.0 658.6C522.6 658.6 523.8 659.3 524.5 659.3C525.0 659.3 525.8 656.8 526.3 656.8C527.0 656.8 528.2 659.3 528.8 659.3C529.3 659.3 530.2 659.0 530.7 658.6C531.0 658.4 531.6 655.5 532.0 655.5C532.3 655.5 532.9 656.8 533.2 657.4C533.7 658.3 534.6 661.8 535.1 661.8C535.6 661.8 536.5 659.1 537.0 658.6C537.5 658.2 538.3 657.6 538.8 657.4C539.5 657.2 540.7 656.8 541.3 656.8C541.8 656.8 542.7 662.7 543.2 663.0C543.7 663.3 544.6 663.3 545.1 663.6C545.6 664.0 546.5 671.5 547.0 674.3C547.3 676.1 547.9 681.2 548.2 681.2C548.7 681.2 549.6 674.3 550.1 673.7C550.5 673.1 551.2 672.4 551.6 672.4C552.0 672.4 552.8 674.7 553.2 676.2C553.7 677.8 554.6 684.1 555.1 688.0C555.4 690.7 556.0 695.9 556.4 700.5C556.6 704.3 557.1 722.4 557.4 722.4C557.6 722.4 558.1 713.1 558.4 713.1C558.6 713.1 558.9 719.3 559.1 723.1C559.4 729.3 560.0 756.5 560.4 768.1C561.2 795.9 562.6 867.5 563.4 867.5C564.2 867.5 565.6 797.5 566.4 768.1C566.7 755.9 567.3 726.0 567.6 718.1C568.0 708.5 568.7 696.7 569.1 693.0C569.6 689.1 570.3 684.1 570.7 683.0C571.2 682.0 571.9 680.5 572.4 680.5C572.8 680.5 573.7 686.8 574.1 686.8C574.6 686.8 575.3 674.7 575.8 671.8C576.1 669.1 576.9 663.6 577.2 663.6C577.8 663.6 578.8 663.6 579.4 663.6C579.9 663.6 580.8 664.1 581.2 664.3C581.7 664.4 582.4 664.9 582.8 664.9C583.1 664.9 583.7 659.1 584.0 658.6C584.4 658.1 585.2 657.4 585.6 657.4C586.0 657.4 586.5 659.1 586.9 659.9C587.2 660.7 587.8 664.3 588.1 664.3C588.5 664.3 589.1 661.1 589.4 661.1C589.6 661.1 590.0 665.0 590.3 668.0C590.5 671.5 591.0 692.6 591.3 705.6C591.5 718.5 592.0 774.0 592.3 774.0C592.6 774.0 593.2 718.5 593.5 705.6C593.8 692.6 594.4 672.3 594.8 668.0C595.0 665.0 595.4 660.5 595.6 660.5C595.9 660.5 596.3 665.8 596.5 668.0C596.8 670.6 597.3 679.3 597.5 679.3C597.8 679.3 598.3 671.2 598.5 668.0C598.8 665.3 599.2 657.7 599.4 657.4C599.9 656.7 600.8 656.4 601.3 656.1C601.9 655.8 603.1 655.3 603.8 655.3C604.3 655.3 605.1 656.5 605.6 657.4C606.1 658.1 606.8 661.3 607.3 663.0C607.7 664.9 608.6 671.8 609.0 671.8C609.5 671.8 610.2 665.1 610.6 663.0C611.0 661.4 611.6 658.3 611.9 657.4C612.2 656.5 612.8 654.9 613.1 654.9C613.5 654.9 614.1 656.4 614.4 657.4C614.7 658.4 615.3 664.9 615.7 664.9C616.0 664.9 616.6 664.2 616.9 663.6C617.2 663.1 617.8 658.5 618.2 657.4C618.6 656.0 619.3 653.6 619.8 653.6C620.0 653.6 620.4 659.4 620.7 663.0C620.9 666.6 621.3 681.8 621.5 686.8C621.8 692.6 622.3 704.7 622.5 704.7C622.8 704.7 623.3 691.4 623.5 686.8C623.9 681.0 624.5 668.8 624.8 665.5C625.1 662.2 625.7 657.5 626.0 656.8C626.4 655.9 627.1 654.9 627.5 654.9C628.0 654.9 628.9 655.7 629.4 656.1C629.9 656.5 630.6 658.1 631.0 658.6C631.4 659.2 632.1 660.5 632.5 660.5C633.0 660.5 633.9 659.7 634.4 659.3C634.9 658.8 635.8 656.8 636.3 656.8C636.6 656.8 637.2 662.2 637.5 665.5C637.8 668.2 638.3 682.4 638.5 682.4C638.9 682.4 639.5 670.8 639.8 668.0C640.1 665.3 640.7 659.9 641.0 659.9C641.4 659.9 642.0 680.4 642.3 686.8C642.6 692.6 643.1 706.4 643.4 706.4C643.8 706.4 644.3 687.7 644.7 683.0C644.9 679.3 645.4 671.8 645.7 671.8C646.1 671.8 646.8 686.8 647.2 686.8C647.5 686.8 648.2 672.0 648.6 668.0C648.9 664.4 649.5 658.1 649.8 656.8C650.1 655.5 650.7 653.6 651.1 653.6C651.5 653.6 652.2 657.4 652.6 657.4C653.1 657.4 653.9 655.5 654.4 655.5C654.9 655.5 655.8 656.1 656.3 656.1C656.8 656.1 657.7 655.1 658.2 654.9C658.9 654.6 660.0 654.5 660.7 654.3C661.2 654.1 662.1 653.6 662.6 653.6C663.0 653.6 663.7 656.3 664.1 657.4C664.4 658.3 665.0 660.9 665.3 660.9C665.8 660.9 666.5 658.3 666.9 657.4C667.4 656.5 668.1 654.7 668.6 654.3C669.0 653.8 669.9 653.0 670.3 653.0C670.9 653.0 671.8 653.3 672.3 653.6C672.7 653.9 673.4 655.9 673.8 656.8C674.2 657.5 674.7 659.9 675.1 659.9C675.6 659.9 676.5 658.0 677.0 657.4C677.5 656.8 678.3 655.5 678.8 655.5C679.5 655.5 680.7 657.4 681.3 657.4C681.8 657.4 682.7 654.9 683.2 654.9C683.7 654.9 684.6 656.1 685.1 656.1C685.6 656.1 686.5 655.4 687.0 654.9C687.4 654.5 688.2 652.4 688.6 652.4C689.0 652.4 689.7 655.9 690.1 657.4C690.5 658.9 691.2 663.6 691.6 663.6C692.0 663.6 692.8 658.9 693.2 657.4C693.5 656.3 694.1 653.6 694.5 653.6C695.0 653.6 695.8 655.8 696.3 656.1C697.0 656.6 698.2 657.2 698.8 657.4C699.5 657.6 700.7 657.8 701.3 658.0C702.0 658.2 703.2 658.7 703.9 659.3C704.3 659.7 705.2 662.5 705.7 663.6C706.2 664.8 707.1 667.6 707.6 667.6C708.1 667.6 709.0 663.5 709.5 661.8C709.9 660.3 710.7 656.5 711.1 655.5C711.5 654.6 712.2 653.0 712.6 653.0C713.1 653.0 714.0 654.2 714.5 654.9C715.0 655.6 715.9 657.9 716.4 658.6C716.8 659.3 717.5 660.5 717.9 660.5C718.5 660.5 719.5 657.9 720.1 657.4C720.6 657.0 721.5 656.1 722.0 656.1C722.5 656.1 723.4 659.3 723.9 659.3C724.4 659.3 725.2 653.6 725.7 653.6C726.2 653.6 726.9 654.7 727.4 655.5C727.8 656.3 728.5 662.6 728.9 665.5C729.4 669.4 730.3 681.8 730.9 681.8C731.3 681.8 732.0 669.1 732.4 665.5C732.8 662.0 733.5 654.5 733.9 654.3C734.4 653.9 735.2 653.6 735.8 653.6C736.1 653.6 736.6 654.0 736.9 654.3C737.2 654.6 737.8 669.8 738.1 674.3C738.5 679.6 739.2 691.2 739.6 691.2C740.0 691.2 740.6 679.2 741.0 674.3C741.3 669.7 741.9 656.4 742.3 655.5C742.6 654.6 743.2 653.9 743.5 653.6C744.1 653.3 745.1 652.8 745.6 652.8C746.1 652.8 747.0 654.1 747.5 654.3C748.2 654.5 749.3 654.9 750.0 654.9C750.7 654.9 751.8 654.3 752.5 654.3C753.2 654.3 754.4 657.4 755.0 657.4C755.7 657.4 756.9 654.9 757.5 654.9C758.2 654.9 759.4 658.0 760.0 658.0C760.5 658.0 761.4 657.7 761.9 657.4C762.4 657.1 763.3 652.4 763.8 652.4C764.3 652.4 765.1 653.6 765.6 654.3C766.1 654.8 766.8 657.4 767.3 657.4C767.7 657.4 768.4 654.9 768.8 654.9C769.0 654.9 769.5 665.1 769.8 668.0C770.2 672.4 770.9 681.8 771.3 681.8C771.6 681.8 772.2 671.9 772.5 668.0C772.8 664.9 773.3 656.2 773.5 655.5C773.9 654.6 774.6 653.6 775.0 653.6C775.7 653.6 776.9 654.9 777.5 654.9C778.2 654.9 779.4 654.9 780.0 654.9C780.5 654.9 781.4 653.6 781.9 653.6C782.4 653.6 783.3 656.3 783.8 656.8C784.3 657.2 785.2 658.0 785.7 658.0C786.2 658.0 787.0 657.4 787.5 657.4C788.0 657.4 788.9 657.4 789.4 657.4C789.9 657.4 790.8 655.4 791.3 654.9C791.7 654.5 792.4 653.6 792.8 653.6C793.1 653.6 793.7 658.3 794.0 661.8C794.3 664.6 794.8 682.3 795.0 686.8C795.3 691.8 795.9 700.9 796.2 700.9C796.5 700.9 797.0 692.1 797.3 686.8C797.5 682.7 797.9 664.3 798.2 661.8C798.5 658.1 799.1 653.9 799.4 653.6C799.9 653.3 800.8 653.0 801.3 653.0C801.8 653.0 802.7 653.3 803.2 653.6C803.5 653.8 804.1 656.8 804.4 656.8C804.9 656.8 805.8 655.1 806.3 654.9C807.0 654.6 808.1 654.5 808.8 654.3C809.5 654.0 810.6 652.4 811.3 652.4C811.8 652.4 812.7 654.2 813.2 654.9C813.7 655.6 814.6 656.5 815.1 657.4C815.5 658.1 816.2 660.1 816.6 661.1C816.9 662.0 817.5 664.3 817.8 664.3C818.1 664.3 818.7 658.4 819.1 657.4C819.5 656.1 820.3 654.5 820.7 654.3C821.4 654.0 822.5 653.6 823.2 653.6C823.9 653.6 825.0 654.3 825.7 654.9C826.2 655.3 827.1 659.6 827.6 659.9C828.1 660.2 828.9 660.2 829.5 660.5C829.9 660.8 830.8 663.3 831.3 664.3C831.7 664.9 832.2 666.8 832.6 666.8C833.1 666.8 833.9 666.1 834.5 666.1C834.9 666.1 835.6 667.6 836.1 667.6C836.5 667.6 837.2 665.3 837.6 664.3C838.0 663.3 838.7 660.8 839.1 659.9C839.6 658.7 840.5 656.7 841.1 656.1C841.5 655.7 842.4 654.9 842.8 654.9C843.4 654.9 844.5 658.0 845.1 658.0C845.6 658.0 846.5 656.0 847.0 655.5C847.5 655.1 848.3 654.3 848.8 654.3C849.2 654.3 849.9 656.3 850.3 657.4C850.8 658.6 851.5 664.9 852.0 664.9C852.4 664.9 853.2 659.3 853.6 659.3C854.0 659.3 854.7 659.9 855.1 659.9C855.6 659.9 856.5 656.8 857.0 656.8C857.4 656.8 858.2 657.4 858.6 657.4C859.0 657.4 859.7 655.1 860.1 654.9C860.6 654.6 861.5 654.3 862.0 654.3C862.5 654.3 863.3 656.6 863.9 658.0C864.2 659.1 865.0 663.4 865.4 664.3C865.8 665.3 866.5 666.8 867.0 666.8C867.4 666.8 868.2 663.3 868.6 661.8C869.0 660.4 869.7 655.5 870.1 655.5C870.5 655.5 871.2 663.8 871.6 665.5C871.8 666.4 872.1 668.0 872.4 668.0C872.6 668.0 873.0 663.1 873.2 661.8C873.6 659.9 874.1 656.1 874.5 656.1C875.0 656.1 875.9 656.8 876.4 656.8C876.9 656.8 877.7 655.3 878.2 654.9C878.7 654.5 879.6 653.6 880.1 653.6C880.6 653.6 881.5 655.9 882.0 657.4C882.3 658.4 882.9 662.8 883.2 664.3C883.8 666.9 884.9 672.0 885.5 672.0C885.9 672.0 886.6 666.7 887.0 664.3C887.3 662.3 887.9 656.4 888.2 655.5C888.7 654.4 889.4 653.0 889.9 653.0C890.3 653.0 891.0 653.8 891.4 654.3C891.7 654.6 892.3 656.1 892.6 656.1C893.3 656.1 894.5 655.1 895.1 654.9C895.8 654.7 896.9 654.5 897.5 654.3C898.2 654.0 899.3 652.8 900.0 652.8C900.5 652.8 901.4 653.6 901.9 654.3C902.2 654.7 902.8 657.4 903.1 657.4C903.6 657.4 904.3 657.4 904.8 657.4C905.2 657.4 906.0 655.5 906.5 655.5C907.1 655.5 908.2 656.1 908.8 656.1C909.3 656.1 910.1 654.7 910.6 654.3C911.1 653.8 912.0 652.8 912.5 652.8C913.2 652.8 914.4 653.6 915.0 653.6C915.7 653.6 916.9 653.3 917.5 653.3C918.2 653.3 919.4 653.8 920.0 654.3C920.5 654.6 921.4 656.5 921.9 656.8C922.3 657.0 923.1 657.1 923.5 657.4C923.9 657.7 924.6 661.5 925.0 661.5C925.4 661.5 926.1 656.2 926.5 655.5C927.0 654.7 927.7 653.8 928.1 653.6C928.8 653.4 930.0 653.3 930.6 653.0C931.2 652.8 932.0 651.8 932.5 651.8C933.0 651.8 933.9 653.6 934.4 654.9C934.7 655.8 935.3 661.5 935.7 661.5C936.0 661.5 936.6 656.6 936.9 655.5C937.2 654.4 937.8 652.6 938.2 652.4C938.7 652.1 939.5 651.8 940.0 651.8C940.5 651.8 941.4 653.0 941.9 653.6C942.4 654.3 943.3 656.8 943.8 656.8C944.3 656.8 945.2 655.9 945.7 655.5C946.2 655.2 947.0 654.6 947.5 654.3C948.2 653.9 949.4 653.0 950.0 653.0C950.7 653.0 951.9 653.4 952.5 653.6C953.1 653.9 954.2 656.1 954.8 656.1C955.2 656.1 955.9 655.3 956.3 654.9C956.6 654.5 957.2 653.0 957.5 653.0C958.0 653.0 958.9 653.4 959.4 653.6C959.9 653.9 960.8 654.5 961.3 654.9C961.9 655.4 962.9 657.4 963.5 657.4C964.0 657.4 964.8 655.1 965.3 654.9C965.9 654.6 966.9 654.5 967.5 654.3C968.2 654.0 969.2 653.0 969.8 653.0C970.3 653.0 971.1 656.1 971.6 656.1C971.9 656.1 972.5 654.9 972.8 654.9C973.1 654.9 973.7 656.8 974.1 656.8C974.5 656.8 975.3 656.4 975.7 656.1C976.2 655.9 977.1 654.5 977.6 654.3C978.2 654.0 979.4 653.6 980.1 653.6C980.7 653.6 981.9 654.3 982.6 654.3C983.2 654.3 984.4 653.9 985.1 653.6C985.7 653.4 986.9 652.4 987.6 652.4C988.1 652.4 988.9 656.1 989.5 656.1C989.9 656.1 990.8 654.2 991.3 653.6C991.8 653.1 992.7 651.8 993.2 651.8C993.7 651.8 994.6 652.2 995.1 652.4C995.7 652.6 996.9 653.0 997.6 653.0C998.2 653.0 999.4 652.4 1000.1 652.4C1000.7 652.4 1001.7 652.7 1002.3 653.0C1002.7 653.2 1003.2 664.1 1003.6 668.0C1004.0 673.1 1004.8 686.8 1005.2 686.8C1005.6 686.8 1006.2 672.5 1006.6 668.0C1006.9 664.0 1007.5 654.5 1007.8 654.3C1008.3 653.9 1009.0 653.6 1009.5 653.6C1010.0 653.6 1010.8 654.8 1011.3 655.5C1011.8 656.2 1012.7 659.9 1013.2 659.9C1013.6 659.9 1014.4 655.3 1014.8 654.9C1015.4 654.3 1016.4 653.6 1017.0 653.6C1017.6 653.6 1018.8 653.6 1019.5 653.6C1020.0 653.6 1020.8 651.8 1021.3 651.8C1022.0 651.8 1023.2 652.9 1023.9 653.6C1024.2 654.1 1025.0 655.2 1025.3 656.1C1025.7 656.9 1026.3 660.5 1026.6 660.5C1026.9 660.5 1027.5 657.8 1027.8 657.4C1028.4 656.8 1029.3 656.6 1029.8 656.1C1030.2 655.8 1030.9 654.3 1031.3 654.3C1031.7 654.3 1032.3 662.1 1032.6 663.0C1032.9 663.8 1033.3 664.9 1033.6 664.9C1033.9 664.9 1034.5 658.3 1034.8 657.4C1035.3 656.3 1036.0 655.1 1036.4 654.9C1037.0 654.6 1038.2 654.4 1038.9 654.3C1039.5 654.1 1040.7 653.6 1041.4 653.6C1041.9 653.6 1042.7 656.1 1043.2 657.4C1043.7 658.7 1044.6 664.9 1045.1 664.9C1045.5 664.9 1046.2 661.4 1046.6 659.9C1046.9 658.7 1047.5 654.9 1047.9 654.9C1048.3 654.9 1049.1 656.5 1049.5 657.4C1049.9 658.3 1050.7 661.8 1051.1 661.8C1051.5 661.8 1052.2 656.0 1052.6 655.5C1053.1 654.9 1054.0 654.3 1054.5 654.3C1054.6 654.3 1054.9 654.8 1055.0 654.9C1055.7 655.2 1056.8 655.3 1057.5 655.5C1058.2 655.8 1059.3 657.0 1060.0 657.4C1060.7 657.8 1061.8 658.2 1062.5 658.6C1063.0 659.0 1063.9 660.0 1064.4 661.1C1064.7 661.9 1065.3 665.7 1065.6 668.0C1066.0 670.9 1066.7 683.7 1067.1 683.7C1067.5 683.7 1068.1 675.5 1068.5 675.5C1068.8 675.5 1069.4 677.1 1069.8 678.0C1070.1 678.9 1070.7 683.0 1071.0 683.0C1071.4 683.0 1072.1 675.3 1072.5 673.7C1072.9 672.1 1073.6 669.3 1074.0 669.3C1074.4 669.3 1075.2 673.7 1075.6 673.7C1076.1 673.7 1076.8 669.7 1077.3 668.0C1077.7 666.5 1078.4 663.0 1078.8 661.8C1079.3 660.3 1080.1 658.0 1080.6 657.4C1081.3 656.6 1082.5 655.8 1083.2 655.5C1083.8 655.3 1085.0 655.1 1085.7 654.9C1086.2 654.7 1087.2 653.6 1087.8 653.6C1088.2 653.6 1089.0 654.3 1089.4 654.9C1089.7 655.3 1090.3 659.2 1090.7 659.9C1091.0 660.6 1091.6 661.8 1091.9 661.8C1092.3 661.8 1093.1 656.3 1093.5 655.5C1093.9 654.8 1094.6 653.6 1095.0 653.6C1095.4 653.6 1095.9 659.9 1096.3 661.8C1096.6 663.7 1097.2 668.0 1097.5 668.0C1097.9 668.0 1098.4 663.8 1098.8 661.8C1099.0 660.2 1099.5 654.3 1099.8 654.3C1100.1 654.3 1100.6 664.8 1100.9 668.0C1101.2 671.2 1101.7 678.7 1102.0 678.7C1102.3 678.7 1102.9 670.7 1103.2 668.0C1103.5 665.0 1104.1 658.6 1104.4 657.4C1104.8 655.8 1105.6 653.9 1106.0 653.6C1106.6 653.3 1107.6 653.0 1108.2 653.0C1108.8 653.0 1110.0 653.6 1110.7 653.6C1111.2 653.6 1112.2 653.0 1112.8 653.0C1113.3 653.0 1114.3 655.5 1114.8 655.5C1115.4 655.5 1116.4 654.5 1116.9 654.3C1117.6 654.0 1118.8 653.8 1119.4 653.6C1120.1 653.5 1121.3 653.0 1121.9 653.0C1122.4 653.0 1123.3 654.3 1123.8 654.3C1124.4 654.3 1125.5 653.0 1126.0 653.0C1126.6 653.0 1127.6 653.4 1128.2 653.6C1128.6 653.9 1129.4 656.1 1129.8 656.1C1130.3 656.1 1131.1 653.6 1131.6 653.6C1132.0 653.6 1132.7 655.5 1133.2 655.5C1133.7 655.5 1134.6 653.0 1135.1 653.0C1135.6 653.0 1136.4 654.1 1136.9 654.9C1137.4 655.6 1138.1 661.1 1138.6 661.1C1138.9 661.1 1139.5 659.9 1139.8 659.9C1140.1 659.9 1140.7 664.5 1141.1 664.5C1141.4 664.5 1142.0 660.6 1142.3 659.3C1142.7 658.0 1143.2 655.4 1143.6 654.9C1144.1 654.1 1145.1 653.2 1145.7 653.0C1146.4 652.8 1147.5 652.4 1148.2 652.4C1148.9 652.4 1150.0 652.6 1150.7 652.8C1151.2 652.9 1152.1 654.2 1152.6 654.9C1152.9 655.4 1153.5 657.4 1153.8 657.4C1154.3 657.4 1155.2 654.0 1155.7 653.6C1156.1 653.4 1156.9 653.0 1157.3 653.0C1157.7 653.0 1158.4 659.6 1158.8 661.8C1159.2 663.9 1159.9 669.3 1160.3 669.3C1160.7 669.3 1161.3 664.0 1161.7 661.8C1162.0 660.0 1162.5 654.9 1162.8 654.3C1163.3 653.4 1164.0 652.4 1164.5 652.4C1165.0 652.4 1165.8 653.0 1166.3 653.0C1167.0 653.0 1168.2 651.8 1168.8 651.8C1169.5 651.8 1170.7 652.1 1171.3 652.4C1171.8 652.6 1172.7 654.3 1173.2 654.3C1173.9 654.3 1175.1 653.6 1175.7 653.6C1176.4 653.6 1177.6 653.6 1178.2 653.6C1178.9 653.6 1180.1 653.0 1180.7 653.0C1181.2 653.0 1182.1 654.3 1182.6 654.3C1183.0 654.3 1183.8 653.0 1184.2 653.0C1184.5 653.0 1185.0 659.0 1185.3 661.8C1185.8 665.5 1186.4 679.5 1186.8 679.5C1187.2 679.5 1187.9 664.9 1188.2 661.8C1188.6 658.9 1189.1 654.1 1189.5 653.6C1190.0 653.0 1190.9 652.4 1191.3 652.4C1191.9 652.4 1192.7 652.4 1193.2 652.4C1193.7 652.4 1194.6 654.4 1195.1 654.9C1195.6 655.3 1196.5 655.8 1197.0 656.1C1197.5 656.5 1198.4 657.4 1198.9 657.4C1199.3 657.4 1200.0 654.9 1200.4 654.9C1200.8 654.9 1201.6 655.5 1202.0 655.5C1202.5 655.5 1203.4 653.6 1203.9 653.6C1204.2 653.6 1204.8 659.6 1205.1 661.8C1205.5 664.4 1206.2 671.5 1206.6 671.5C1206.9 671.5 1207.5 664.0 1207.9 661.8C1208.2 659.5 1208.8 654.6 1209.1 654.3C1209.7 653.6 1210.8 653.3 1211.4 653.0C1212.0 652.7 1213.2 651.8 1213.9 651.8C1214.4 651.8 1215.2 654.0 1215.8 654.9C1216.1 655.5 1216.7 657.4 1217.0 657.4C1217.3 657.4 1217.9 654.0 1218.2 653.6C1218.7 653.1 1219.6 652.4 1220.1 652.4C1220.8 652.4 1222.0 654.0 1222.6 654.3C1223.3 654.5 1224.4 654.9 1225.0 654.9C1225.5 654.9 1226.4 652.4 1226.9 652.4C1227.4 652.4 1228.3 652.4 1228.8 652.4C1229.3 652.4 1230.2 654.3 1230.7 654.9C1231.0 655.3 1231.6 656.1 1231.9 656.1C1232.4 656.1 1233.3 653.4 1233.8 653.0C1234.5 652.5 1235.6 651.8 1236.3 651.8C1237.0 651.8 1238.1 652.2 1238.8 652.4C1239.5 652.6 1240.6 652.8 1241.3 653.0C1241.8 653.2 1242.7 654.3 1243.2 654.3C1243.7 654.3 1244.5 653.3 1245.0 653.0C1245.7 652.6 1246.9 651.8 1247.5 651.8C1248.0 651.8 1248.9 652.1 1249.4 652.4C1249.9 652.6 1250.8 654.3 1251.3 654.3C1251.8 654.3 1252.7 653.9 1253.2 653.6C1253.7 653.4 1254.6 652.4 1255.0 652.4C1255.6 652.4 1256.4 652.6 1256.9 652.8C1257.4 652.9 1258.3 654.5 1258.8 655.5C1259.2 656.3 1259.9 660.5 1260.3 660.5C1260.7 660.5 1261.5 656.4 1261.9 655.5C1262.4 654.6 1263.1 653.0 1263.6 653.0C1264.1 653.0 1265.1 653.5 1265.7 653.6C1266.2 653.8 1267.1 654.3 1267.6 654.3C1268.1 654.3 1268.9 653.0 1269.4 653.0C1269.9 653.0 1270.6 656.0 1271.1 657.4C1271.5 658.9 1272.4 664.5 1272.8 664.5C1273.3 664.5 1274.0 660.5 1274.4 659.3C1274.9 658.0 1275.6 655.6 1276.1 654.9C1276.6 653.9 1277.6 653.0 1278.2 652.4C1278.7 651.8 1279.6 650.5 1280.1 650.5C1280.6 650.5 1281.4 653.0 1282.0 653.6C1282.4 654.2 1283.1 655.5 1283.6 655.5C1284.0 655.5 1284.7 654.7 1285.1 654.3C1285.6 653.8 1286.5 651.8 1287.0 651.8C1287.5 651.8 1288.3 652.1 1288.8 652.4C1289.3 652.7 1290.2 654.9 1290.7 654.9C1291.1 654.9 1291.9 654.5 1292.3 654.3C1292.7 654.1 1293.4 653.2 1293.8 653.0C1294.5 652.7 1295.7 652.4 1296.3 652.4C1297.0 652.4 1298.2 652.7 1298.8 652.8C1299.5 652.9 1300.7 653.0 1301.3 653.0C1302.0 653.0 1303.2 652.4 1303.8 652.4C1304.3 652.4 1305.2 652.7 1305.7 653.0C1306.2 653.3 1306.9 656.3 1307.3 657.4C1307.7 658.2 1308.3 660.3 1308.6 660.3C1309.0 660.3 1309.7 656.6 1310.1 655.5C1310.4 654.6 1311.0 652.4 1311.3 652.4C1311.8 652.4 1312.7 655.5 1313.2 655.5C1313.7 655.5 1314.6 653.4 1315.1 653.0C1315.8 652.5 1316.9 651.8 1317.6 651.8C1318.3 651.8 1319.4 652.3 1320.1 652.4C1320.8 652.5 1321.9 652.6 1322.6 652.8C1323.1 652.9 1324.0 653.2 1324.5 653.6C1324.8 653.9 1325.4 657.9 1325.7 659.3C1326.1 660.6 1326.6 664.0 1327.0 664.0C1327.4 664.0 1328.1 658.9 1328.5 657.4C1328.8 656.0 1329.5 653.0 1329.9 653.0C1330.3 653.0 1331.0 653.0 1331.4 653.0C1331.7 653.0 1332.3 657.0 1332.6 659.3C1332.9 661.1 1333.3 666.6 1333.6 669.3" stroke="#000" stroke-width="2.1" fill="none" stroke-linejoin="round"/>
</g>
<path d="M98.1 500.3v13M98.1 876.3v-13M139.3 500.3v6.5M139.3 876.3v-6.5M180.5 500.3v6.5M180.5 876.3v-6.5M221.7 500.3v6.5M221.7 876.3v-6.5M262.8 500.3v6.5M262.8 876.3v-6.5M304.0 500.3v13M304.0 876.3v-13M345.2 500.3v6.5M345.2 876.3v-6.5M386.4 500.3v6.5M386.4 876.3v-6.5M427.6 500.3v6.5M427.6 876.3v-6.5M468.8 500.3v6.5M468.8 876.3v-6.5M510.0 500.3v13M510.0 876.3v-13M551.2 500.3v6.5M551.2 876.3v-6.5M592.3 500.3v6.5M592.3 876.3v-6.5M633.5 500.3v6.5M633.5 876.3v-6.5M674.7 500.3v6.5M674.7 876.3v-6.5M715.9 500.3v13M715.9 876.3v-13M757.1 500.3v6.5M757.1 876.3v-6.5M798.3 500.3v6.5M798.3 876.3v-6.5M839.5 500.3v6.5M839.5 876.3v-6.5M880.6 500.3v6.5M880.6 876.3v-6.5M921.8 500.3v13M921.8 876.3v-13M963.0 500.3v6.5M963.0 876.3v-6.5M1004.2 500.3v6.5M1004.2 876.3v-6.5M1045.4 500.3v6.5M1045.4 876.3v-6.5M1086.6 500.3v6.5M1086.6 876.3v-6.5M1127.8 500.3v13M1127.8 876.3v-13M1169.0 500.3v6.5M1169.0 876.3v-6.5M1210.1 500.3v6.5M1210.1 876.3v-6.5M1251.3 500.3v6.5M1251.3 876.3v-6.5M1292.5 500.3v6.5M1292.5 876.3v-6.5M1333.7 500.3v13M1333.7 876.3v-13M98.1 500.3h13M1333.7 500.3h-13M98.1 575.5h13M1333.7 575.5h-13M98.1 650.7h13M1333.7 650.7h-13M98.1 725.9h13M1333.7 725.9h-13M98.1 801.1h13M1333.7 801.1h-13M98.1 876.3h13M1333.7 876.3h-13" stroke="#000" stroke-width="1.3" fill="none"/>
<rect x="98.1" y="500.3" width="1235.6000000000001" height="375.99999999999994" fill="none" stroke="#000" stroke-width="1.4"/>
<text x="88.8" y="509.8" text-anchor="end" class="t">1.1</text>
<text x="88.8" y="585.0" text-anchor="end" class="t">1.05</text>
<text x="88.8" y="660.2" text-anchor="end" class="t">1</text>
<text x="88.8" y="735.4" text-anchor="end" class="t">0.95</text>
<text x="88.8" y="810.6" text-anchor="end" class="t">0.9</text>
<text x="88.8" y="885.8" text-anchor="end" class="t">0.85</text>
<text x="98.1" y="909.3" text-anchor="middle" class="t">2400</text>
<text x="304.0" y="909.3" text-anchor="middle" class="t">2500</text>
<text x="510.0" y="909.3" text-anchor="middle" class="t">2600</text>
<text x="715.9" y="909.3" text-anchor="middle" class="t">2700</text>
<text x="921.8" y="909.3" text-anchor="middle" class="t">2800</text>
<text x="1127.8" y="909.3" text-anchor="middle" class="t">2900</text>
<text x="1333.7" y="909.3" text-anchor="middle" class="t">3000</text>
<text x="701.3" y="940.8" class="a">[nm]</text>
<path d="M683.1 923.25Q685.6 922.90 686.5 925.60L691.7 940.90" stroke="#000" stroke-width="1.9" fill="none"/><path d="M687.7 933.20L680.2 941.00" stroke="#000" stroke-width="1.15" fill="none"/>
<text transform="translate(20.3,690.5) rotate(-90)" text-anchor="middle" textLength="430.5" lengthAdjust="spacing" class="a">Solar pseudo-transmittance spectrum</text>
<rect x="572.5" y="520.05" width="741.5" height="86.85" fill="#fff" stroke="#000" stroke-width="1.2"/>
<path d="M580.6 536.90h59.4" stroke="#ff0000" stroke-width="3.1"/>
<text x="646.5" y="544.6" class="l">SOLAR-ISS (V2.0) - Detrended</text>
<path d="M580.6 563.60h59.4" stroke="#ff00ff" stroke-width="1.4"/>
<text x="646.5" y="571.4" class="l">ACE-FTS (convolution with a Gaussian slit function - FWHM = 1 nm)</text>
<path d="M580.6 590.30h59.4" stroke="#000" stroke-width="2"/>
<text x="646.5" y="598.0" class="l">SPTS (convolution with a Gaussian slit function - FWHM = 1 nm)</text>
</svg>
</body></html>
